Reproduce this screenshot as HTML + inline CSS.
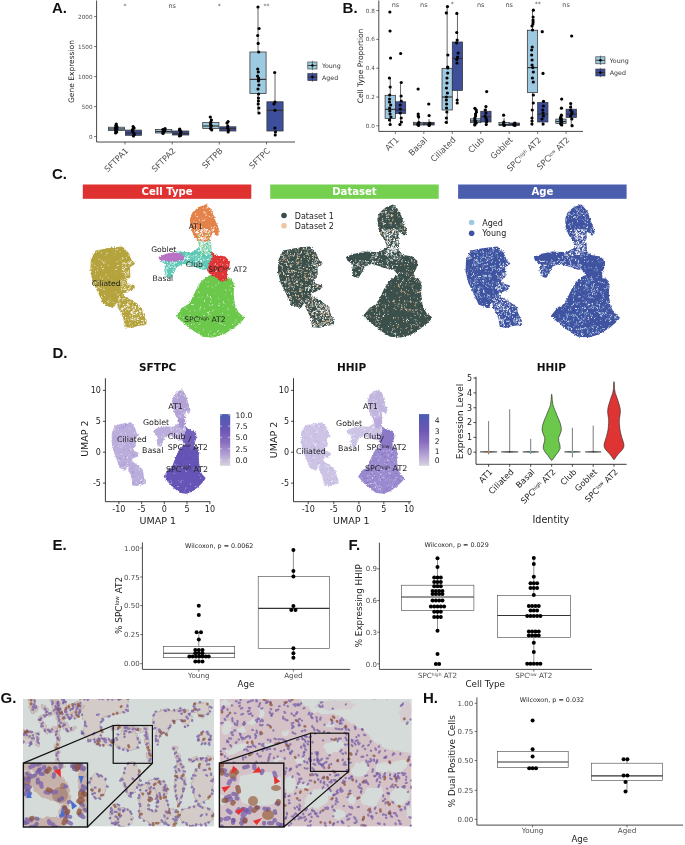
<!DOCTYPE html>
<html><head><meta charset="utf-8"><title>Figure</title>
<style>html,body{margin:0;padding:0;background:#fff;} svg{display:block;}</style></head>
<body><svg width="685" height="845" viewBox="0 0 685 845">
<rect width="685" height="845" fill="#fff"/>
<text x="52" y="13.3" font-size="15" fill="#111" text-anchor="start" font-weight="bold" font-family="'Liberation Sans', Arial, sans-serif">A.</text>
<text x="342.6" y="13" font-size="15" fill="#111" text-anchor="start" font-weight="bold" font-family="'Liberation Sans', Arial, sans-serif">B.</text>
<text x="52" y="179.3" font-size="15" fill="#111" text-anchor="start" font-weight="bold" font-family="'Liberation Sans', Arial, sans-serif">C.</text>
<text x="52.4" y="358.2" font-size="15" fill="#111" text-anchor="start" font-weight="bold" font-family="'Liberation Sans', Arial, sans-serif">D.</text>
<text x="52.5" y="549.8" font-size="15" fill="#111" text-anchor="start" font-weight="bold" font-family="'Liberation Sans', Arial, sans-serif">E.</text>
<text x="348.6" y="549.8" font-size="15" fill="#111" text-anchor="start" font-weight="bold" font-family="'Liberation Sans', Arial, sans-serif">F.</text>
<text x="0.5" y="703" font-size="15" fill="#111" text-anchor="start" font-weight="bold" font-family="'Liberation Sans', Arial, sans-serif">G.</text>
<text x="423" y="703" font-size="15" fill="#111" text-anchor="start" font-weight="bold" font-family="'Liberation Sans', Arial, sans-serif">H.</text>
<line x1="96.6" y1="0.5" x2="96.6" y2="142" stroke="#333333" stroke-width="0.9"/>
<line x1="96.6" y1="142" x2="295" y2="142" stroke="#333333" stroke-width="0.9"/>
<line x1="94.1" y1="136.6" x2="96.6" y2="136.6" stroke="#333333" stroke-width="0.7"/>
<text x="92.6" y="138.6" font-size="5.7" fill="#4d4d4d" text-anchor="end" font-weight="normal" font-family="'DejaVu Sans', 'Liberation Sans', sans-serif">0</text>
<line x1="94.1" y1="106.6" x2="96.6" y2="106.6" stroke="#333333" stroke-width="0.7"/>
<text x="92.6" y="108.6" font-size="5.7" fill="#4d4d4d" text-anchor="end" font-weight="normal" font-family="'DejaVu Sans', 'Liberation Sans', sans-serif">500</text>
<line x1="94.1" y1="76.6" x2="96.6" y2="76.6" stroke="#333333" stroke-width="0.7"/>
<text x="92.6" y="78.6" font-size="5.7" fill="#4d4d4d" text-anchor="end" font-weight="normal" font-family="'DejaVu Sans', 'Liberation Sans', sans-serif">1000</text>
<line x1="94.1" y1="46.6" x2="96.6" y2="46.6" stroke="#333333" stroke-width="0.7"/>
<text x="92.6" y="48.6" font-size="5.7" fill="#4d4d4d" text-anchor="end" font-weight="normal" font-family="'DejaVu Sans', 'Liberation Sans', sans-serif">1500</text>
<line x1="94.1" y1="16.6" x2="96.6" y2="16.6" stroke="#333333" stroke-width="0.7"/>
<text x="92.6" y="18.6" font-size="5.7" fill="#4d4d4d" text-anchor="end" font-weight="normal" font-family="'DejaVu Sans', 'Liberation Sans', sans-serif">2000</text>
<text x="73.5" y="71.5" font-size="7.5" fill="#222" text-anchor="middle" font-weight="normal" font-family="'DejaVu Sans', 'Liberation Sans', sans-serif" transform="rotate(-90 73.5 71.5)">Gene Expression</text>
<line x1="125" y1="142" x2="125" y2="144.5" stroke="#333333" stroke-width="0.7"/>
<text x="129" y="151.2" font-size="8.2" fill="#4d4d4d" text-anchor="end" font-weight="normal" font-family="'DejaVu Sans', 'Liberation Sans', sans-serif" transform="rotate(-45 129 151.2)">SFTPA1</text>
<line x1="172.2" y1="142" x2="172.2" y2="144.5" stroke="#333333" stroke-width="0.7"/>
<text x="176.2" y="151.2" font-size="8.2" fill="#4d4d4d" text-anchor="end" font-weight="normal" font-family="'DejaVu Sans', 'Liberation Sans', sans-serif" transform="rotate(-45 176.2 151.2)">SFTPA2</text>
<line x1="219.3" y1="142" x2="219.3" y2="144.5" stroke="#333333" stroke-width="0.7"/>
<text x="223.3" y="151.2" font-size="8.2" fill="#4d4d4d" text-anchor="end" font-weight="normal" font-family="'DejaVu Sans', 'Liberation Sans', sans-serif" transform="rotate(-45 223.3 151.2)">SFTPB</text>
<line x1="266.5" y1="142" x2="266.5" y2="144.5" stroke="#333333" stroke-width="0.7"/>
<text x="270.5" y="151.2" font-size="8.2" fill="#4d4d4d" text-anchor="end" font-weight="normal" font-family="'DejaVu Sans', 'Liberation Sans', sans-serif" transform="rotate(-45 270.5 151.2)">SFTPC</text>
<line x1="116.5" y1="125" x2="116.5" y2="127.2" stroke="#333" stroke-width="0.75"/>
<line x1="116.5" y1="130.6" x2="116.5" y2="131.5" stroke="#333" stroke-width="0.75"/>
<rect x="108.4" y="127.2" width="16.2" height="3.4" fill="#9ecae1" stroke="#333" stroke-width="0.75"/>
<line x1="108.4" y1="129" x2="124.6" y2="129" stroke="#333" stroke-width="1.2000000000000002"/>
<line x1="133.5" y1="126.5" x2="133.5" y2="130.1" stroke="#333" stroke-width="0.75"/>
<line x1="133.5" y1="135.3" x2="133.5" y2="136" stroke="#333" stroke-width="0.75"/>
<rect x="125.4" y="130.1" width="16.2" height="5.2" fill="#3d4e9b" stroke="#333" stroke-width="0.75"/>
<line x1="125.4" y1="133" x2="141.6" y2="133" stroke="#333" stroke-width="1.2000000000000002"/>
<line x1="163.7" y1="128.5" x2="163.7" y2="129.6" stroke="#333" stroke-width="0.75"/>
<line x1="163.7" y1="133" x2="163.7" y2="133.5" stroke="#333" stroke-width="0.75"/>
<rect x="155.6" y="129.6" width="16.2" height="3.4" fill="#9ecae1" stroke="#333" stroke-width="0.75"/>
<line x1="155.6" y1="131.5" x2="171.8" y2="131.5" stroke="#333" stroke-width="1.2000000000000002"/>
<line x1="180.7" y1="129" x2="180.7" y2="131" stroke="#333" stroke-width="0.75"/>
<line x1="180.7" y1="135" x2="180.7" y2="136" stroke="#333" stroke-width="0.75"/>
<rect x="172.6" y="131" width="16.2" height="4" fill="#3d4e9b" stroke="#333" stroke-width="0.75"/>
<line x1="172.6" y1="133.5" x2="188.8" y2="133.5" stroke="#333" stroke-width="1.2000000000000002"/>
<line x1="210.8" y1="117" x2="210.8" y2="122.5" stroke="#333" stroke-width="0.75"/>
<line x1="210.8" y1="128.5" x2="210.8" y2="130" stroke="#333" stroke-width="0.75"/>
<rect x="202.7" y="122.5" width="16.2" height="6" fill="#9ecae1" stroke="#333" stroke-width="0.75"/>
<line x1="202.7" y1="126" x2="218.9" y2="126" stroke="#333" stroke-width="1.2000000000000002"/>
<line x1="227.8" y1="121.5" x2="227.8" y2="126.8" stroke="#333" stroke-width="0.75"/>
<line x1="227.8" y1="131" x2="227.8" y2="132" stroke="#333" stroke-width="0.75"/>
<rect x="219.7" y="126.8" width="16.2" height="4.2" fill="#3d4e9b" stroke="#333" stroke-width="0.75"/>
<line x1="219.7" y1="128.5" x2="235.9" y2="128.5" stroke="#333" stroke-width="1.2000000000000002"/>
<line x1="258" y1="7" x2="258" y2="52" stroke="#333" stroke-width="0.75"/>
<line x1="258" y1="93.6" x2="258" y2="113" stroke="#333" stroke-width="0.75"/>
<rect x="249.9" y="52" width="16.2" height="41.6" fill="#9ecae1" stroke="#333" stroke-width="0.75"/>
<line x1="249.9" y1="79.4" x2="266.1" y2="79.4" stroke="#333" stroke-width="1.2000000000000002"/>
<line x1="275" y1="72.5" x2="275" y2="101.8" stroke="#333" stroke-width="0.75"/>
<line x1="275" y1="131" x2="275" y2="135" stroke="#333" stroke-width="0.75"/>
<rect x="266.9" y="101.8" width="16.2" height="29.2" fill="#3d4e9b" stroke="#333" stroke-width="0.75"/>
<line x1="266.9" y1="110.3" x2="283.1" y2="110.3" stroke="#333" stroke-width="1.2000000000000002"/>
<circle cx="116.28" cy="124" r="1.6" fill="#000"/>
<circle cx="115.86" cy="125.5" r="1.6" fill="#000"/>
<circle cx="117.06" cy="127" r="1.6" fill="#000"/>
<circle cx="115.67" cy="128" r="1.6" fill="#000"/>
<circle cx="116.79" cy="129" r="1.6" fill="#000"/>
<circle cx="116.38" cy="130" r="1.6" fill="#000"/>
<circle cx="115.64" cy="131" r="1.6" fill="#000"/>
<circle cx="116.72" cy="132" r="1.6" fill="#000"/>
<circle cx="115.59" cy="133" r="1.6" fill="#000"/>
<circle cx="116.54" cy="126" r="1.6" fill="#000"/>
<circle cx="115.67" cy="129.5" r="1.6" fill="#000"/>
<circle cx="115.72" cy="127.5" r="1.6" fill="#000"/>
<circle cx="133.12" cy="126.5" r="1.6" fill="#000"/>
<circle cx="134.08" cy="128" r="1.6" fill="#000"/>
<circle cx="132.4" cy="130" r="1.6" fill="#000"/>
<circle cx="132.64" cy="131.5" r="1.6" fill="#000"/>
<circle cx="133.61" cy="133" r="1.6" fill="#000"/>
<circle cx="134.37" cy="134.5" r="1.6" fill="#000"/>
<circle cx="133.49" cy="136" r="1.6" fill="#000"/>
<circle cx="133.05" cy="129" r="1.6" fill="#000"/>
<circle cx="165.04" cy="128.5" r="1.6" fill="#000"/>
<circle cx="162.81" cy="129.5" r="1.6" fill="#000"/>
<circle cx="164.76" cy="130.5" r="1.6" fill="#000"/>
<circle cx="163.4" cy="131.5" r="1.6" fill="#000"/>
<circle cx="163.05" cy="132.5" r="1.6" fill="#000"/>
<circle cx="162.98" cy="133.5" r="1.6" fill="#000"/>
<circle cx="163.44" cy="130" r="1.6" fill="#000"/>
<circle cx="164.66" cy="131" r="1.6" fill="#000"/>
<circle cx="179.73" cy="129" r="1.6" fill="#000"/>
<circle cx="180.7" cy="131" r="1.6" fill="#000"/>
<circle cx="180.83" cy="132.5" r="1.6" fill="#000"/>
<circle cx="180.19" cy="134" r="1.6" fill="#000"/>
<circle cx="180.61" cy="135.5" r="1.6" fill="#000"/>
<circle cx="179.45" cy="136" r="1.6" fill="#000"/>
<circle cx="179.44" cy="130" r="1.6" fill="#000"/>
<circle cx="210.29" cy="117" r="1.6" fill="#000"/>
<circle cx="211.43" cy="120" r="1.6" fill="#000"/>
<circle cx="210.83" cy="122" r="1.6" fill="#000"/>
<circle cx="210.55" cy="124" r="1.6" fill="#000"/>
<circle cx="211.21" cy="125.5" r="1.6" fill="#000"/>
<circle cx="210.89" cy="127" r="1.6" fill="#000"/>
<circle cx="210.52" cy="128.5" r="1.6" fill="#000"/>
<circle cx="211.71" cy="130" r="1.6" fill="#000"/>
<circle cx="228.08" cy="121.5" r="1.6" fill="#000"/>
<circle cx="226.99" cy="123" r="1.6" fill="#000"/>
<circle cx="227.78" cy="126" r="1.6" fill="#000"/>
<circle cx="227.66" cy="128" r="1.6" fill="#000"/>
<circle cx="228.5" cy="130" r="1.6" fill="#000"/>
<circle cx="228.15" cy="132" r="1.6" fill="#000"/>
<circle cx="257.96" cy="7" r="1.6" fill="#000"/>
<circle cx="259.07" cy="28.5" r="1.6" fill="#000"/>
<circle cx="257.69" cy="35.5" r="1.6" fill="#000"/>
<circle cx="258.17" cy="43.4" r="1.6" fill="#000"/>
<circle cx="258.71" cy="52" r="1.6" fill="#000"/>
<circle cx="257.74" cy="69" r="1.6" fill="#000"/>
<circle cx="258.28" cy="72" r="1.6" fill="#000"/>
<circle cx="257.56" cy="76" r="1.6" fill="#000"/>
<circle cx="258.57" cy="78" r="1.6" fill="#000"/>
<circle cx="258.72" cy="80" r="1.6" fill="#000"/>
<circle cx="258.42" cy="81" r="1.6" fill="#000"/>
<circle cx="258.9" cy="85" r="1.6" fill="#000"/>
<circle cx="258" cy="89" r="1.6" fill="#000"/>
<circle cx="258.61" cy="94" r="1.6" fill="#000"/>
<circle cx="258.45" cy="98" r="1.6" fill="#000"/>
<circle cx="258.43" cy="101" r="1.6" fill="#000"/>
<circle cx="258.23" cy="104" r="1.6" fill="#000"/>
<circle cx="258.84" cy="108" r="1.6" fill="#000"/>
<circle cx="259.01" cy="113" r="1.6" fill="#000"/>
<circle cx="274.66" cy="72.5" r="1.6" fill="#000"/>
<circle cx="274.96" cy="102" r="1.6" fill="#000"/>
<circle cx="274" cy="104" r="1.6" fill="#000"/>
<circle cx="275.02" cy="110.3" r="1.6" fill="#000"/>
<circle cx="274.94" cy="128" r="1.6" fill="#000"/>
<circle cx="275.49" cy="132" r="1.6" fill="#000"/>
<circle cx="275.22" cy="135" r="1.6" fill="#000"/>
<text x="125" y="7.5" font-size="6" fill="#4d4d4d" text-anchor="middle" font-weight="normal" font-family="'DejaVu Sans', 'Liberation Sans', sans-serif">*</text>
<text x="172.2" y="8" font-size="6.5" fill="#4d4d4d" text-anchor="middle" font-weight="normal" font-family="'DejaVu Sans', 'Liberation Sans', sans-serif">ns</text>
<text x="219.3" y="7.5" font-size="6" fill="#4d4d4d" text-anchor="middle" font-weight="normal" font-family="'DejaVu Sans', 'Liberation Sans', sans-serif">*</text>
<text x="266.5" y="7.5" font-size="6" fill="#4d4d4d" text-anchor="middle" font-weight="normal" font-family="'DejaVu Sans', 'Liberation Sans', sans-serif">**</text>
<rect x="307.8" y="62" width="9.2" height="7" fill="#9ecae1" stroke="#333" stroke-width="0.6"/>
<line x1="312.4" y1="60.8" x2="312.4" y2="70.2" stroke="#333" stroke-width="0.6"/>
<line x1="307.8" y1="65.5" x2="317" y2="65.5" stroke="#333" stroke-width="0.9"/>
<circle cx="312.4" cy="65.5" r="1.3" fill="#000"/>
<text x="322" y="68.2" font-size="6.3" fill="#333" text-anchor="start" font-weight="normal" font-family="'DejaVu Sans', 'Liberation Sans', sans-serif">Young</text>
<rect x="307.8" y="73.6" width="9.2" height="7" fill="#3d4e9b" stroke="#333" stroke-width="0.6"/>
<line x1="312.4" y1="72.4" x2="312.4" y2="81.8" stroke="#333" stroke-width="0.6"/>
<line x1="307.8" y1="77.1" x2="317" y2="77.1" stroke="#333" stroke-width="0.9"/>
<circle cx="312.4" cy="77.1" r="1.3" fill="#000"/>
<text x="322" y="79.8" font-size="6.3" fill="#333" text-anchor="start" font-weight="normal" font-family="'DejaVu Sans', 'Liberation Sans', sans-serif">Aged</text>
<line x1="378.8" y1="0.5" x2="378.8" y2="131.4" stroke="#333333" stroke-width="0.9"/>
<line x1="378.8" y1="131.4" x2="583" y2="131.4" stroke="#333333" stroke-width="0.9"/>
<line x1="376.3" y1="125.8" x2="378.8" y2="125.8" stroke="#333333" stroke-width="0.7"/>
<text x="374.8" y="127.8" font-size="5.7" fill="#4d4d4d" text-anchor="end" font-weight="normal" font-family="'DejaVu Sans', 'Liberation Sans', sans-serif">0.0</text>
<line x1="376.3" y1="97" x2="378.8" y2="97" stroke="#333333" stroke-width="0.7"/>
<text x="374.8" y="99" font-size="5.7" fill="#4d4d4d" text-anchor="end" font-weight="normal" font-family="'DejaVu Sans', 'Liberation Sans', sans-serif">0.2</text>
<line x1="376.3" y1="68.2" x2="378.8" y2="68.2" stroke="#333333" stroke-width="0.7"/>
<text x="374.8" y="70.2" font-size="5.7" fill="#4d4d4d" text-anchor="end" font-weight="normal" font-family="'DejaVu Sans', 'Liberation Sans', sans-serif">0.4</text>
<line x1="376.3" y1="39.4" x2="378.8" y2="39.4" stroke="#333333" stroke-width="0.7"/>
<text x="374.8" y="41.4" font-size="5.7" fill="#4d4d4d" text-anchor="end" font-weight="normal" font-family="'DejaVu Sans', 'Liberation Sans', sans-serif">0.6</text>
<line x1="376.3" y1="10.6" x2="378.8" y2="10.6" stroke="#333333" stroke-width="0.7"/>
<text x="374.8" y="12.6" font-size="5.7" fill="#4d4d4d" text-anchor="end" font-weight="normal" font-family="'DejaVu Sans', 'Liberation Sans', sans-serif">0.8</text>
<text x="362.5" y="66" font-size="7.5" fill="#222" text-anchor="middle" font-weight="normal" font-family="'DejaVu Sans', 'Liberation Sans', sans-serif" transform="rotate(-90 362.5 66)">Cell Type Proportion</text>
<line x1="395.4" y1="131.4" x2="395.4" y2="133.9" stroke="#333333" stroke-width="0.7"/>
<text x="399.4" y="140.4" font-size="8.3" fill="#4d4d4d" text-anchor="end" font-weight="normal" font-family="'DejaVu Sans', 'Liberation Sans', sans-serif" transform="rotate(-45 399.4 140.4)">AT1</text>
<line x1="423.85" y1="131.4" x2="423.85" y2="133.9" stroke="#333333" stroke-width="0.7"/>
<text x="427.85" y="140.4" font-size="8.3" fill="#4d4d4d" text-anchor="end" font-weight="normal" font-family="'DejaVu Sans', 'Liberation Sans', sans-serif" transform="rotate(-45 427.85 140.4)">Basal</text>
<line x1="452.3" y1="131.4" x2="452.3" y2="133.9" stroke="#333333" stroke-width="0.7"/>
<text x="456.3" y="140.4" font-size="8.3" fill="#4d4d4d" text-anchor="end" font-weight="normal" font-family="'DejaVu Sans', 'Liberation Sans', sans-serif" transform="rotate(-45 456.3 140.4)">Ciliated</text>
<line x1="480.75" y1="131.4" x2="480.75" y2="133.9" stroke="#333333" stroke-width="0.7"/>
<text x="484.75" y="140.4" font-size="8.3" fill="#4d4d4d" text-anchor="end" font-weight="normal" font-family="'DejaVu Sans', 'Liberation Sans', sans-serif" transform="rotate(-45 484.75 140.4)">Club</text>
<line x1="509.2" y1="131.4" x2="509.2" y2="133.9" stroke="#333333" stroke-width="0.7"/>
<text x="513.2" y="140.4" font-size="8.3" fill="#4d4d4d" text-anchor="end" font-weight="normal" font-family="'DejaVu Sans', 'Liberation Sans', sans-serif" transform="rotate(-45 513.2 140.4)">Goblet</text>
<line x1="537.65" y1="131.4" x2="537.65" y2="133.9" stroke="#333333" stroke-width="0.7"/>
<text x="541.65" y="140.4" font-size="8.3" fill="#4d4d4d" text-anchor="end" font-weight="normal" font-family="'DejaVu Sans', 'Liberation Sans', sans-serif" transform="rotate(-45 541.65 140.4)">SPC<tspan font-size="4.8" dy="-2.2">high</tspan><tspan dy="2.2"> AT2</tspan></text>
<line x1="566.1" y1="131.4" x2="566.1" y2="133.9" stroke="#333333" stroke-width="0.7"/>
<text x="570.1" y="140.4" font-size="8.3" fill="#4d4d4d" text-anchor="end" font-weight="normal" font-family="'DejaVu Sans', 'Liberation Sans', sans-serif" transform="rotate(-45 570.1 140.4)">SPC<tspan font-size="4.8" dy="-2.2">low</tspan><tspan dy="2.2"> AT2</tspan></text>
<line x1="390.25" y1="78" x2="390.25" y2="95.3" stroke="#333" stroke-width="0.75"/>
<line x1="390.25" y1="118.5" x2="390.25" y2="124.5" stroke="#333" stroke-width="0.75"/>
<rect x="385.1" y="95.3" width="10.3" height="23.2" fill="#9ecae1" stroke="#333" stroke-width="0.75"/>
<line x1="385.1" y1="109.4" x2="395.4" y2="109.4" stroke="#333" stroke-width="1.2000000000000002"/>
<line x1="400.55" y1="84" x2="400.55" y2="101.8" stroke="#333" stroke-width="0.75"/>
<line x1="400.55" y1="113.5" x2="400.55" y2="124" stroke="#333" stroke-width="0.75"/>
<rect x="395.4" y="101.8" width="10.3" height="11.7" fill="#3d4e9b" stroke="#333" stroke-width="0.75"/>
<line x1="395.4" y1="110" x2="405.7" y2="110" stroke="#333" stroke-width="1.2000000000000002"/>
<line x1="418.7" y1="118" x2="418.7" y2="122.3" stroke="#333" stroke-width="0.75"/>
<line x1="418.7" y1="125" x2="418.7" y2="125.8" stroke="#333" stroke-width="0.75"/>
<rect x="413.55" y="122.3" width="10.3" height="2.7" fill="#9ecae1" stroke="#333" stroke-width="0.75"/>
<line x1="413.55" y1="124" x2="423.85" y2="124" stroke="#333" stroke-width="1.2000000000000002"/>
<line x1="429" y1="119" x2="429" y2="122.5" stroke="#333" stroke-width="0.75"/>
<line x1="429" y1="125" x2="429" y2="125.8" stroke="#333" stroke-width="0.75"/>
<rect x="423.85" y="122.5" width="10.3" height="2.5" fill="#3d4e9b" stroke="#333" stroke-width="0.75"/>
<line x1="423.85" y1="124" x2="434.15" y2="124" stroke="#333" stroke-width="1.2000000000000002"/>
<line x1="447.15" y1="6.6" x2="447.15" y2="68.3" stroke="#333" stroke-width="0.75"/>
<line x1="447.15" y1="110" x2="447.15" y2="124" stroke="#333" stroke-width="0.75"/>
<rect x="442" y="68.3" width="10.3" height="41.7" fill="#9ecae1" stroke="#333" stroke-width="0.75"/>
<line x1="442" y1="97" x2="452.3" y2="97" stroke="#333" stroke-width="1.2000000000000002"/>
<line x1="457.45" y1="13.4" x2="457.45" y2="42" stroke="#333" stroke-width="0.75"/>
<line x1="457.45" y1="90.4" x2="457.45" y2="103" stroke="#333" stroke-width="0.75"/>
<rect x="452.3" y="42" width="10.3" height="48.4" fill="#3d4e9b" stroke="#333" stroke-width="0.75"/>
<line x1="452.3" y1="58.4" x2="462.6" y2="58.4" stroke="#333" stroke-width="1.2000000000000002"/>
<line x1="475.6" y1="110" x2="475.6" y2="118.8" stroke="#333" stroke-width="0.75"/>
<line x1="475.6" y1="122.7" x2="475.6" y2="125.8" stroke="#333" stroke-width="0.75"/>
<rect x="470.45" y="118.8" width="10.3" height="3.9" fill="#9ecae1" stroke="#333" stroke-width="0.75"/>
<line x1="470.45" y1="121" x2="480.75" y2="121" stroke="#333" stroke-width="1.2000000000000002"/>
<line x1="485.9" y1="106.5" x2="485.9" y2="111.3" stroke="#333" stroke-width="0.75"/>
<line x1="485.9" y1="122" x2="485.9" y2="125.8" stroke="#333" stroke-width="0.75"/>
<rect x="480.75" y="111.3" width="10.3" height="10.7" fill="#3d4e9b" stroke="#333" stroke-width="0.75"/>
<line x1="480.75" y1="116.7" x2="491.05" y2="116.7" stroke="#333" stroke-width="1.2000000000000002"/>
<line x1="504.05" y1="118" x2="504.05" y2="122.6" stroke="#333" stroke-width="0.75"/>
<line x1="504.05" y1="125.4" x2="504.05" y2="125.8" stroke="#333" stroke-width="0.75"/>
<rect x="498.9" y="122.6" width="10.3" height="2.8" fill="#9ecae1" stroke="#333" stroke-width="0.75"/>
<line x1="498.9" y1="124.5" x2="509.2" y2="124.5" stroke="#333" stroke-width="1.2000000000000002"/>
<line x1="514.35" y1="123" x2="514.35" y2="123" stroke="#333" stroke-width="0.75"/>
<line x1="514.35" y1="125.4" x2="514.35" y2="125.8" stroke="#333" stroke-width="0.75"/>
<rect x="509.2" y="123" width="10.3" height="2.4" fill="#3d4e9b" stroke="#333" stroke-width="0.75"/>
<line x1="509.2" y1="124.6" x2="519.5" y2="124.6" stroke="#333" stroke-width="1.2000000000000002"/>
<line x1="532.5" y1="10.9" x2="532.5" y2="30.2" stroke="#333" stroke-width="0.75"/>
<line x1="532.5" y1="92.4" x2="532.5" y2="125.7" stroke="#333" stroke-width="0.75"/>
<rect x="527.35" y="30.2" width="10.3" height="62.2" fill="#9ecae1" stroke="#333" stroke-width="0.75"/>
<line x1="527.35" y1="67.6" x2="537.65" y2="67.6" stroke="#333" stroke-width="1.2000000000000002"/>
<line x1="542.8" y1="101.3" x2="542.8" y2="102.6" stroke="#333" stroke-width="0.75"/>
<line x1="542.8" y1="122" x2="542.8" y2="125.7" stroke="#333" stroke-width="0.75"/>
<rect x="537.65" y="102.6" width="10.3" height="19.4" fill="#3d4e9b" stroke="#333" stroke-width="0.75"/>
<line x1="537.65" y1="114.3" x2="547.95" y2="114.3" stroke="#333" stroke-width="1.2000000000000002"/>
<line x1="560.95" y1="117" x2="560.95" y2="119.1" stroke="#333" stroke-width="0.75"/>
<line x1="560.95" y1="123.5" x2="560.95" y2="125.7" stroke="#333" stroke-width="0.75"/>
<rect x="555.8" y="119.1" width="10.3" height="4.4" fill="#9ecae1" stroke="#333" stroke-width="0.75"/>
<line x1="555.8" y1="121.5" x2="566.1" y2="121.5" stroke="#333" stroke-width="1.2000000000000002"/>
<line x1="571.25" y1="103.5" x2="571.25" y2="109.2" stroke="#333" stroke-width="0.75"/>
<line x1="571.25" y1="117.4" x2="571.25" y2="125.7" stroke="#333" stroke-width="0.75"/>
<rect x="566.1" y="109.2" width="10.3" height="8.2" fill="#3d4e9b" stroke="#333" stroke-width="0.75"/>
<line x1="566.1" y1="114" x2="576.4" y2="114" stroke="#333" stroke-width="1.2000000000000002"/>
<circle cx="389.86" cy="12" r="1.6" fill="#000"/>
<circle cx="390.04" cy="31" r="1.6" fill="#000"/>
<circle cx="390.55" cy="58" r="1.6" fill="#000"/>
<circle cx="389.39" cy="78" r="1.6" fill="#000"/>
<circle cx="390.18" cy="87" r="1.6" fill="#000"/>
<circle cx="389.65" cy="95" r="1.6" fill="#000"/>
<circle cx="389.56" cy="99" r="1.6" fill="#000"/>
<circle cx="389.46" cy="102" r="1.6" fill="#000"/>
<circle cx="390.73" cy="105" r="1.6" fill="#000"/>
<circle cx="389.58" cy="108" r="1.6" fill="#000"/>
<circle cx="389.8" cy="111" r="1.6" fill="#000"/>
<circle cx="390.05" cy="114" r="1.6" fill="#000"/>
<circle cx="390.92" cy="117" r="1.6" fill="#000"/>
<circle cx="389.5" cy="120" r="1.6" fill="#000"/>
<circle cx="390.16" cy="124.5" r="1.6" fill="#000"/>
<circle cx="400.64" cy="53.5" r="1.6" fill="#000"/>
<circle cx="401.24" cy="82.5" r="1.6" fill="#000"/>
<circle cx="401.12" cy="96" r="1.6" fill="#000"/>
<circle cx="401.21" cy="101" r="1.6" fill="#000"/>
<circle cx="400.15" cy="105" r="1.6" fill="#000"/>
<circle cx="400.4" cy="109" r="1.6" fill="#000"/>
<circle cx="400.3" cy="113" r="1.6" fill="#000"/>
<circle cx="401.24" cy="118" r="1.6" fill="#000"/>
<circle cx="401.37" cy="122" r="1.6" fill="#000"/>
<circle cx="399.92" cy="124.5" r="1.6" fill="#000"/>
<circle cx="418.12" cy="89" r="1.6" fill="#000"/>
<circle cx="418.22" cy="114" r="1.6" fill="#000"/>
<circle cx="418.22" cy="116" r="1.6" fill="#000"/>
<circle cx="418.67" cy="117" r="1.6" fill="#000"/>
<circle cx="418.86" cy="122.5" r="1.6" fill="#000"/>
<circle cx="418.27" cy="123.5" r="1.6" fill="#000"/>
<circle cx="417.81" cy="124.5" r="1.6" fill="#000"/>
<circle cx="418.55" cy="125.5" r="1.6" fill="#000"/>
<circle cx="428.76" cy="104" r="1.6" fill="#000"/>
<circle cx="429.12" cy="115.6" r="1.6" fill="#000"/>
<circle cx="429.82" cy="123" r="1.6" fill="#000"/>
<circle cx="429.34" cy="124" r="1.6" fill="#000"/>
<circle cx="429.03" cy="125" r="1.6" fill="#000"/>
<circle cx="429.21" cy="125.5" r="1.6" fill="#000"/>
<circle cx="447.47" cy="6.6" r="1.6" fill="#000"/>
<circle cx="446.35" cy="12.9" r="1.6" fill="#000"/>
<circle cx="447.87" cy="55" r="1.6" fill="#000"/>
<circle cx="447.65" cy="67" r="1.6" fill="#000"/>
<circle cx="447.82" cy="68" r="1.6" fill="#000"/>
<circle cx="447.69" cy="73" r="1.6" fill="#000"/>
<circle cx="446.96" cy="78" r="1.6" fill="#000"/>
<circle cx="446.97" cy="83" r="1.6" fill="#000"/>
<circle cx="446.44" cy="88" r="1.6" fill="#000"/>
<circle cx="447.39" cy="93" r="1.6" fill="#000"/>
<circle cx="446.36" cy="97" r="1.6" fill="#000"/>
<circle cx="446.37" cy="100" r="1.6" fill="#000"/>
<circle cx="446.63" cy="104" r="1.6" fill="#000"/>
<circle cx="446.54" cy="108" r="1.6" fill="#000"/>
<circle cx="446.86" cy="112" r="1.6" fill="#000"/>
<circle cx="446.34" cy="118" r="1.6" fill="#000"/>
<circle cx="446.25" cy="122.3" r="1.6" fill="#000"/>
<circle cx="456.82" cy="13.4" r="1.6" fill="#000"/>
<circle cx="456.73" cy="32.5" r="1.6" fill="#000"/>
<circle cx="457.2" cy="40" r="1.6" fill="#000"/>
<circle cx="456.6" cy="42.8" r="1.6" fill="#000"/>
<circle cx="458.12" cy="53" r="1.6" fill="#000"/>
<circle cx="457.66" cy="57" r="1.6" fill="#000"/>
<circle cx="456.82" cy="59.5" r="1.6" fill="#000"/>
<circle cx="457" cy="63" r="1.6" fill="#000"/>
<circle cx="457.18" cy="100" r="1.6" fill="#000"/>
<circle cx="457.21" cy="103" r="1.6" fill="#000"/>
<circle cx="474.92" cy="108.3" r="1.6" fill="#000"/>
<circle cx="476.23" cy="110" r="1.6" fill="#000"/>
<circle cx="476.49" cy="112" r="1.6" fill="#000"/>
<circle cx="475.54" cy="114" r="1.6" fill="#000"/>
<circle cx="475.57" cy="116" r="1.6" fill="#000"/>
<circle cx="474.85" cy="118" r="1.6" fill="#000"/>
<circle cx="474.88" cy="120" r="1.6" fill="#000"/>
<circle cx="475.32" cy="121" r="1.6" fill="#000"/>
<circle cx="475.18" cy="122" r="1.6" fill="#000"/>
<circle cx="476.19" cy="123" r="1.6" fill="#000"/>
<circle cx="474.99" cy="124" r="1.6" fill="#000"/>
<circle cx="474.74" cy="125" r="1.6" fill="#000"/>
<circle cx="486.71" cy="91.6" r="1.6" fill="#000"/>
<circle cx="485.95" cy="106.5" r="1.6" fill="#000"/>
<circle cx="485.26" cy="110" r="1.6" fill="#000"/>
<circle cx="485.98" cy="113" r="1.6" fill="#000"/>
<circle cx="485.05" cy="116" r="1.6" fill="#000"/>
<circle cx="485.95" cy="118" r="1.6" fill="#000"/>
<circle cx="486.76" cy="120" r="1.6" fill="#000"/>
<circle cx="486.55" cy="122" r="1.6" fill="#000"/>
<circle cx="486.25" cy="124.5" r="1.6" fill="#000"/>
<circle cx="503.62" cy="115.2" r="1.6" fill="#000"/>
<circle cx="503.81" cy="122" r="1.6" fill="#000"/>
<circle cx="503.45" cy="124" r="1.6" fill="#000"/>
<circle cx="504.54" cy="125" r="1.6" fill="#000"/>
<circle cx="504.11" cy="125.5" r="1.6" fill="#000"/>
<circle cx="514.85" cy="123" r="1.6" fill="#000"/>
<circle cx="514.04" cy="124" r="1.6" fill="#000"/>
<circle cx="513.85" cy="125" r="1.6" fill="#000"/>
<circle cx="514.91" cy="125.5" r="1.6" fill="#000"/>
<circle cx="533.37" cy="10.2" r="1.6" fill="#000"/>
<circle cx="533.13" cy="17" r="1.6" fill="#000"/>
<circle cx="533.05" cy="20" r="1.6" fill="#000"/>
<circle cx="533.07" cy="22" r="1.6" fill="#000"/>
<circle cx="532.93" cy="24" r="1.6" fill="#000"/>
<circle cx="532.01" cy="26" r="1.6" fill="#000"/>
<circle cx="532.53" cy="30" r="1.6" fill="#000"/>
<circle cx="532.24" cy="47" r="1.6" fill="#000"/>
<circle cx="531.65" cy="50" r="1.6" fill="#000"/>
<circle cx="531.65" cy="55" r="1.6" fill="#000"/>
<circle cx="532.1" cy="60" r="1.6" fill="#000"/>
<circle cx="532.07" cy="65" r="1.6" fill="#000"/>
<circle cx="532.85" cy="67.6" r="1.6" fill="#000"/>
<circle cx="533.32" cy="72" r="1.6" fill="#000"/>
<circle cx="532.41" cy="78" r="1.6" fill="#000"/>
<circle cx="533.29" cy="82" r="1.6" fill="#000"/>
<circle cx="533.38" cy="95" r="1.6" fill="#000"/>
<circle cx="533.32" cy="103" r="1.6" fill="#000"/>
<circle cx="532.26" cy="110" r="1.6" fill="#000"/>
<circle cx="532" cy="118" r="1.6" fill="#000"/>
<circle cx="532.01" cy="121" r="1.6" fill="#000"/>
<circle cx="531.95" cy="124" r="1.6" fill="#000"/>
<circle cx="542.27" cy="31.7" r="1.6" fill="#000"/>
<circle cx="543.02" cy="73.4" r="1.6" fill="#000"/>
<circle cx="543.52" cy="101.3" r="1.6" fill="#000"/>
<circle cx="543.41" cy="106" r="1.6" fill="#000"/>
<circle cx="542.76" cy="110" r="1.6" fill="#000"/>
<circle cx="543.08" cy="113" r="1.6" fill="#000"/>
<circle cx="543.34" cy="116" r="1.6" fill="#000"/>
<circle cx="542.05" cy="119" r="1.6" fill="#000"/>
<circle cx="543.09" cy="124" r="1.6" fill="#000"/>
<circle cx="561.69" cy="99.1" r="1.6" fill="#000"/>
<circle cx="561.46" cy="108.2" r="1.6" fill="#000"/>
<circle cx="561.4" cy="115.2" r="1.6" fill="#000"/>
<circle cx="560.91" cy="117" r="1.6" fill="#000"/>
<circle cx="560.37" cy="118" r="1.6" fill="#000"/>
<circle cx="561.47" cy="119" r="1.6" fill="#000"/>
<circle cx="560.65" cy="120" r="1.6" fill="#000"/>
<circle cx="561.49" cy="121" r="1.6" fill="#000"/>
<circle cx="561.8" cy="122" r="1.6" fill="#000"/>
<circle cx="560.76" cy="123" r="1.6" fill="#000"/>
<circle cx="560.77" cy="124" r="1.6" fill="#000"/>
<circle cx="561.75" cy="125" r="1.6" fill="#000"/>
<circle cx="571.65" cy="36" r="1.6" fill="#000"/>
<circle cx="570.66" cy="103.5" r="1.6" fill="#000"/>
<circle cx="570.58" cy="107" r="1.6" fill="#000"/>
<circle cx="570.62" cy="110" r="1.6" fill="#000"/>
<circle cx="571.98" cy="112" r="1.6" fill="#000"/>
<circle cx="571.8" cy="114" r="1.6" fill="#000"/>
<circle cx="570.61" cy="116" r="1.6" fill="#000"/>
<circle cx="571.84" cy="119" r="1.6" fill="#000"/>
<circle cx="572.11" cy="125.7" r="1.6" fill="#000"/>
<text x="395.4" y="6.5" font-size="6.5" fill="#4d4d4d" text-anchor="middle" font-weight="normal" font-family="'DejaVu Sans', 'Liberation Sans', sans-serif">ns</text>
<text x="423.85" y="6.5" font-size="6.5" fill="#4d4d4d" text-anchor="middle" font-weight="normal" font-family="'DejaVu Sans', 'Liberation Sans', sans-serif">ns</text>
<text x="452.3" y="6" font-size="6" fill="#4d4d4d" text-anchor="middle" font-weight="normal" font-family="'DejaVu Sans', 'Liberation Sans', sans-serif">*</text>
<text x="480.75" y="6.5" font-size="6.5" fill="#4d4d4d" text-anchor="middle" font-weight="normal" font-family="'DejaVu Sans', 'Liberation Sans', sans-serif">ns</text>
<text x="509.2" y="6.5" font-size="6.5" fill="#4d4d4d" text-anchor="middle" font-weight="normal" font-family="'DejaVu Sans', 'Liberation Sans', sans-serif">ns</text>
<text x="537.65" y="6" font-size="6" fill="#4d4d4d" text-anchor="middle" font-weight="normal" font-family="'DejaVu Sans', 'Liberation Sans', sans-serif">**</text>
<text x="566.1" y="6.5" font-size="6.5" fill="#4d4d4d" text-anchor="middle" font-weight="normal" font-family="'DejaVu Sans', 'Liberation Sans', sans-serif">ns</text>
<rect x="595.8" y="56.8" width="9.2" height="7" fill="#9ecae1" stroke="#333" stroke-width="0.6"/>
<line x1="600.4" y1="55.6" x2="600.4" y2="65" stroke="#333" stroke-width="0.6"/>
<line x1="595.8" y1="60.3" x2="605" y2="60.3" stroke="#333" stroke-width="0.9"/>
<circle cx="600.4" cy="60.3" r="1.3" fill="#000"/>
<text x="609.8" y="63" font-size="6.3" fill="#333" text-anchor="start" font-weight="normal" font-family="'DejaVu Sans', 'Liberation Sans', sans-serif">Young</text>
<rect x="595.8" y="69" width="9.2" height="7" fill="#3d4e9b" stroke="#333" stroke-width="0.6"/>
<line x1="600.4" y1="67.8" x2="600.4" y2="77.2" stroke="#333" stroke-width="0.6"/>
<line x1="595.8" y1="72.5" x2="605" y2="72.5" stroke="#333" stroke-width="0.9"/>
<circle cx="600.4" cy="72.5" r="1.3" fill="#000"/>
<text x="609.8" y="75.2" font-size="6.3" fill="#333" text-anchor="start" font-weight="normal" font-family="'DejaVu Sans', 'Liberation Sans', sans-serif">Aged</text>
<defs><filter id="rag" x="-3%" y="-3%" width="106%" height="106%"><feTurbulence type="fractalNoise" baseFrequency="0.7" numOctaves="2" seed="4" result="t"/><feDisplacementMap in="SourceGraphic" in2="t" scale="3" xChannelSelector="R" yChannelSelector="G"/></filter></defs>
<g filter="url(#rag)">
<g transform="translate(0 0) scale(1 1)">
<polygon points="96,251.2 107.3,249 121.9,247.3 127.5,252.4 130.9,260.2 134.2,263.6 129.2,267 129.7,276 125.2,280.4 127.5,283.8 134.2,286.1 132,289.4 126.4,291.7 121.9,292.8 125.2,297.3 133.1,301.8 141,307.4 142.1,313 146,320.9 145.5,324.3 137.6,325.4 132,327.1 125.2,326.5 124.1,318.7 121.9,313 118.5,307.4 117.5,300.5 112.9,307.4 103.9,304 99.4,293.9 93.8,282.7 91,271.5 91.5,260.2" fill="#b5a33c" stroke="#b5a33c" stroke-width="1.4" stroke-linejoin="round"/>
<polygon points="212,275.4 217.2,277 221.5,281.3 226.5,279 230.7,279.2 233.6,285 232.9,293.8 234.4,305.5 238,312.8 243.9,317.9 240.9,321.5 233.6,327.4 223.4,333.9 213.2,336.9 203,336.1 192.8,329.6 182.5,321.5 176.7,315.7 182.5,308.4 189.8,304 192.8,298.2 197.1,289.4 201.5,282.1 208.8,276.3" fill="#6cc84b" stroke="#6cc84b" stroke-width="1.4" stroke-linejoin="round"/>
<polygon points="210.3,251.5 216.1,255.8 224.9,257.3 229.3,261.7 228.5,267.5 226.3,271.9 226.5,279 221.5,281.3 217.2,277 212,275.4 208.5,271.5 207,268.5 209,262 212,256" fill="#df3434" stroke="#df3434" stroke-width="1.4" stroke-linejoin="round"/>
<polygon points="205.9,205.1 211.7,211.7 214.7,220.4 217.6,227.7 219,231.4 216.8,235 213.9,231.4 211,233.6 210.3,240.9 205,242.5 198.6,240.9 194.2,235 191.3,227.7 190.6,219 192.8,213.1 198.6,208" fill="#e4834a" stroke="#e4834a" stroke-width="1.4" stroke-linejoin="round"/>
<polygon points="198.6,240.9 205,242.5 210.3,240.9 211,248.2 210.3,251.5 206,255 201,254.5 200.1,248.2" fill="#9ad9cb" stroke="#9ad9cb" stroke-width="1.4" stroke-linejoin="round"/>
<polygon points="164,260 170,260.8 177,260.5 183,259.5 183.4,256.5 180,254 176.7,252.2 191.3,252.9 200.1,248.2 201,254.5 206,255 210.3,251.5 212,256 209,262 207,268.5 203,269 194.2,266.1 184,263.1 176.7,266.1 173.8,271.9 170.9,277 166.5,276.3 165,270.4 166.5,264.6 160.6,260.2" fill="#5ec9b6" stroke="#5ec9b6" stroke-width="1.4" stroke-linejoin="round"/>
<polygon points="159.2,257.3 166.5,254.4 173,253.2 180,254 183.4,256.5 183,259.5 177,260.5 170,260.8 164,260 160.6,260.2" fill="#b873c4" stroke="#b873c4" stroke-width="1.4" stroke-linejoin="round"/>
<path d="M115.9 292.0h0M118.9 294.2h0M101.2 288.2h0M125.6 310.6h0M96.2 271.5h0M145.0 324.3h0M120.1 252.1h0M101.5 266.6h0M119.6 298.4h0M118.5 300.2h0M116.2 269.5h0M108.3 265.6h0M106.9 252.9h0M95.8 273.8h0M97.5 267.0h0M96.6 252.1h0M121.8 283.0h0M97.4 280.9h0M102.7 268.8h0M102.6 278.8h0M102.7 267.9h0M107.3 253.2h0M104.4 295.3h0M111.4 283.5h0M101.1 259.6h0M141.0 312.6h0M104.7 262.4h0M131.7 322.3h0M114.2 255.6h0M104.1 303.5h0M123.8 270.7h0M94.8 265.5h0M124.8 269.7h0M91.9 268.8h0M115.5 252.1h0M100.7 276.7h0M122.5 257.8h0M129.6 324.1h0M131.5 319.1h0M131.5 303.5h0M134.6 320.3h0M110.4 302.0h0M140.5 316.8h0M125.4 277.8h0M123.0 295.9h0M117.5 265.7h0M129.4 287.0h0M124.8 320.8h0M107.6 301.4h0M102.1 260.8h0M109.0 300.4h0M101.9 281.7h0M135.3 320.3h0M123.1 272.6h0M98.5 286.9h0M137.0 315.0h0M130.1 323.1h0M106.2 260.8h0M115.8 269.3h0M102.8 280.3h0M125.4 286.7h0M116.0 249.3h0M98.7 251.0h0M125.6 282.9h0M125.6 299.6h0M135.4 323.8h0M128.6 263.2h0M117.1 261.6h0M130.3 261.6h0M106.0 274.9h0M129.4 288.8h0M124.8 307.6h0M98.1 283.5h0M125.4 319.9h0M111.7 292.7h0M139.4 310.9h0M126.8 263.7h0M130.7 312.6h0M126.3 304.6h0M120.5 310.4h0M95.6 282.5h0M121.3 308.6h0M117.8 249.6h0M98.7 259.2h0M119.4 305.0h0M103.2 289.3h0M126.1 289.0h0M108.1 277.7h0M137.5 319.2h0M122.5 263.3h0M120.5 287.5h0M124.3 249.5h0M122.0 286.5h0M120.6 280.3h0M143.6 321.0h0M105.8 285.1h0M98.0 281.9h0M135.9 319.2h0M117.2 272.6h0M101.5 296.6h0M101.7 265.4h0M128.8 273.0h0M110.5 296.8h0M97.8 288.0h0M104.8 263.1h0M120.2 282.2h0M111.7 280.3h0M120.1 260.0h0M102.2 297.7h0M126.1 289.6h0M131.7 312.0h0M105.3 255.0h0M113.2 302.0h0M92.0 263.3h0M128.5 320.0h0M118.8 307.8h0M118.7 302.0h0M101.4 252.9h0M121.3 288.4h0M122.3 259.0h0" stroke="#fff" stroke-width="0.90" stroke-linecap="round" fill="none"/>
<path d="M122.8 299.8h0M130.7 319.0h0M126.8 308.8h0M132.2 307.6h0M137.5 321.8h0M122.7 308.4h0M138.6 306.7h0M123.1 298.5h0M143.0 320.3h0M137.6 322.3h0M135.4 306.7h0M134.6 310.1h0M145.5 320.4h0M124.9 324.1h0M138.7 319.5h0M143.1 323.0h0M137.3 319.1h0M139.3 306.7h0M127.2 308.9h0M135.7 314.2h0M136.5 304.4h0M136.3 312.3h0M132.7 306.2h0M137.5 318.9h0M135.0 318.1h0M124.8 306.6h0M118.9 299.5h0M133.2 310.2h0M134.5 318.8h0M122.1 309.0h0M122.3 309.8h0M132.5 313.3h0M127.9 302.6h0M136.2 312.0h0M125.6 317.4h0M128.6 323.6h0M129.7 309.2h0M132.4 324.9h0M138.1 308.9h0M145.4 320.8h0M135.3 308.4h0M130.1 315.7h0M130.5 301.8h0M134.1 307.2h0M139.7 311.0h0M139.9 314.2h0M127.7 302.1h0M137.0 312.2h0M134.4 314.5h0M143.6 322.9h0M125.2 307.4h0M133.2 314.4h0M128.1 309.2h0M123.5 304.6h0M138.7 321.6h0M119.6 296.9h0M140.6 314.2h0M129.6 301.7h0M126.8 311.6h0M138.8 324.4h0M129.7 305.5h0M133.6 309.4h0M123.6 315.5h0M119.8 303.2h0M138.2 316.6h0M125.6 297.7h0M127.7 317.7h0M137.7 312.3h0M126.6 306.5h0M144.1 323.5h0M124.6 305.2h0M127.9 305.3h0M128.8 306.1h0M123.1 312.1h0M140.2 311.3h0M141.3 312.1h0M133.0 312.3h0M133.1 319.8h0M138.5 323.6h0M132.4 319.0h0M128.7 304.4h0M131.6 311.2h0M138.0 317.1h0M141.0 315.7h0M141.8 320.4h0M141.3 323.3h0M132.4 317.2h0M140.4 307.3h0M123.3 307.4h0M125.8 326.1h0" stroke="#fff" stroke-width="1.20" stroke-linecap="round" fill="none"/>
<path d="M122.5 278.8h0M131.2 261.6h0M128.7 288.4h0M123.4 263.0h0M124.1 281.3h0M128.9 263.2h0M123.4 265.3h0M123.3 282.8h0M125.1 275.1h0M124.4 287.6h0M128.2 290.1h0M127.4 263.1h0M121.7 289.8h0M128.0 273.9h0M129.7 263.7h0M125.9 284.2h0M125.2 264.5h0M124.5 274.6h0M123.0 283.3h0M127.3 272.2h0M131.9 262.6h0M128.2 274.3h0M123.1 285.5h0M125.1 266.4h0M122.4 269.5h0M127.1 290.5h0M130.4 263.7h0M128.4 271.8h0M131.6 262.6h0M129.1 265.7h0M126.0 274.8h0M124.9 267.4h0M124.4 262.3h0M123.4 269.8h0M126.4 257.7h0M131.1 285.1h0M126.1 267.2h0M125.5 278.9h0M122.4 268.9h0M127.7 283.9h0M123.1 283.1h0M125.7 273.4h0M122.9 281.2h0M130.4 285.7h0M123.6 289.7h0M129.3 262.3h0M125.3 289.1h0M125.8 272.0h0M122.8 288.2h0M128.2 275.6h0" stroke="#fff" stroke-width="1.10" stroke-linecap="round" fill="none"/>
<path d="M206.5 215.0h0M213.8 227.6h0M198.8 238.6h0M197.4 226.6h0M206.2 208.0h0M209.3 216.6h0M209.7 232.7h0M201.4 227.2h0M196.3 222.6h0M194.7 219.6h0M206.8 211.6h0M205.4 215.0h0M206.7 217.5h0M209.7 210.5h0M203.9 220.5h0M208.3 230.9h0M204.4 242.3h0M202.2 221.3h0M206.7 239.0h0M205.5 224.7h0M202.9 238.9h0M211.4 227.4h0M212.0 216.5h0M207.5 207.7h0M194.1 221.8h0M204.9 219.9h0M205.5 214.0h0M199.3 219.9h0M209.5 237.5h0M202.6 235.2h0M196.9 233.0h0M206.7 238.9h0M194.1 225.2h0M197.5 216.3h0M201.9 218.4h0M207.2 206.8h0M199.3 223.7h0M204.0 212.8h0M199.0 239.6h0M204.0 211.5h0M196.3 228.8h0M211.2 216.8h0M210.4 240.2h0M203.2 208.1h0M196.9 216.6h0M210.8 212.4h0M195.7 213.9h0M209.5 234.7h0M201.2 229.9h0M215.7 227.2h0" stroke="#fff" stroke-width="1.00" stroke-linecap="round" fill="none"/>
<path d="M198.6 232.6h0M199.5 236.7h0M202.8 235.3h0M204.6 229.5h0M206.0 232.4h0M199.0 238.6h0M195.7 232.4h0M209.1 232.0h0M199.6 235.6h0M213.8 229.4h0M203.2 238.0h0M201.7 240.2h0M204.0 231.2h0M205.1 236.7h0M201.2 236.9h0M209.7 235.2h0M204.1 239.1h0M207.7 235.2h0M213.0 231.1h0M209.6 231.0h0M206.2 231.8h0M202.8 238.3h0M209.7 238.5h0M198.7 234.9h0M198.4 236.0h0M204.0 229.4h0M205.9 237.6h0M205.5 239.5h0M197.6 230.8h0M202.7 234.3h0M199.3 238.6h0M205.4 235.5h0M209.8 231.9h0M196.9 232.7h0M206.4 235.3h0M199.3 236.1h0M197.4 232.1h0M210.6 238.4h0M201.3 231.6h0M213.4 229.5h0M203.8 238.1h0M203.1 237.9h0M211.8 230.7h0M201.9 232.6h0M202.5 229.9h0M209.3 237.8h0M198.6 232.0h0M205.0 231.9h0M203.2 240.2h0M201.3 233.0h0M207.0 229.7h0M200.9 237.3h0M211.3 236.1h0M211.7 234.6h0M201.9 239.1h0M201.6 238.4h0M198.3 233.2h0M197.7 235.6h0M197.3 231.4h0M198.3 234.6h0M200.2 234.4h0M211.3 231.5h0M201.7 229.9h0M207.8 233.4h0M199.5 229.2h0M197.6 232.1h0M201.9 240.1h0M208.3 232.2h0M201.2 230.8h0M212.7 233.3h0M209.3 237.7h0M212.1 229.2h0M200.4 233.6h0M200.5 238.2h0M204.4 229.7h0M201.9 231.9h0M194.8 230.8h0M205.9 229.4h0M200.2 234.1h0M204.9 230.6h0" stroke="#fff" stroke-width="1.20" stroke-linecap="round" fill="none"/>
<path d="M207.4 244.6h0M207.6 250.3h0M200.4 243.8h0M202.1 251.0h0M203.6 246.3h0M209.3 244.1h0M202.2 245.8h0M205.6 252.3h0M210.7 245.1h0M206.9 253.9h0M201.3 250.6h0M209.4 244.2h0M206.4 242.2h0M203.9 246.4h0M202.7 247.9h0M202.1 243.1h0M203.6 247.6h0M200.7 250.3h0M201.6 242.2h0M202.8 246.9h0M200.5 249.1h0M207.3 248.7h0M203.5 246.0h0M205.9 247.5h0M202.6 244.5h0M209.7 248.9h0M201.8 250.3h0M200.9 247.5h0M206.2 254.4h0M203.1 249.0h0M206.4 249.7h0M203.7 246.8h0M202.0 252.6h0M209.5 246.3h0M209.9 241.4h0M200.3 248.0h0M202.4 246.0h0M201.0 244.1h0M207.0 244.2h0M203.5 244.3h0M204.7 250.1h0M205.4 249.7h0M205.6 252.6h0M210.6 245.6h0M202.9 253.4h0M202.5 251.0h0M207.2 250.6h0M200.6 249.7h0M204.7 248.8h0M203.2 244.9h0M207.9 248.4h0M201.5 244.4h0M202.6 243.4h0M205.0 242.7h0M199.4 241.9h0M200.0 247.3h0M208.2 247.7h0M209.4 241.7h0M201.7 248.1h0M208.5 246.4h0M207.5 244.5h0M207.5 245.5h0M202.7 251.6h0M205.6 246.8h0M207.4 249.7h0M208.9 252.2h0M200.2 246.2h0M206.9 244.2h0M205.9 254.2h0M207.1 246.8h0M206.4 246.5h0M200.1 241.5h0M202.1 251.2h0M205.3 247.7h0M203.2 245.3h0M208.5 252.7h0M202.1 246.4h0M206.3 251.7h0M210.8 246.4h0M207.2 248.6h0M208.5 243.0h0M200.8 242.4h0M210.2 244.4h0M204.7 242.6h0M205.6 242.9h0M206.4 244.8h0M201.4 247.7h0M203.1 244.6h0M199.2 241.8h0M209.7 245.3h0" stroke="#fff" stroke-width="1.20" stroke-linecap="round" fill="none"/>
<path d="M199.6 243.5h0M201.1 253.1h0M204.6 246.7h0M208.6 246.5h0M206.7 249.7h0M202.0 254.1h0M204.1 252.7h0M207.6 243.4h0M200.1 242.0h0M203.1 251.5h0M202.4 248.2h0M205.1 252.3h0M208.4 251.3h0M203.6 252.2h0M208.9 251.7h0M210.4 246.6h0M207.3 244.4h0M209.9 241.2h0M205.8 244.1h0M203.4 246.1h0M206.7 252.3h0M203.1 249.9h0M203.0 244.8h0M209.8 245.4h0M199.8 245.6h0M207.8 243.9h0M207.8 248.6h0M207.0 243.4h0M199.9 242.9h0M202.9 247.0h0M203.6 245.4h0M205.3 254.3h0M201.1 253.3h0M202.6 251.5h0M203.9 254.5h0" stroke="#6cc84b" stroke-width="1.10" stroke-linecap="round" fill="none"/>
<path d="M201.3 246.7h0M207.4 243.4h0M202.0 250.4h0M210.4 245.4h0M200.9 245.9h0M206.5 246.2h0M206.6 243.9h0M206.2 253.4h0M209.2 249.8h0M204.9 248.9h0M207.2 247.3h0M206.9 246.8h0M203.4 244.1h0M206.0 249.0h0M206.4 247.2h0M206.0 249.3h0M210.2 243.0h0M207.8 245.3h0M203.6 253.1h0M204.7 244.2h0M209.0 250.1h0M208.5 248.1h0M209.4 250.9h0M201.7 252.3h0M204.2 248.5h0" stroke="#5ec9b6" stroke-width="1.10" stroke-linecap="round" fill="none"/>
<path d="M175.0 266.7h0M201.1 262.3h0M173.0 271.2h0M171.2 266.3h0M170.7 267.4h0M193.0 256.2h0M196.3 261.6h0M198.4 258.6h0M168.1 266.4h0M181.6 261.4h0M172.7 264.9h0M195.4 261.3h0M208.6 259.4h0M198.8 265.5h0M195.1 255.2h0M206.6 255.4h0M191.0 263.9h0M195.0 258.1h0M184.7 258.6h0M184.5 257.3h0M195.1 265.6h0M203.2 266.9h0M164.0 261.5h0M198.7 250.6h0M169.2 266.9h0M173.6 271.6h0M166.8 261.7h0M188.1 263.6h0M166.3 270.9h0M176.1 262.8h0M167.0 264.6h0M186.9 256.7h0M200.6 255.3h0M171.8 261.2h0M189.3 261.4h0M168.5 271.8h0M168.6 263.5h0M163.0 260.2h0M166.3 274.7h0M177.5 262.3h0M198.6 255.6h0M179.5 260.6h0M185.1 258.5h0M182.7 261.2h0M188.7 259.7h0M185.5 254.8h0M199.1 262.2h0M191.9 265.2h0M176.8 262.5h0M201.5 260.5h0M204.8 259.8h0M175.3 267.8h0M203.3 257.7h0M201.1 266.7h0M198.5 260.2h0M200.8 260.9h0M199.2 259.1h0M183.6 260.8h0M198.4 250.3h0M166.6 272.2h0M194.8 264.0h0M166.9 273.4h0M166.0 269.6h0M169.2 265.1h0M191.0 263.2h0M203.9 258.5h0M190.6 262.0h0M211.0 257.6h0M196.4 254.9h0M174.0 269.2h0M190.2 255.6h0M207.4 261.3h0M185.6 254.9h0M199.3 251.1h0M189.8 264.1h0M177.7 252.6h0M200.9 254.5h0M170.8 263.6h0M199.9 265.0h0M196.0 258.7h0M198.0 255.8h0M188.2 255.5h0M167.4 262.2h0M174.9 262.9h0M191.9 263.9h0M198.3 263.6h0M200.4 255.7h0M172.6 261.2h0M189.7 258.2h0M166.3 275.3h0M211.4 257.1h0M187.7 253.5h0M187.7 258.4h0M186.2 253.9h0M196.8 260.2h0M203.2 268.0h0M203.4 259.9h0M174.1 265.1h0M187.6 257.9h0M195.3 261.3h0M172.6 273.6h0M173.6 262.0h0M200.9 257.8h0M172.8 267.0h0M174.0 263.3h0M201.2 263.8h0M171.2 273.5h0M167.9 268.8h0M209.2 253.7h0M167.6 267.7h0" stroke="#fff" stroke-width="1.10" stroke-linecap="round" fill="none"/>
<path d="M236.0 320.1h0M201.7 282.8h0M185.0 307.8h0M213.0 310.3h0M227.9 307.8h0M197.5 322.2h0M214.9 293.5h0M207.6 312.5h0M233.6 304.0h0M228.0 300.0h0M188.3 320.7h0M191.5 324.5h0M210.2 315.5h0M208.0 286.6h0M218.3 298.1h0M208.5 313.8h0M198.0 297.3h0M236.1 311.1h0M204.7 308.6h0M207.6 295.8h0M210.9 335.9h0M225.3 289.9h0M215.9 285.1h0M183.2 317.7h0M200.0 309.8h0M210.1 332.1h0M211.3 298.7h0M194.8 310.7h0M219.2 303.8h0M209.1 314.8h0M206.5 280.6h0M230.5 289.8h0M232.4 324.5h0M210.6 301.6h0M214.0 333.6h0M209.6 305.1h0M196.2 327.1h0M210.5 296.5h0M232.8 324.8h0M222.7 324.4h0M224.5 325.2h0M230.5 286.2h0M231.4 294.1h0M199.8 324.1h0M217.7 331.4h0M239.4 315.0h0M181.0 316.4h0M189.2 318.1h0M218.6 283.1h0M235.0 322.7h0M229.5 329.1h0M214.9 333.4h0M219.6 305.7h0M202.5 297.1h0M230.2 289.5h0M220.6 323.1h0M223.4 307.1h0M197.9 292.2h0M189.3 315.2h0M222.8 333.3h0M198.9 332.4h0M199.1 292.6h0M211.8 305.4h0M212.7 304.5h0M226.7 290.8h0M190.1 311.1h0M200.6 307.8h0M204.5 300.4h0M192.5 304.5h0M205.8 317.6h0M227.9 309.5h0M219.8 333.1h0M213.1 336.7h0M212.2 287.0h0M186.8 309.3h0M195.0 319.7h0M225.5 295.0h0M228.2 315.2h0M224.1 303.5h0M205.8 282.0h0M208.6 334.1h0M223.4 302.3h0M215.2 321.2h0M203.8 315.4h0M222.5 313.3h0M208.2 281.9h0M209.4 311.5h0M210.9 300.6h0M203.5 330.0h0M194.0 324.1h0" stroke="#fff" stroke-width="0.80" stroke-linecap="round" fill="none"/>
<path d="M222.8 264.9h0M215.2 264.5h0M217.1 260.9h0M220.9 263.8h0M213.8 274.5h0M217.1 265.6h0M226.6 265.0h0M216.0 271.5h0M223.5 260.3h0M223.1 279.8h0M221.6 271.4h0M216.7 271.0h0M212.0 274.5h0M214.6 272.7h0M224.1 259.2h0M220.7 258.1h0M208.3 268.9h0M225.3 276.5h0M215.7 269.1h0M222.9 274.2h0" stroke="#fff" stroke-width="0.90" stroke-linecap="round" fill="none"/>
<path d="M208.9 235.9h0M199.0 237.5h0M205.2 235.5h0M209.6 232.9h0M208.5 240.4h0M199.5 235.8h0M204.6 234.9h0M197.3 236.5h0" stroke="#6cc84b" stroke-width="1.00" stroke-linecap="round" fill="none"/>
</g></g>
<g filter="url(#rag)">
<g transform="translate(187.5 0) scale(1 1)">
<polygon points="96,251.2 107.3,249 121.9,247.3 127.5,252.4 130.9,260.2 134.2,263.6 129.2,267 129.7,276 125.2,280.4 127.5,283.8 134.2,286.1 132,289.4 126.4,291.7 121.9,292.8 125.2,297.3 133.1,301.8 141,307.4 142.1,313 146,320.9 145.5,324.3 137.6,325.4 132,327.1 125.2,326.5 124.1,318.7 121.9,313 118.5,307.4 117.5,300.5 112.9,307.4 103.9,304 99.4,293.9 93.8,282.7 91,271.5 91.5,260.2" fill="#3a4f4c" stroke="#3a4f4c" stroke-width="1.4" stroke-linejoin="round"/>
<polygon points="212,275.4 217.2,277 221.5,281.3 226.5,279 230.7,279.2 233.6,285 232.9,293.8 234.4,305.5 238,312.8 243.9,317.9 240.9,321.5 233.6,327.4 223.4,333.9 213.2,336.9 203,336.1 192.8,329.6 182.5,321.5 176.7,315.7 182.5,308.4 189.8,304 192.8,298.2 197.1,289.4 201.5,282.1 208.8,276.3" fill="#3a4f4c" stroke="#3a4f4c" stroke-width="1.4" stroke-linejoin="round"/>
<polygon points="210.3,251.5 216.1,255.8 224.9,257.3 229.3,261.7 228.5,267.5 226.3,271.9 226.5,279 221.5,281.3 217.2,277 212,275.4 208.5,271.5 207,268.5 209,262 212,256" fill="#3a4f4c" stroke="#3a4f4c" stroke-width="1.4" stroke-linejoin="round"/>
<polygon points="205.9,205.1 211.7,211.7 214.7,220.4 217.6,227.7 219,231.4 216.8,235 213.9,231.4 211,233.6 210.3,240.9 205,242.5 198.6,240.9 194.2,235 191.3,227.7 190.6,219 192.8,213.1 198.6,208" fill="#3a4f4c" stroke="#3a4f4c" stroke-width="1.4" stroke-linejoin="round"/>
<polygon points="198.6,240.9 205,242.5 210.3,240.9 211,248.2 210.3,251.5 206,255 201,254.5 200.1,248.2" fill="#3a4f4c" stroke="#3a4f4c" stroke-width="1.4" stroke-linejoin="round"/>
<polygon points="164,260 170,260.8 177,260.5 183,259.5 183.4,256.5 180,254 176.7,252.2 191.3,252.9 200.1,248.2 201,254.5 206,255 210.3,251.5 212,256 209,262 207,268.5 203,269 194.2,266.1 184,263.1 176.7,266.1 173.8,271.9 170.9,277 166.5,276.3 165,270.4 166.5,264.6 160.6,260.2" fill="#3a4f4c" stroke="#3a4f4c" stroke-width="1.4" stroke-linejoin="round"/>
<polygon points="159.2,257.3 166.5,254.4 173,253.2 180,254 183.4,256.5 183,259.5 177,260.5 170,260.8 164,260 160.6,260.2" fill="#3a4f4c" stroke="#3a4f4c" stroke-width="1.4" stroke-linejoin="round"/>
<path d="M114.1 258.9h0M124.3 284.0h0M95.1 271.3h0M129.1 302.4h0M106.0 275.9h0M120.6 249.2h0M111.6 299.7h0M99.2 272.1h0M139.0 321.8h0M104.7 261.5h0M97.5 254.1h0M134.7 306.3h0M105.5 286.3h0M136.0 315.9h0M129.5 274.2h0M117.1 272.3h0M122.3 295.9h0M103.3 296.8h0M109.8 282.4h0M100.4 275.6h0M129.9 264.5h0M139.5 316.9h0M103.5 276.4h0M120.9 293.8h0M124.0 316.1h0M94.4 255.4h0M100.7 269.1h0M127.7 302.8h0M108.7 284.6h0M106.9 292.1h0M110.6 276.0h0M104.7 270.6h0M108.1 294.5h0M105.8 256.3h0M119.1 272.2h0M139.8 307.5h0M125.2 299.9h0M129.1 287.2h0M113.7 278.4h0M118.7 284.7h0M120.1 289.8h0M134.4 318.5h0M107.6 249.8h0M106.7 262.6h0M138.8 314.0h0M128.6 302.5h0M112.9 291.4h0M141.4 314.0h0M95.1 267.0h0M119.3 272.0h0M99.2 278.4h0M126.2 256.1h0M100.5 284.3h0M102.9 283.0h0M120.9 274.2h0M122.8 297.7h0M92.0 264.9h0M127.1 264.4h0M121.7 255.4h0M126.0 268.2h0M135.8 305.1h0M98.7 263.4h0M92.6 260.3h0M108.7 268.0h0M122.0 277.9h0M130.3 262.1h0M104.2 269.6h0M94.6 262.2h0M104.0 270.4h0M125.5 277.9h0M130.5 286.7h0M112.1 289.7h0M109.2 259.1h0M100.9 287.2h0M122.1 266.4h0M92.8 262.4h0M125.1 306.8h0M132.9 304.9h0M99.1 260.3h0M97.2 270.2h0M101.5 256.2h0M102.0 298.4h0M100.2 260.8h0M120.5 277.3h0M99.2 292.6h0M118.9 278.3h0M117.1 250.5h0M124.8 262.7h0M112.6 290.5h0M112.1 303.8h0M111.5 303.7h0M106.6 270.7h0M132.3 309.9h0M129.5 321.1h0M101.2 278.7h0M137.9 308.4h0M131.7 316.4h0M110.9 295.6h0M143.7 319.0h0M127.1 323.9h0M98.9 279.5h0M122.0 257.8h0M125.6 269.6h0M108.8 295.7h0M101.5 283.0h0M105.4 276.5h0M129.2 262.4h0M121.6 274.4h0M126.1 252.5h0M130.4 265.9h0M138.1 321.9h0M114.2 272.7h0M112.9 272.3h0M128.7 259.4h0M134.1 324.4h0M102.2 296.5h0M113.8 261.9h0M128.1 324.5h0M94.2 255.1h0M111.5 256.3h0M99.9 252.4h0M120.2 257.5h0M124.2 313.1h0M109.9 256.9h0M127.9 305.4h0M128.2 325.1h0M125.8 284.7h0M105.5 295.3h0M119.0 288.0h0M94.2 257.8h0M124.4 301.7h0M107.0 283.7h0M117.6 279.1h0M117.4 275.8h0M113.0 253.6h0M128.3 259.3h0M99.2 281.1h0M124.1 308.2h0M115.4 270.8h0M98.3 258.2h0M140.0 307.1h0M102.8 282.9h0M124.3 251.4h0M126.9 284.8h0M140.5 310.4h0M102.4 250.9h0M124.2 284.8h0M102.5 298.6h0M108.6 305.1h0M140.7 310.7h0M98.7 290.9h0M143.3 316.3h0M104.7 291.3h0M108.5 260.7h0M131.9 307.9h0M109.5 280.8h0M129.3 305.4h0M116.5 256.7h0M96.3 260.8h0M126.4 276.4h0M111.3 261.3h0M123.9 296.2h0M139.2 324.7h0M113.4 299.0h0M111.6 280.1h0M111.1 299.0h0M110.4 275.4h0M137.6 311.1h0M128.2 314.6h0M112.2 298.6h0M104.8 272.5h0M111.8 256.6h0M110.4 285.1h0M102.1 270.5h0M114.3 269.5h0M126.1 311.3h0M108.9 262.6h0M97.6 253.5h0M123.9 272.8h0M96.3 254.7h0M113.6 259.8h0M140.3 323.6h0M127.8 259.9h0M120.2 280.3h0M119.4 304.2h0M134.4 313.2h0M96.1 258.9h0M93.6 260.1h0M115.1 284.4h0M122.0 269.6h0M137.5 311.4h0M94.8 268.6h0M119.6 263.5h0M116.4 267.8h0M128.2 255.8h0M98.6 263.1h0M120.3 293.7h0M132.6 312.6h0M97.6 260.4h0M98.0 275.4h0M104.3 299.0h0M130.6 309.2h0M115.0 283.8h0M116.7 276.8h0M116.0 302.0h0M122.2 258.9h0M93.5 278.2h0M110.8 249.9h0M95.4 281.3h0M92.7 272.6h0M111.3 272.1h0M100.7 255.7h0M101.4 272.5h0M133.3 306.1h0M107.7 283.4h0M110.5 284.9h0M135.6 320.7h0M107.6 282.6h0M93.8 270.1h0M107.1 280.7h0M109.7 265.5h0M113.7 290.9h0M113.0 292.4h0M128.1 274.1h0M118.0 277.4h0M105.8 251.4h0M107.3 271.1h0M117.4 248.9h0M115.4 289.2h0M118.1 274.7h0M132.3 287.5h0M134.6 314.0h0M128.1 284.1h0M120.3 293.5h0M100.1 292.2h0M91.4 265.2h0M131.3 317.4h0M109.6 255.6h0M139.7 321.9h0M97.8 282.9h0M106.0 300.9h0M97.0 273.9h0M113.6 285.0h0M114.9 294.9h0M142.7 321.6h0M140.9 313.4h0M103.6 266.8h0M116.3 298.6h0M124.3 275.2h0M104.0 266.6h0M134.3 318.9h0M105.5 255.5h0M130.4 285.0h0M132.1 308.5h0M119.0 268.9h0M119.9 300.1h0M108.8 298.3h0M102.6 265.4h0M143.8 323.1h0M141.9 314.4h0M137.7 312.8h0M122.2 253.2h0M131.2 314.0h0M128.2 300.4h0M126.2 252.7h0M102.3 283.3h0M112.9 266.8h0M103.5 265.0h0M113.9 302.8h0M124.5 305.7h0M124.8 275.6h0M109.7 253.0h0M128.5 320.0h0M135.4 323.9h0M116.3 248.5h0M124.8 298.2h0M137.9 308.9h0M91.6 273.3h0M112.7 269.2h0M107.8 278.8h0M101.8 289.7h0M107.0 286.3h0M119.8 268.5h0M120.4 252.5h0M110.2 270.0h0M135.8 308.7h0M138.7 306.4h0M94.0 257.7h0M132.1 314.3h0M99.7 292.6h0M119.1 268.7h0M105.3 264.7h0M107.6 295.7h0M108.6 300.3h0M139.9 320.8h0M95.2 255.2h0M130.4 289.4h0M115.5 249.5h0M128.3 256.6h0M130.7 303.3h0M122.8 280.3h0M119.9 269.3h0M111.2 262.5h0M132.3 325.7h0M123.4 252.3h0M100.0 251.2h0M124.7 296.9h0M103.8 265.0h0M118.2 280.8h0M120.3 255.5h0M129.6 265.9h0M128.8 313.8h0M141.4 321.0h0M120.8 251.4h0M94.7 270.9h0M110.5 253.9h0M110.6 263.6h0M114.8 296.5h0M127.2 255.0h0M120.4 251.8h0M104.4 278.7h0M121.5 290.1h0M130.3 322.9h0M129.2 265.1h0M101.9 285.7h0M106.5 291.5h0M113.9 251.3h0M137.7 317.6h0M124.3 285.3h0M98.5 258.0h0" stroke="#eec5a0" stroke-width="1.10" stroke-linecap="round" fill="none"/>
<path d="M134.4 314.9h0M140.3 321.2h0M121.4 303.2h0M121.6 309.6h0M136.9 320.5h0M131.4 324.1h0M141.3 321.2h0M139.3 309.0h0M129.8 322.5h0M142.7 324.5h0M125.2 314.0h0M121.7 312.3h0M119.4 308.6h0M119.8 307.1h0M140.8 318.2h0M140.0 312.3h0M120.9 295.5h0M141.1 313.7h0M122.1 302.3h0M141.4 312.9h0M135.9 314.5h0M118.9 299.7h0M129.8 321.8h0M133.4 306.8h0M124.5 313.9h0M143.5 318.4h0M125.5 313.6h0M125.8 318.9h0M124.9 322.6h0M136.8 323.4h0M127.4 325.5h0M125.3 305.3h0M144.1 321.2h0M134.7 324.9h0M135.2 312.8h0M126.7 305.8h0M135.8 322.4h0M118.3 305.4h0M129.9 321.8h0M133.1 310.6h0" stroke="#eec5a0" stroke-width="1.10" stroke-linecap="round" fill="none"/>
<path d="M217.4 309.4h0M222.3 309.7h0M213.8 289.9h0M196.4 310.7h0M211.5 303.3h0M188.7 323.9h0M211.9 286.0h0M219.9 312.3h0M218.7 304.9h0M217.9 293.6h0M207.9 317.7h0M191.2 320.5h0M216.0 335.3h0M218.1 309.2h0M228.3 293.1h0M201.7 302.0h0M226.1 319.6h0M225.0 313.3h0M229.3 302.2h0M226.6 312.5h0M219.3 309.1h0M221.5 309.8h0M182.8 316.9h0M224.0 301.7h0M187.9 306.8h0M200.8 285.6h0M224.6 285.9h0M211.4 336.7h0M219.6 303.7h0M206.3 328.9h0M184.4 308.6h0M208.4 309.4h0M229.9 312.3h0M216.9 292.1h0M213.5 328.7h0M179.8 315.2h0M209.5 293.1h0M206.1 301.3h0M217.1 292.0h0M218.4 304.5h0M230.2 324.9h0M213.4 296.0h0M193.8 319.2h0M206.1 317.5h0M193.9 328.3h0M194.5 328.9h0M206.2 300.1h0M215.5 307.6h0M213.5 309.9h0M240.5 321.1h0M231.7 292.3h0M210.0 327.3h0M197.9 305.6h0M234.1 311.7h0M237.9 316.8h0M192.8 298.3h0M208.9 282.2h0M190.2 305.6h0M230.8 292.2h0M216.2 281.0h0M210.7 317.7h0M192.0 317.8h0M216.1 321.6h0M210.9 286.3h0M182.4 315.1h0M182.4 308.8h0M228.2 302.9h0M186.6 317.2h0M206.6 308.5h0M223.9 326.9h0M229.5 290.7h0M229.1 281.8h0M189.1 309.9h0M205.8 325.6h0M228.3 305.7h0M203.5 283.0h0M221.0 332.1h0M222.9 294.9h0M212.0 297.3h0M203.0 322.9h0M211.1 284.4h0M225.9 291.0h0M203.8 290.6h0M216.8 301.9h0M222.7 301.5h0M229.4 309.3h0M226.4 285.0h0M219.0 282.7h0M228.2 279.6h0M192.4 323.3h0M228.3 289.8h0M210.9 324.6h0M217.3 307.7h0M189.3 307.7h0M216.8 303.7h0M219.4 310.1h0M220.1 300.7h0M233.3 308.1h0M232.3 322.9h0M223.1 309.4h0M221.1 290.7h0M217.9 309.2h0M217.5 301.8h0M223.5 329.9h0M198.1 294.7h0M206.8 301.8h0M219.2 321.9h0M228.3 325.2h0M206.8 302.9h0M220.5 294.7h0M232.4 301.1h0M214.1 307.4h0M195.4 304.7h0M229.9 292.6h0M239.8 316.8h0M232.1 326.7h0M188.7 306.4h0M210.0 325.7h0M196.1 316.4h0M180.6 311.1h0M216.1 319.2h0M204.9 333.0h0M225.3 310.4h0M196.3 309.3h0M217.0 334.2h0M190.5 322.3h0M218.9 328.0h0M213.7 291.1h0M208.3 304.1h0M200.4 311.1h0" stroke="#eec5a0" stroke-width="1.10" stroke-linecap="round" fill="none"/>
<path d="M194.8 214.6h0M205.5 232.7h0M202.0 238.8h0M207.9 229.7h0M198.7 238.7h0M200.5 236.7h0M210.0 211.8h0M201.5 219.3h0M200.1 218.6h0M195.2 220.1h0M200.6 231.7h0M202.8 241.5h0M215.6 231.5h0M207.4 207.7h0M200.9 217.4h0M202.6 223.2h0M214.5 228.7h0M194.8 230.0h0M197.3 228.2h0M202.3 240.8h0M203.4 215.3h0M199.4 240.9h0M200.5 214.2h0M205.8 230.2h0M200.0 232.1h0M204.7 230.9h0M199.2 211.9h0M198.7 209.4h0M191.3 224.7h0M193.3 232.3h0M204.5 216.2h0M212.9 224.0h0M205.5 219.1h0M201.7 236.0h0M193.6 221.3h0M205.9 210.9h0M206.1 232.5h0M207.7 223.0h0M195.5 229.1h0M203.2 230.5h0M191.8 216.1h0M193.8 233.6h0M204.2 215.8h0M212.8 224.6h0M198.8 219.8h0M215.5 225.5h0M203.0 228.0h0M202.2 229.5h0M200.4 229.6h0M196.5 223.4h0M202.8 224.8h0M210.9 211.3h0M207.9 232.6h0M201.6 219.9h0M203.9 215.3h0M206.4 232.5h0M215.1 224.1h0M209.3 239.9h0M208.1 223.4h0M205.1 220.5h0M195.7 212.5h0M213.2 224.4h0M191.7 228.1h0M214.2 229.5h0M195.8 224.1h0M203.7 211.3h0M198.2 212.1h0M208.9 230.0h0M202.6 222.2h0M216.9 229.4h0M203.8 233.0h0M211.6 216.6h0M211.8 227.6h0M193.9 232.9h0M195.6 234.9h0" stroke="#eec5a0" stroke-width="1.10" stroke-linecap="round" fill="none"/>
<path d="M220.9 270.5h0M226.0 270.3h0M212.1 253.9h0M225.7 276.6h0M222.6 257.7h0M210.8 261.0h0M210.6 273.4h0M224.0 259.5h0M223.5 270.9h0M225.5 274.1h0M217.3 264.8h0M221.2 275.0h0M220.1 279.5h0M226.6 261.8h0M207.6 269.4h0M220.8 280.1h0M219.4 273.1h0M221.9 264.6h0M211.8 259.7h0M215.1 273.4h0M219.3 261.1h0M223.8 276.4h0M213.3 265.3h0M207.6 269.6h0M220.5 267.7h0" stroke="#eec5a0" stroke-width="1.10" stroke-linecap="round" fill="none"/>
<path d="M187.5 257.0h0M185.4 258.8h0M174.8 265.7h0M173.9 269.7h0M171.1 265.3h0M194.1 259.4h0M187.9 258.0h0M166.3 273.3h0M200.4 261.2h0M200.5 262.8h0M200.8 266.5h0M189.7 253.1h0M199.6 251.7h0M171.9 265.3h0M190.7 259.7h0" stroke="#eec5a0" stroke-width="1.10" stroke-linecap="round" fill="none"/>
<path d="M110.2 258.5h0M124.0 312.6h0M95.2 281.1h0M125.2 263.0h0M116.2 248.5h0M119.3 252.9h0M98.6 287.9h0M120.6 264.3h0M123.1 272.2h0M100.5 270.5h0M125.5 254.9h0M113.6 253.1h0M101.3 261.5h0M121.1 298.4h0M98.9 264.8h0M124.2 266.4h0M138.8 311.6h0M108.0 295.2h0M124.9 297.3h0M121.4 266.0h0M104.1 254.1h0M110.9 272.0h0M94.7 266.7h0M117.5 265.8h0M141.8 318.0h0M100.5 280.7h0M104.8 287.0h0M129.1 306.4h0M129.0 320.6h0M123.7 300.0h0M121.2 289.9h0M101.5 287.3h0M108.1 304.3h0M102.5 296.7h0M112.8 301.6h0M116.8 256.2h0M128.9 325.0h0M118.8 287.7h0M127.7 311.6h0M102.7 265.8h0M136.0 321.0h0M103.4 286.0h0M124.8 307.4h0M107.2 271.7h0M140.8 310.4h0M125.5 306.3h0M106.4 255.3h0M100.5 268.0h0M122.4 273.1h0M99.2 254.2h0M128.7 312.3h0M97.8 288.3h0M133.6 306.1h0M109.9 286.5h0M101.4 284.0h0M102.0 294.0h0M96.0 272.4h0M113.8 273.9h0M100.4 253.2h0M126.5 323.4h0M125.9 320.6h0M123.9 296.3h0M141.3 323.6h0M98.5 282.2h0M105.8 288.8h0M125.1 257.6h0M120.2 254.8h0M106.5 283.2h0M120.9 299.5h0M110.3 264.0h0M102.7 262.6h0M116.9 293.7h0M105.1 280.0h0M116.0 267.5h0M107.0 274.3h0M101.9 293.3h0M93.2 266.3h0M105.5 261.7h0M101.3 272.3h0M136.9 315.9h0M109.5 281.5h0M102.6 272.7h0M97.2 282.4h0M103.1 266.9h0M144.8 324.3h0M126.0 265.4h0M124.7 250.3h0M134.8 306.4h0M117.9 289.3h0M141.5 313.9h0M100.6 275.2h0M108.6 251.1h0M117.4 252.2h0M107.1 254.8h0M114.5 293.4h0M98.0 277.4h0M121.6 306.7h0M121.0 261.1h0M135.8 317.8h0M134.5 304.8h0M122.2 278.2h0M134.0 322.7h0M129.8 264.7h0M133.9 304.2h0M109.3 282.3h0M130.8 303.7h0M125.7 317.8h0M101.7 279.9h0M107.1 287.1h0M132.5 326.4h0M141.1 315.4h0M113.4 286.3h0M111.5 266.7h0M125.9 281.6h0M99.7 251.2h0M118.2 287.7h0M94.1 265.8h0M109.2 281.8h0M125.2 255.5h0M108.5 292.0h0M124.6 284.3h0M102.5 296.9h0M103.8 255.4h0M139.5 308.9h0M125.6 274.6h0M96.0 273.6h0M103.7 297.7h0M102.3 255.3h0M101.1 275.6h0M111.6 269.5h0M129.3 285.9h0M125.3 278.4h0M106.1 270.5h0M103.5 302.7h0M95.8 256.6h0M131.8 263.8h0M119.1 248.7h0M119.6 249.9h0M97.4 256.9h0M110.0 285.2h0M103.0 253.5h0M145.2 320.2h0M98.5 263.4h0M144.0 321.2h0M131.3 322.0h0M140.5 324.8h0M132.9 310.1h0M122.4 249.3h0M130.0 285.8h0M108.6 271.5h0M103.0 299.8h0M106.8 279.3h0M134.6 306.2h0M120.2 306.3h0M128.4 315.4h0M137.8 307.7h0M100.0 259.7h0M113.7 265.9h0M130.8 323.1h0M108.7 294.5h0M113.8 252.5h0M100.0 265.7h0M94.9 284.8h0M114.3 284.0h0M121.5 302.4h0M113.1 288.8h0M101.6 258.3h0M111.3 306.8h0M118.6 298.1h0M100.8 292.7h0M114.6 301.6h0M133.6 263.8h0M111.3 267.7h0M134.0 315.8h0M118.7 257.4h0M111.5 254.0h0M113.0 283.3h0M120.3 260.5h0M119.4 280.0h0M118.1 280.0h0" stroke="#fff" stroke-width="1.00" stroke-linecap="round" fill="none"/>
<path d="M136.8 313.1h0M124.6 312.8h0M130.7 318.9h0M135.1 310.2h0M123.1 305.8h0M130.7 303.9h0M133.9 315.0h0M134.3 325.0h0M130.1 305.5h0M138.9 311.8h0M125.2 324.4h0M132.8 324.0h0M141.9 320.8h0M134.9 310.3h0M125.8 298.5h0M130.1 321.4h0M133.3 326.5h0M140.3 311.4h0M134.3 307.1h0M143.3 321.4h0M136.8 305.2h0M138.7 307.3h0M137.3 310.1h0M135.5 324.4h0M128.5 317.3h0M132.0 302.4h0M126.0 301.4h0M125.5 312.2h0M142.1 314.8h0M135.9 318.9h0M128.6 307.5h0M139.0 324.4h0M127.4 299.0h0M134.8 311.2h0M132.8 310.3h0M135.1 319.5h0M138.0 317.0h0M141.1 308.9h0M119.8 308.3h0M131.5 308.9h0M124.7 314.6h0M127.8 304.6h0M130.1 312.6h0M126.8 325.4h0M130.0 321.6h0M118.3 300.9h0M118.6 301.7h0M127.8 310.9h0M128.4 303.3h0M131.0 308.9h0M122.7 310.6h0M133.9 312.5h0M138.6 308.3h0M120.9 303.2h0M129.4 307.0h0M126.1 311.6h0M133.0 317.8h0M120.7 308.5h0M136.5 305.6h0M128.6 316.7h0M141.4 309.8h0M142.0 318.9h0M129.3 317.1h0M143.1 321.8h0M131.7 303.2h0M131.9 305.9h0M133.2 307.7h0M139.1 315.4h0M125.4 299.6h0M124.3 304.0h0M129.6 310.1h0M124.9 302.9h0M134.4 312.9h0M128.4 326.8h0M120.5 301.0h0M138.5 318.2h0M127.6 323.1h0M122.1 300.6h0M133.8 311.1h0M137.1 312.5h0M123.5 312.1h0M126.9 303.4h0M124.8 319.3h0M137.6 322.9h0M134.6 323.0h0M133.2 310.2h0M129.1 312.2h0M138.8 308.8h0M142.7 319.2h0M132.0 303.1h0" stroke="#fff" stroke-width="1.20" stroke-linecap="round" fill="none"/>
<path d="M125.0 290.9h0M127.9 270.7h0M128.9 265.4h0M131.9 264.5h0M128.2 270.9h0M128.1 268.3h0M127.0 264.9h0M126.9 264.7h0M122.3 288.2h0M125.2 265.0h0M128.3 265.7h0M121.7 287.4h0M130.1 264.7h0M127.7 265.1h0M132.2 264.4h0M128.5 275.8h0M126.4 269.9h0M129.0 274.0h0M129.7 264.6h0M130.5 285.2h0M125.2 288.8h0M122.4 287.2h0M123.8 281.9h0M128.0 261.9h0M121.1 288.3h0M121.0 289.4h0M124.5 278.9h0M126.0 289.2h0M126.4 260.6h0M123.4 275.1h0M126.9 259.5h0M130.0 259.8h0M127.2 263.0h0M123.0 286.0h0M128.3 266.1h0M126.0 258.0h0M126.0 287.4h0M122.3 285.5h0M125.7 264.0h0M129.1 268.1h0M127.8 265.2h0M126.4 288.5h0M124.3 270.6h0M125.6 281.4h0M129.8 286.8h0M126.4 282.2h0M122.6 274.2h0M130.9 261.0h0M127.1 285.6h0M121.2 286.7h0" stroke="#fff" stroke-width="1.10" stroke-linecap="round" fill="none"/>
<path d="M200.3 297.7h0M223.7 310.7h0M205.0 330.1h0M223.5 317.7h0M203.8 331.9h0M218.7 289.2h0M213.8 304.1h0M215.8 279.2h0M200.9 326.4h0M198.8 298.0h0M222.4 282.6h0M226.4 297.4h0M179.2 315.9h0M193.8 330.0h0M188.8 316.5h0M195.6 294.4h0M228.8 322.8h0M198.2 288.1h0M212.8 283.6h0M197.8 293.4h0M207.8 333.2h0M226.2 301.8h0M189.4 314.5h0M228.4 319.9h0M210.8 319.9h0M226.5 324.7h0M213.0 331.9h0M208.3 333.9h0M206.5 333.9h0M198.0 307.1h0M214.4 309.2h0M233.4 327.5h0M188.9 318.8h0M212.0 300.3h0M215.1 280.5h0M198.3 295.6h0M201.3 300.8h0M192.3 303.0h0M201.1 305.2h0M188.6 321.2h0M239.4 314.0h0M212.8 307.5h0M223.1 298.0h0M231.6 316.9h0M192.2 313.2h0M224.5 329.8h0M210.7 279.1h0M208.9 323.6h0M188.8 306.2h0M197.0 314.4h0M210.4 306.0h0M219.5 319.1h0M222.6 324.6h0M233.3 302.2h0M232.3 291.8h0M230.0 298.8h0M214.5 317.4h0M224.9 288.2h0M221.8 285.6h0M193.1 323.3h0M184.4 311.2h0M210.4 277.4h0M218.3 284.9h0M226.5 315.5h0M196.3 294.7h0M195.3 309.1h0M215.0 283.6h0M187.0 313.9h0M195.5 316.3h0M212.8 276.6h0M200.6 314.2h0M191.4 326.6h0M215.3 287.0h0M185.5 321.8h0M178.6 317.3h0M232.8 314.7h0M232.5 327.5h0M231.4 282.0h0M198.5 288.3h0M190.8 306.1h0M190.8 317.4h0M200.3 331.8h0M214.4 305.9h0M227.8 310.0h0M207.0 286.1h0M230.4 314.1h0M207.9 336.2h0M207.9 321.0h0M219.1 291.3h0M220.1 319.6h0" stroke="#fff" stroke-width="1.00" stroke-linecap="round" fill="none"/>
<path d="M198.3 234.0h0M215.0 222.3h0M206.7 229.6h0M195.8 224.7h0M208.7 237.1h0M198.2 211.4h0M202.5 211.2h0M198.0 223.4h0M195.5 222.7h0M205.4 211.7h0M209.3 226.2h0M208.4 208.4h0M205.4 215.2h0M210.2 229.7h0M198.4 213.7h0M210.4 214.3h0M217.4 232.0h0M205.1 209.3h0M196.6 234.3h0M193.8 212.8h0M200.3 241.3h0M195.3 220.7h0M205.7 206.8h0M206.6 207.7h0M199.7 217.2h0M199.1 217.4h0M199.1 211.2h0M199.6 231.0h0M200.6 213.7h0M199.1 215.2h0M206.2 207.7h0M214.3 222.9h0M196.6 211.8h0M209.5 241.0h0M193.9 230.1h0M201.2 234.7h0M206.0 228.5h0M192.2 228.4h0M212.6 229.4h0M191.8 227.3h0M195.2 218.7h0M200.5 215.2h0M210.4 211.2h0M203.7 223.8h0M199.6 234.4h0M196.8 235.1h0M212.4 228.6h0M197.4 230.0h0M194.5 212.8h0M200.8 231.2h0" stroke="#fff" stroke-width="1.00" stroke-linecap="round" fill="none"/>
<path d="M197.3 236.7h0M199.5 234.3h0M205.8 240.4h0M195.0 231.1h0M207.9 230.0h0M210.8 239.7h0M198.4 237.5h0M207.0 240.7h0M203.9 233.4h0M211.6 232.2h0M212.3 233.3h0M202.1 239.0h0M209.1 231.2h0M207.2 240.9h0M202.0 235.7h0M207.1 237.6h0M201.8 233.6h0M197.5 236.5h0M200.6 238.4h0M210.5 233.3h0M196.0 231.5h0M210.1 229.3h0M203.1 235.6h0M210.8 239.1h0M203.2 234.6h0M197.0 231.9h0M197.7 232.4h0M204.9 232.1h0M199.4 230.3h0M202.8 234.4h0M203.7 234.5h0M208.1 235.8h0M208.0 229.8h0M199.9 232.3h0M203.6 234.0h0M196.2 230.5h0M195.2 229.7h0M206.9 240.6h0M205.9 231.4h0M206.2 234.9h0M199.7 238.6h0M199.3 232.7h0M212.5 234.8h0M208.6 234.9h0M199.3 233.3h0M204.2 232.7h0M204.3 229.3h0M201.7 230.4h0M203.6 235.4h0M211.9 234.3h0M199.9 239.2h0M196.4 233.6h0M208.9 240.1h0M207.9 235.5h0M202.9 238.7h0M203.5 240.4h0M212.5 233.4h0M204.8 234.2h0M202.0 233.4h0M200.3 237.0h0M207.3 236.5h0M204.4 237.1h0M207.9 237.8h0M210.3 231.7h0M206.4 238.8h0M197.9 231.3h0M198.3 235.4h0M211.9 233.2h0M194.9 229.4h0M209.6 239.3h0M200.1 229.2h0M202.0 236.9h0M206.2 240.7h0M207.8 233.3h0M197.6 235.2h0M211.3 235.4h0M204.8 231.6h0M196.9 231.9h0M200.1 234.7h0M212.8 232.3h0" stroke="#fff" stroke-width="1.20" stroke-linecap="round" fill="none"/>
<path d="M201.4 251.3h0M210.2 244.2h0M202.3 246.7h0M199.4 242.2h0M205.4 244.4h0M201.5 252.3h0M204.6 248.9h0M206.7 251.4h0M201.8 242.7h0M200.5 244.2h0M208.7 252.0h0M204.8 248.7h0M207.9 249.2h0M201.1 247.5h0M202.6 249.1h0M206.8 245.2h0M203.5 247.9h0M210.1 241.6h0M209.6 248.8h0M210.0 246.4h0M201.4 250.0h0M202.7 248.2h0M210.8 248.8h0M206.9 248.9h0M203.9 246.7h0M201.2 246.9h0M205.1 244.9h0M205.4 249.2h0M203.4 252.3h0M204.2 253.9h0M208.1 250.7h0M200.6 250.8h0M209.6 250.6h0M206.8 248.5h0M207.7 248.6h0M208.5 243.1h0M204.4 249.8h0M209.9 242.1h0M207.7 251.0h0M206.5 249.3h0M204.5 247.1h0M206.1 245.7h0M208.5 248.6h0M204.0 248.2h0M207.4 252.7h0M208.7 250.9h0M200.1 242.1h0M204.5 251.6h0M204.1 253.2h0M203.1 247.7h0M201.9 242.7h0M205.8 242.6h0M200.4 245.0h0M201.3 244.3h0M210.6 249.1h0M206.8 244.4h0M206.6 244.2h0M204.5 245.2h0M208.2 246.5h0M202.7 243.4h0M207.3 242.7h0M206.1 247.2h0M209.8 250.0h0M208.8 251.8h0M200.7 245.3h0M200.7 252.3h0M210.3 249.0h0M205.1 247.1h0M200.1 243.6h0M209.2 241.3h0M201.1 248.4h0M201.5 246.3h0M199.5 245.0h0M201.3 248.7h0M202.8 253.7h0M201.0 245.1h0M209.4 241.8h0M204.7 247.7h0M202.2 243.3h0M203.3 244.5h0M207.4 246.8h0M206.1 249.2h0M205.6 250.7h0M208.9 248.4h0M204.8 254.3h0M203.8 247.5h0M208.2 247.2h0M203.9 251.3h0M209.7 247.4h0M207.3 248.8h0" stroke="#fff" stroke-width="1.20" stroke-linecap="round" fill="none"/>
<path d="M188.9 254.4h0M202.5 267.5h0M168.7 273.4h0M203.3 259.7h0M170.2 265.8h0M197.6 254.6h0M198.8 265.6h0M190.0 263.4h0M193.9 252.8h0M204.7 260.1h0M177.3 265.3h0M198.3 254.8h0M166.5 266.9h0M190.5 263.5h0M199.4 250.8h0M200.8 256.8h0M193.4 263.8h0M183.5 259.1h0M199.8 266.8h0M186.5 262.5h0M178.0 265.5h0M206.9 258.7h0M186.0 261.2h0M166.3 262.5h0M178.5 263.7h0M181.0 252.6h0M193.3 263.8h0M199.5 259.7h0M188.4 257.5h0M204.4 257.1h0M168.3 261.1h0M170.1 276.8h0M163.0 261.6h0M210.5 258.1h0M197.5 254.2h0M208.7 255.6h0M199.4 255.3h0M185.4 256.4h0M189.8 255.4h0M188.5 255.6h0M201.1 261.1h0M198.2 261.4h0M191.8 255.5h0M201.9 258.8h0M177.0 263.0h0M170.3 263.8h0M188.6 256.3h0M199.7 266.1h0M204.2 265.0h0M178.0 260.9h0M191.9 257.2h0M170.2 264.6h0M207.3 256.1h0M199.5 253.7h0M204.8 260.7h0M184.3 262.5h0M206.6 265.3h0M198.7 254.6h0M171.5 263.0h0M172.5 266.5h0M180.3 261.6h0M209.7 258.6h0M172.4 270.0h0M195.4 264.9h0M187.6 261.5h0M208.5 259.0h0M168.4 273.6h0M183.6 257.9h0M184.8 254.3h0M172.1 260.8h0M197.6 251.1h0M204.1 260.0h0M171.5 270.5h0M208.8 262.4h0M204.9 266.4h0M175.6 261.1h0M188.4 261.7h0M200.7 255.4h0M206.4 255.5h0M178.8 261.7h0M174.4 263.0h0M208.9 254.9h0M185.7 258.3h0M166.7 264.0h0M204.0 259.2h0M173.7 272.1h0M168.7 264.4h0M200.0 262.9h0M175.7 265.4h0M200.4 251.8h0M174.5 267.4h0M188.3 257.5h0M200.4 267.9h0M189.1 253.0h0M195.0 262.7h0M207.3 257.6h0M199.6 260.1h0M185.0 261.7h0M168.3 266.9h0M202.9 260.0h0M203.7 255.3h0M189.0 257.5h0M200.2 253.3h0M195.0 262.7h0M184.9 260.7h0M209.8 256.2h0M194.3 254.1h0M190.6 261.1h0M199.6 252.3h0M187.2 254.1h0" stroke="#fff" stroke-width="1.10" stroke-linecap="round" fill="none"/>
<path d="M217.0 274.4h0M213.3 253.9h0M212.2 272.5h0M210.5 260.5h0M218.0 261.5h0M213.6 254.6h0M218.3 273.8h0M220.9 262.3h0M215.2 259.8h0M209.1 265.6h0M218.9 275.2h0M227.2 262.2h0M223.2 277.6h0M213.3 256.8h0M224.4 260.5h0M220.0 264.6h0M211.7 257.2h0M213.9 261.0h0M214.6 261.8h0M219.2 269.7h0M214.4 273.0h0M216.6 256.0h0M222.7 279.2h0M210.8 274.0h0M224.4 261.8h0" stroke="#fff" stroke-width="1.00" stroke-linecap="round" fill="none"/>
</g></g>
<g filter="url(#rag)">
<g transform="translate(375.2 0) scale(1 1)">
<polygon points="96,251.2 107.3,249 121.9,247.3 127.5,252.4 130.9,260.2 134.2,263.6 129.2,267 129.7,276 125.2,280.4 127.5,283.8 134.2,286.1 132,289.4 126.4,291.7 121.9,292.8 125.2,297.3 133.1,301.8 141,307.4 142.1,313 146,320.9 145.5,324.3 137.6,325.4 132,327.1 125.2,326.5 124.1,318.7 121.9,313 118.5,307.4 117.5,300.5 112.9,307.4 103.9,304 99.4,293.9 93.8,282.7 91,271.5 91.5,260.2" fill="#4052a0" stroke="#4052a0" stroke-width="1.4" stroke-linejoin="round"/>
<polygon points="212,275.4 217.2,277 221.5,281.3 226.5,279 230.7,279.2 233.6,285 232.9,293.8 234.4,305.5 238,312.8 243.9,317.9 240.9,321.5 233.6,327.4 223.4,333.9 213.2,336.9 203,336.1 192.8,329.6 182.5,321.5 176.7,315.7 182.5,308.4 189.8,304 192.8,298.2 197.1,289.4 201.5,282.1 208.8,276.3" fill="#4052a0" stroke="#4052a0" stroke-width="1.4" stroke-linejoin="round"/>
<polygon points="210.3,251.5 216.1,255.8 224.9,257.3 229.3,261.7 228.5,267.5 226.3,271.9 226.5,279 221.5,281.3 217.2,277 212,275.4 208.5,271.5 207,268.5 209,262 212,256" fill="#4052a0" stroke="#4052a0" stroke-width="1.4" stroke-linejoin="round"/>
<polygon points="205.9,205.1 211.7,211.7 214.7,220.4 217.6,227.7 219,231.4 216.8,235 213.9,231.4 211,233.6 210.3,240.9 205,242.5 198.6,240.9 194.2,235 191.3,227.7 190.6,219 192.8,213.1 198.6,208" fill="#4052a0" stroke="#4052a0" stroke-width="1.4" stroke-linejoin="round"/>
<polygon points="198.6,240.9 205,242.5 210.3,240.9 211,248.2 210.3,251.5 206,255 201,254.5 200.1,248.2" fill="#4052a0" stroke="#4052a0" stroke-width="1.4" stroke-linejoin="round"/>
<polygon points="164,260 170,260.8 177,260.5 183,259.5 183.4,256.5 180,254 176.7,252.2 191.3,252.9 200.1,248.2 201,254.5 206,255 210.3,251.5 212,256 209,262 207,268.5 203,269 194.2,266.1 184,263.1 176.7,266.1 173.8,271.9 170.9,277 166.5,276.3 165,270.4 166.5,264.6 160.6,260.2" fill="#4052a0" stroke="#4052a0" stroke-width="1.4" stroke-linejoin="round"/>
<polygon points="159.2,257.3 166.5,254.4 173,253.2 180,254 183.4,256.5 183,259.5 177,260.5 170,260.8 164,260 160.6,260.2" fill="#4052a0" stroke="#4052a0" stroke-width="1.4" stroke-linejoin="round"/>
<path d="M113.1 299.0h0M131.4 304.6h0M132.8 264.3h0M126.9 310.7h0M132.0 261.5h0M121.2 248.5h0M104.5 295.4h0M108.2 291.8h0M134.3 315.8h0M120.6 288.4h0M139.9 325.0h0M125.4 262.9h0M133.9 304.0h0M129.4 259.1h0M102.2 260.9h0M117.3 260.9h0M105.5 259.8h0M102.7 255.4h0M113.7 274.3h0M98.7 261.5h0M113.2 253.0h0M107.3 250.9h0M116.8 258.2h0M128.5 325.0h0M101.7 260.5h0M133.0 308.8h0M114.0 275.4h0M126.9 285.9h0M105.9 281.0h0M93.6 279.3h0M114.6 295.7h0M98.3 269.4h0M108.2 253.2h0M121.1 282.9h0M121.2 273.6h0M100.7 294.0h0M134.7 325.3h0M102.3 291.9h0M115.0 253.5h0M102.5 262.6h0M120.1 267.2h0M109.3 283.2h0M142.0 320.5h0M133.7 304.1h0M120.3 262.3h0M103.9 297.3h0M108.1 256.9h0M141.3 311.6h0M99.4 284.9h0M117.6 290.4h0M102.6 252.2h0M99.7 287.9h0M126.5 300.3h0M106.1 281.7h0M102.4 297.7h0M112.3 284.1h0M111.2 261.4h0M123.4 305.2h0M110.2 257.6h0M124.8 297.0h0M122.0 288.6h0M102.3 273.0h0M111.0 268.5h0M106.1 261.9h0M130.9 321.5h0M127.2 321.2h0M95.5 258.3h0M92.1 261.5h0M143.1 317.5h0M108.8 292.8h0M110.8 280.9h0M125.9 322.4h0M94.6 280.8h0M130.3 310.1h0M125.5 269.7h0M92.5 265.6h0M123.4 295.0h0M126.4 289.7h0M95.1 280.8h0M112.4 263.9h0M106.6 296.9h0M138.2 313.4h0M104.5 301.6h0M134.3 311.6h0M101.5 277.0h0M121.2 306.1h0M116.0 261.7h0M118.2 292.2h0M102.4 266.0h0M101.7 281.8h0M104.6 268.0h0M98.7 251.4h0M127.8 299.5h0M100.1 269.8h0M131.2 313.4h0M127.0 272.7h0M131.7 320.9h0M121.7 296.9h0M117.8 257.2h0M117.8 281.1h0M128.4 286.1h0M104.3 263.2h0M115.5 256.6h0M100.5 275.2h0M96.8 288.2h0M108.4 275.9h0M120.3 269.3h0M126.7 303.9h0M139.1 311.0h0M98.1 281.7h0M126.7 316.8h0M122.4 310.0h0M101.4 294.1h0M110.1 271.0h0M102.8 277.0h0M124.0 249.4h0M100.4 289.2h0M111.0 302.8h0M98.1 252.3h0M101.6 259.2h0M115.5 301.8h0M116.4 287.2h0M104.2 278.3h0M135.3 322.8h0M111.2 283.3h0M97.5 264.6h0M136.9 313.4h0M107.7 275.1h0M114.8 276.3h0M131.9 302.0h0M124.4 320.5h0M123.9 263.8h0M119.0 268.7h0M141.0 311.3h0M126.4 308.8h0M97.0 281.3h0M110.9 275.7h0M113.5 288.4h0M116.1 284.2h0M110.5 285.6h0M100.5 283.9h0M110.3 258.4h0M123.4 282.1h0M97.9 290.0h0M103.4 292.7h0M108.5 304.6h0M138.4 321.2h0M117.4 254.2h0M107.2 268.2h0M134.9 309.9h0M125.7 308.2h0M114.7 298.4h0M112.3 267.6h0M99.7 281.6h0M108.0 256.1h0M103.9 286.9h0M109.3 296.7h0M106.4 296.9h0M103.2 292.6h0M122.6 256.9h0M112.0 256.5h0M127.9 309.6h0M126.0 251.7h0M113.3 248.7h0M128.6 307.4h0M93.7 258.9h0M126.7 321.9h0M114.6 279.4h0M119.6 308.2h0M117.4 266.1h0M105.2 256.8h0M130.6 287.3h0M111.0 275.7h0M103.2 269.5h0M104.7 288.1h0M114.1 284.8h0M124.4 288.1h0M101.6 263.9h0M112.6 265.1h0M143.0 315.9h0M102.7 257.8h0M121.5 253.1h0M108.4 251.7h0M117.9 292.1h0M141.6 316.8h0M115.1 275.0h0M116.0 267.0h0M99.2 255.5h0M125.9 320.1h0M102.3 254.2h0M110.0 276.7h0M113.5 282.7h0M118.6 266.3h0M127.4 314.2h0M97.5 271.2h0M102.7 288.2h0M102.5 278.3h0M113.3 272.6h0M130.0 286.6h0M137.0 313.9h0M122.2 270.9h0M120.1 265.3h0M106.3 258.2h0M121.5 304.7h0M97.2 285.6h0M109.7 275.7h0M95.7 269.1h0M110.9 268.5h0M102.6 269.8h0M118.8 299.1h0M115.8 284.3h0M105.8 286.7h0M113.9 296.1h0M96.6 270.3h0M98.3 287.9h0M108.9 291.1h0M132.3 325.6h0M137.6 309.6h0M124.5 304.1h0M138.9 311.1h0M100.4 265.3h0M107.2 303.8h0M122.4 294.9h0M102.6 257.4h0M116.4 262.6h0M117.5 288.1h0M123.7 275.9h0M137.3 308.2h0M104.3 293.7h0M127.6 267.8h0" stroke="#9ecae1" stroke-width="1.10" stroke-linecap="round" fill="none"/>
<path d="M208.0 279.7h0M221.9 302.0h0M191.4 319.1h0M230.4 288.8h0M230.6 312.7h0M224.6 311.9h0M228.7 283.5h0M189.8 306.3h0M225.5 320.3h0M206.4 317.9h0M232.8 287.9h0M202.6 310.8h0M223.2 310.3h0M200.7 328.7h0M218.1 292.1h0M214.8 293.6h0M241.7 318.1h0M228.3 328.5h0M215.2 315.0h0M212.5 279.2h0M209.9 285.0h0M189.4 324.7h0M218.0 286.4h0M205.2 330.1h0M186.8 320.5h0M198.3 318.9h0M201.2 322.8h0M193.4 320.9h0M212.9 283.1h0M229.3 288.6h0M216.0 314.9h0M203.4 288.3h0M225.8 282.8h0M208.0 321.8h0M201.0 289.3h0M211.1 287.1h0M225.6 325.4h0M216.5 307.6h0M216.2 297.7h0M213.0 313.2h0M211.0 328.0h0M188.8 318.3h0M226.4 300.5h0M231.8 315.1h0M192.4 327.1h0M194.4 327.6h0M232.7 326.5h0M213.5 290.1h0M202.2 334.4h0M188.0 323.3h0M215.4 333.4h0M203.5 319.1h0M234.2 325.8h0M216.8 327.0h0M195.7 329.0h0M211.4 282.3h0M212.8 332.8h0M197.4 315.8h0M231.6 303.4h0M205.7 319.3h0M193.1 326.5h0M227.0 300.2h0M195.9 314.1h0M198.7 326.3h0M234.3 318.0h0M199.2 332.4h0M188.1 324.4h0M218.3 328.1h0M221.5 332.5h0M193.3 329.3h0M228.2 288.3h0M211.1 283.0h0M218.8 284.2h0M199.4 289.2h0M229.4 305.6h0M214.7 278.0h0M201.2 304.1h0M233.2 288.0h0M205.4 291.7h0M196.4 305.9h0M199.5 303.4h0M192.4 304.7h0M228.0 298.3h0M221.9 329.6h0M216.3 280.6h0M222.2 291.1h0M208.0 318.7h0M221.0 331.9h0M227.8 313.1h0M206.9 335.1h0M228.1 294.4h0M230.2 312.3h0M193.9 324.1h0M195.7 308.0h0M235.0 321.2h0M209.3 301.0h0M225.5 329.9h0M218.3 308.3h0M208.2 323.3h0M198.1 315.6h0M233.9 319.2h0M218.3 285.5h0M225.7 312.3h0M225.3 303.6h0M216.5 285.0h0M198.6 300.6h0M206.9 331.5h0M225.0 281.7h0M203.0 325.2h0M225.0 290.8h0M198.8 316.3h0M216.7 298.3h0M199.2 300.5h0M199.6 324.2h0M222.7 327.3h0M205.1 313.6h0M212.5 278.7h0M204.2 296.2h0M217.2 330.3h0M207.7 299.2h0M184.6 316.9h0M196.5 329.0h0M189.3 320.1h0M211.4 314.6h0M200.6 308.3h0M205.3 305.0h0M210.4 279.6h0M219.3 312.3h0M228.2 296.4h0M219.4 296.2h0M188.7 317.3h0M230.3 290.6h0M211.0 313.0h0M227.8 295.9h0M230.9 319.2h0M207.1 328.2h0M235.5 308.1h0M212.2 305.8h0M224.3 307.1h0M214.5 328.0h0M218.1 292.5h0M228.3 314.7h0M200.0 302.7h0M213.8 280.9h0M207.5 333.5h0M194.6 315.1h0M189.2 307.7h0M205.0 327.3h0M191.0 315.4h0M209.7 288.2h0M202.6 291.3h0M227.7 291.2h0M196.5 314.7h0M199.2 316.2h0M231.9 311.7h0M195.9 310.0h0M207.1 333.8h0M239.9 318.2h0M191.0 302.4h0M211.7 288.6h0M218.3 323.9h0M228.1 296.8h0M222.6 305.1h0M217.2 278.9h0M183.7 321.5h0M220.3 332.0h0M205.8 312.1h0M205.5 329.3h0M196.6 305.6h0M229.6 298.3h0M205.9 281.5h0M208.3 285.6h0M204.2 297.0h0M200.5 314.8h0M207.2 320.6h0M195.8 320.7h0M208.8 295.7h0M217.5 304.6h0M232.0 318.4h0M202.0 311.8h0M205.2 321.0h0M186.6 309.3h0M212.4 330.6h0M198.3 299.8h0M223.4 312.6h0M209.9 312.4h0M206.0 308.0h0M225.7 299.8h0M212.1 332.7h0M203.0 318.2h0M192.4 315.9h0M192.0 316.5h0M231.3 310.3h0M212.0 303.7h0M220.0 325.6h0M210.5 285.1h0M184.0 315.0h0M198.0 296.1h0M216.8 280.3h0M185.5 321.4h0M201.4 316.1h0M187.7 317.5h0M211.2 282.2h0M203.1 308.6h0M189.7 308.0h0M210.7 300.7h0M220.5 306.7h0M241.0 320.5h0M217.9 306.4h0M211.9 295.0h0M193.5 314.7h0M224.0 305.3h0M219.1 283.7h0M233.6 303.7h0M225.3 292.0h0M226.2 293.8h0M226.0 309.0h0M228.2 292.8h0M202.1 316.2h0M214.1 301.3h0M216.8 315.8h0M206.5 328.5h0M205.3 303.7h0M193.8 321.2h0M191.5 300.8h0M180.2 318.4h0M190.9 313.9h0M197.4 305.1h0M233.0 301.6h0M206.8 311.1h0M211.1 327.8h0M212.5 318.3h0M211.4 277.0h0M215.3 297.7h0M224.5 313.2h0M209.4 307.1h0M195.2 309.5h0M212.7 329.1h0M221.5 304.1h0M230.5 304.3h0M220.7 286.7h0M199.4 287.6h0M199.9 292.9h0M202.4 317.5h0M228.2 330.7h0M218.0 325.9h0M220.3 280.3h0M221.7 321.1h0M206.9 309.0h0M219.8 317.5h0M205.5 297.7h0M211.7 311.1h0M210.4 322.2h0M225.3 313.7h0M210.4 285.9h0M199.6 294.5h0M208.7 279.9h0M203.8 336.1h0M199.6 293.2h0M209.3 314.0h0" stroke="#9ecae1" stroke-width="1.10" stroke-linecap="round" fill="none"/>
<path d="M215.5 230.9h0M199.3 228.9h0M207.7 238.2h0M209.4 219.4h0M201.1 234.8h0M210.2 217.2h0M205.0 219.8h0M203.1 234.1h0M206.3 230.5h0M209.9 214.2h0M215.8 228.3h0M200.7 209.1h0M198.9 210.2h0M193.5 213.2h0M193.3 216.6h0M207.1 219.1h0M210.0 213.7h0M209.1 215.6h0M202.8 214.6h0M193.5 213.6h0M196.3 219.1h0M200.1 216.6h0M212.7 219.4h0M216.2 231.3h0M200.2 226.8h0M210.0 236.0h0M206.3 209.7h0M194.0 225.1h0M199.0 216.7h0M206.9 229.6h0M209.5 221.9h0M212.4 227.8h0M203.9 210.8h0M199.3 207.8h0M215.3 222.1h0M206.4 236.0h0M204.1 227.0h0M194.5 214.3h0M194.2 233.0h0M206.1 214.4h0M212.1 219.4h0M194.4 223.9h0M205.3 218.3h0M196.7 215.0h0M202.6 232.8h0" stroke="#9ecae1" stroke-width="1.10" stroke-linecap="round" fill="none"/>
<path d="M223.3 275.3h0M224.5 260.7h0M212.5 266.5h0M223.5 259.5h0M212.2 263.0h0M220.4 267.8h0M216.2 267.8h0M226.7 266.4h0M209.4 261.4h0M212.3 253.6h0M217.1 261.5h0M212.0 260.9h0M209.4 266.8h0M218.9 270.0h0M212.7 254.1h0M223.8 262.0h0M214.0 267.7h0M222.0 269.5h0M221.8 277.4h0M221.9 271.1h0M213.0 261.8h0M227.8 260.9h0M221.3 267.0h0M209.9 268.4h0M210.2 269.8h0" stroke="#9ecae1" stroke-width="1.10" stroke-linecap="round" fill="none"/>
<path d="M205.4 256.9h0M200.2 266.7h0M167.1 268.5h0M206.4 265.4h0M179.7 261.9h0M168.9 268.0h0M202.7 261.1h0M205.3 268.5h0M169.7 272.3h0M191.7 254.7h0M192.9 257.0h0M167.3 271.8h0M167.3 276.3h0M211.2 255.2h0M205.8 257.8h0M188.1 261.3h0M200.0 259.1h0M186.8 261.7h0M184.4 253.5h0M191.8 255.8h0M194.4 265.6h0M170.8 268.6h0M170.3 261.2h0M195.3 251.9h0M183.6 260.5h0M174.0 263.8h0M178.0 264.6h0M205.7 265.9h0M203.5 261.6h0M199.0 250.9h0" stroke="#9ecae1" stroke-width="1.10" stroke-linecap="round" fill="none"/>
<path d="M204.9 246.9h0M209.0 246.8h0M205.5 246.4h0M206.0 254.6h0M201.5 249.3h0M203.1 248.6h0M201.7 243.4h0M205.1 252.4h0M210.6 246.7h0M201.6 245.4h0M208.6 242.9h0M209.9 247.9h0" stroke="#9ecae1" stroke-width="1.10" stroke-linecap="round" fill="none"/>
<path d="M123.6 297.7h0M132.2 264.3h0M110.5 291.2h0M125.7 305.0h0M103.4 263.0h0M144.6 323.6h0M139.7 310.8h0M100.5 251.1h0M110.6 275.2h0M107.6 262.2h0M101.7 259.6h0M138.6 320.3h0M91.9 274.3h0M111.6 255.9h0M116.7 255.7h0M144.5 318.9h0M97.4 275.5h0M113.0 295.9h0M108.1 280.6h0M123.9 313.7h0M120.8 254.1h0M94.3 255.8h0M95.5 283.0h0M100.2 260.3h0M110.1 268.0h0M103.3 291.0h0M96.5 277.4h0M110.0 275.6h0M115.0 258.7h0M98.8 263.0h0M113.9 258.9h0M122.1 269.5h0M129.8 289.8h0M122.3 258.5h0M118.4 251.1h0M112.6 287.2h0M139.0 319.9h0M124.2 285.4h0M103.2 262.9h0M135.9 314.5h0M110.6 264.6h0M140.0 310.9h0M103.1 289.4h0M124.4 319.7h0M108.2 290.3h0M131.5 263.3h0M105.6 261.9h0M115.2 266.7h0M102.7 283.5h0M114.2 250.7h0M120.0 294.6h0M100.8 280.1h0M143.5 318.5h0M122.1 306.6h0M107.8 283.8h0M102.6 295.1h0M134.4 303.8h0M107.8 277.9h0M139.5 322.0h0M111.4 276.2h0M114.7 277.0h0M98.5 282.3h0M105.6 252.1h0M94.8 256.4h0M92.0 266.8h0M108.2 291.8h0M112.0 265.4h0M111.7 286.5h0M113.3 269.9h0M144.4 320.8h0M95.9 272.6h0M107.8 266.1h0M112.2 264.2h0M117.3 269.1h0M93.9 255.4h0M99.7 264.3h0M123.8 309.4h0M109.5 260.6h0M119.1 298.8h0M124.4 292.2h0M126.9 286.7h0M112.0 296.9h0M97.0 265.7h0M117.8 249.3h0M126.3 324.1h0M107.3 280.8h0M143.9 319.6h0M93.4 256.6h0M111.8 268.3h0M94.3 258.7h0M104.2 276.5h0M120.5 253.3h0M112.1 294.9h0M122.9 279.9h0M108.9 282.3h0M141.4 310.9h0M117.8 282.3h0M132.3 310.8h0M124.1 251.1h0M115.8 271.9h0M112.6 304.6h0M128.2 308.7h0M126.9 276.4h0M95.8 257.7h0M113.7 295.2h0M115.8 252.2h0M124.7 270.1h0M121.0 274.5h0M117.8 296.1h0M109.9 275.1h0M107.2 250.6h0M116.0 276.7h0M134.2 310.9h0M133.0 310.6h0M121.8 271.3h0M130.1 286.4h0M137.9 313.1h0M101.8 295.5h0M99.3 256.3h0M140.2 320.7h0M98.5 273.5h0M117.2 284.8h0M108.0 252.5h0M92.7 269.8h0M101.9 267.9h0M106.7 288.2h0M129.4 300.5h0M123.4 288.7h0M112.2 260.4h0M100.0 278.4h0M117.2 299.4h0M98.7 264.7h0M111.6 252.9h0M123.1 314.4h0M123.3 312.4h0M100.7 252.0h0M120.6 288.3h0M118.6 248.5h0M97.4 284.9h0M117.1 271.5h0M129.3 314.1h0M103.9 289.1h0M111.4 304.5h0M112.7 260.1h0M111.6 258.8h0M114.0 256.6h0M121.2 248.5h0M123.1 283.2h0M105.4 268.5h0M92.9 273.5h0" stroke="#fff" stroke-width="1.00" stroke-linecap="round" fill="none"/>
<path d="M129.0 323.9h0M127.1 313.3h0M131.3 309.9h0M121.5 300.5h0M127.6 302.6h0M123.9 299.6h0M134.7 305.2h0M127.2 299.5h0M133.6 302.2h0M136.9 306.3h0M134.6 310.8h0M133.3 316.2h0M118.1 303.3h0M137.7 316.6h0M140.0 310.9h0M134.8 323.8h0M129.3 325.3h0M125.8 307.0h0M130.2 317.5h0M128.2 321.1h0M130.0 304.0h0M124.6 318.5h0M125.6 309.3h0M141.2 320.3h0M133.5 302.6h0M129.0 306.1h0M141.5 318.9h0M129.9 318.5h0M123.0 310.5h0M127.3 307.0h0M127.6 323.9h0M120.0 304.5h0M121.6 302.0h0M144.1 323.2h0M127.9 306.3h0M135.2 312.5h0M122.5 307.5h0M132.2 309.4h0M128.2 322.6h0M126.3 301.6h0M126.6 320.1h0M135.1 325.8h0M128.8 322.7h0M122.2 311.5h0M132.2 308.2h0M134.5 325.0h0M125.9 304.5h0M125.8 314.4h0M122.7 310.6h0M124.2 296.8h0M145.2 322.3h0M143.0 324.4h0M143.6 322.9h0M127.6 307.6h0M137.8 306.5h0M119.9 306.7h0M136.8 313.5h0M127.6 319.8h0M119.6 300.7h0M139.4 318.5h0M121.6 304.3h0M129.5 309.6h0M128.6 311.5h0M130.4 303.5h0M118.3 300.1h0M120.4 297.0h0M124.4 306.3h0M131.1 314.0h0M129.8 300.2h0M121.4 298.3h0M128.6 309.4h0M124.1 316.4h0M134.4 307.1h0M133.6 321.4h0M124.3 305.3h0M125.6 320.4h0M139.5 307.0h0M134.8 312.1h0M144.1 322.3h0M120.5 302.2h0M141.0 322.2h0M131.6 315.4h0M123.7 302.8h0M128.9 319.0h0M131.3 310.2h0M124.1 317.2h0M125.0 299.6h0M129.4 307.6h0M127.5 311.8h0M121.0 310.0h0" stroke="#fff" stroke-width="1.20" stroke-linecap="round" fill="none"/>
<path d="M128.1 273.3h0M124.4 269.0h0M125.3 276.5h0M125.6 257.4h0M126.1 285.2h0M124.1 260.1h0M126.0 279.4h0M125.9 278.4h0M128.1 266.7h0M124.5 264.8h0M122.8 289.7h0M127.8 277.8h0M123.9 288.5h0M126.6 289.8h0M128.4 275.2h0M121.3 286.9h0M127.0 274.1h0M128.5 284.5h0M123.8 289.3h0M123.1 282.6h0M128.0 264.4h0M124.3 260.2h0M128.7 275.0h0M122.2 275.1h0M122.6 289.9h0M132.3 263.7h0M122.8 277.9h0M131.0 287.9h0M123.4 271.5h0M126.3 289.6h0M128.8 274.1h0M128.8 275.5h0M122.4 288.1h0M123.9 268.5h0M125.1 270.3h0M123.9 284.6h0M125.6 265.2h0M126.1 266.7h0M125.6 286.7h0M128.4 266.0h0M125.0 270.8h0M128.2 273.3h0M131.1 263.3h0M132.5 287.2h0M124.7 285.2h0M126.4 266.6h0M125.5 287.7h0M122.8 286.7h0M129.4 286.0h0M130.4 265.7h0" stroke="#fff" stroke-width="1.10" stroke-linecap="round" fill="none"/>
<path d="M205.4 285.4h0M220.4 324.5h0M207.4 328.9h0M214.2 320.8h0M197.7 300.5h0M202.8 332.2h0M193.6 321.8h0M223.0 332.9h0M233.8 310.6h0M235.4 316.2h0M217.1 332.7h0M196.1 329.5h0M221.8 311.4h0M214.7 308.0h0M208.5 329.0h0M208.6 323.6h0M221.3 328.4h0M227.4 299.8h0M234.7 314.7h0M230.8 313.4h0M210.3 308.3h0M207.3 307.5h0M214.5 298.2h0M208.8 318.6h0M216.2 317.4h0M218.9 280.6h0M216.8 315.6h0M205.5 321.7h0M186.5 306.3h0M211.2 302.1h0M219.0 298.5h0M216.3 291.2h0M199.5 286.3h0M226.4 331.6h0M226.3 315.3h0M240.5 317.4h0M227.4 282.4h0M207.5 324.1h0M200.3 308.5h0M206.1 333.5h0M235.3 321.3h0M234.7 307.8h0M216.0 298.0h0M219.6 291.3h0M228.6 313.3h0M231.2 301.1h0M219.5 294.2h0M204.0 287.7h0M208.0 302.1h0M207.4 312.6h0M198.3 304.5h0M191.8 322.5h0M222.6 326.6h0M217.2 303.4h0M212.5 287.2h0M213.5 302.9h0M231.9 302.8h0M213.5 318.0h0M231.6 287.0h0M221.7 289.4h0M216.8 303.7h0M217.7 287.7h0M214.7 334.7h0M197.7 293.3h0M219.2 317.7h0M224.3 313.1h0M210.1 327.6h0M219.2 289.9h0M204.1 314.3h0M238.0 314.8h0M213.8 282.3h0M217.6 327.4h0M239.1 317.7h0M240.7 316.2h0M193.4 309.9h0M222.5 308.5h0M203.0 329.3h0M201.3 301.5h0M225.9 291.8h0M227.8 312.8h0M236.1 316.6h0M210.5 277.4h0M201.2 329.4h0M213.1 317.5h0M223.2 281.7h0M223.9 332.5h0M201.8 324.1h0M216.6 286.6h0M232.8 308.3h0M227.9 306.2h0M216.4 278.0h0M203.9 302.7h0M221.6 307.6h0M207.2 335.5h0M212.1 311.4h0M211.5 287.0h0M236.4 315.3h0M218.5 284.3h0M229.3 320.1h0M221.8 289.3h0M221.0 294.0h0M216.4 317.3h0M230.4 311.7h0M204.3 321.9h0M223.0 286.5h0M213.4 315.4h0M185.1 322.3h0M216.1 289.4h0M229.3 298.4h0M224.5 305.1h0M217.4 293.5h0M208.7 289.8h0M226.0 316.6h0M203.8 329.1h0M215.8 278.9h0M209.9 317.1h0M218.3 332.5h0M196.5 331.0h0M213.3 304.5h0M209.4 328.1h0M232.8 285.7h0M203.5 296.9h0M234.7 318.9h0M213.6 296.9h0M228.6 307.4h0M213.0 319.5h0M188.4 319.3h0M196.8 314.4h0M206.4 316.8h0M186.5 323.8h0" stroke="#fff" stroke-width="1.00" stroke-linecap="round" fill="none"/>
<path d="M208.7 226.0h0M199.8 217.1h0M198.2 234.0h0M201.8 209.3h0M202.1 217.1h0M200.9 218.5h0M205.5 206.2h0M199.5 216.7h0M192.7 218.6h0M197.4 222.9h0M195.4 227.1h0M202.5 221.8h0M209.8 234.6h0M217.2 233.4h0M211.4 213.0h0M217.1 227.7h0M207.4 213.3h0M208.9 215.5h0M209.3 232.3h0M216.1 229.6h0M195.5 232.3h0M196.7 236.2h0M204.0 241.0h0M201.4 233.6h0M209.4 215.8h0M212.1 223.6h0M210.2 222.3h0M206.1 207.2h0M200.2 235.8h0M203.1 211.4h0M204.7 209.0h0M193.7 214.8h0M206.8 229.6h0M196.5 230.3h0M202.1 212.4h0M202.2 229.2h0M211.1 215.7h0M190.9 219.5h0M210.4 224.7h0M207.5 210.3h0M208.3 235.4h0M209.0 212.4h0M203.5 240.9h0M201.9 213.9h0M198.9 213.6h0M212.0 227.3h0M205.0 212.9h0M210.5 219.1h0M204.8 215.2h0M196.6 215.3h0" stroke="#fff" stroke-width="1.00" stroke-linecap="round" fill="none"/>
<path d="M199.2 233.8h0M205.6 240.1h0M197.4 233.0h0M201.2 235.4h0M205.9 229.5h0M208.4 230.3h0M201.5 234.0h0M204.2 234.9h0M204.5 232.6h0M204.9 237.9h0M203.6 238.2h0M209.4 233.9h0M205.7 238.2h0M200.8 238.2h0M211.4 234.0h0M207.0 239.6h0M207.4 237.3h0M206.1 233.8h0M209.5 239.0h0M206.2 236.2h0M201.4 237.2h0M207.9 240.7h0M202.3 233.5h0M204.3 235.1h0M202.2 236.6h0M208.8 229.9h0M212.1 232.4h0M207.5 237.9h0M195.4 230.5h0M203.5 236.1h0M212.9 233.1h0M200.5 239.0h0M210.8 230.5h0M202.8 235.7h0M203.4 233.5h0M201.4 230.9h0M210.9 230.3h0M211.0 230.2h0M201.0 238.1h0M207.0 230.7h0M212.0 235.5h0M200.4 232.0h0M207.2 235.7h0M205.8 235.2h0M205.3 237.8h0M200.8 233.7h0M204.7 234.5h0M207.4 233.9h0M204.4 234.9h0M202.0 238.5h0M209.7 229.1h0M204.9 237.4h0M199.2 239.4h0M206.6 236.4h0M208.2 231.7h0M210.9 234.0h0M211.1 237.7h0M202.1 239.4h0M203.4 233.9h0M209.1 229.0h0M201.8 232.4h0M210.3 240.0h0M207.2 230.6h0M194.9 230.5h0M206.4 238.7h0M208.5 231.7h0M202.7 229.5h0M199.1 236.5h0M196.6 230.2h0M200.7 237.6h0M200.4 230.1h0M201.1 234.2h0M208.9 231.7h0M200.3 232.4h0M203.5 230.6h0M208.0 236.5h0M211.8 237.6h0M203.7 229.7h0M200.0 232.0h0M206.8 238.3h0" stroke="#fff" stroke-width="1.20" stroke-linecap="round" fill="none"/>
<path d="M210.1 241.5h0M203.7 249.4h0M208.2 251.4h0M200.9 242.9h0M209.4 246.7h0M209.0 245.8h0M207.3 242.0h0M207.5 245.0h0M201.0 246.4h0M208.5 247.7h0M203.4 253.8h0M209.6 251.6h0M201.5 253.2h0M208.2 241.6h0M203.7 245.8h0M207.7 249.3h0M202.7 246.5h0M203.6 254.5h0M200.3 247.3h0M204.2 253.2h0M206.9 252.1h0M204.1 245.1h0M201.7 254.5h0M201.6 254.5h0M207.4 248.2h0M208.0 249.0h0M205.2 244.8h0M203.5 242.5h0M209.6 243.0h0M204.3 249.9h0M207.9 243.9h0M203.3 247.1h0M208.9 251.9h0M201.8 249.4h0M202.9 242.1h0M206.7 252.1h0M209.5 249.3h0M209.7 241.5h0M205.9 254.4h0M201.1 251.7h0M202.3 251.8h0M203.8 248.2h0M207.3 248.2h0M209.7 247.2h0M200.7 246.4h0M206.4 246.3h0M204.4 243.6h0M202.5 245.0h0M202.4 251.1h0M200.4 245.5h0M202.8 254.5h0M201.2 242.5h0M209.9 251.5h0M204.2 250.6h0M209.4 243.4h0M207.0 250.1h0M201.4 253.4h0M207.9 241.7h0M206.1 243.9h0M200.2 246.1h0M201.4 252.6h0M199.4 243.0h0M203.8 254.2h0M210.4 242.3h0M205.2 251.1h0M205.0 246.5h0M210.3 241.5h0M209.1 247.0h0M202.2 248.0h0M204.9 246.6h0" stroke="#fff" stroke-width="1.20" stroke-linecap="round" fill="none"/>
<path d="M191.7 255.5h0M206.1 255.5h0M176.8 260.8h0M192.0 257.0h0M207.9 254.0h0M193.4 255.4h0M178.0 262.7h0M192.5 258.3h0M190.0 253.1h0M171.9 262.0h0M193.7 262.0h0M196.5 265.0h0M195.6 262.6h0M190.5 264.4h0M172.7 265.5h0M172.1 272.7h0M196.8 252.7h0M192.3 253.4h0M199.1 266.2h0M205.5 264.7h0M171.7 270.0h0M169.0 261.1h0M209.3 258.6h0M167.5 261.4h0M195.1 254.2h0M196.1 258.9h0M189.9 258.3h0M201.1 267.3h0M175.8 262.0h0M194.8 253.3h0M165.5 261.4h0M183.5 258.4h0M187.2 256.8h0M168.8 265.9h0M197.4 255.4h0M202.3 261.2h0M200.7 259.5h0M162.3 260.7h0M197.7 258.1h0M196.2 250.8h0M197.8 266.6h0M169.7 265.8h0M186.5 263.8h0M179.9 264.6h0M167.4 274.0h0M190.3 259.0h0M170.4 265.3h0M178.8 262.9h0M209.2 255.0h0M168.9 267.7h0M168.8 264.9h0M170.7 273.6h0M181.1 254.5h0M189.2 260.9h0M206.6 256.1h0M194.3 253.6h0M195.6 265.1h0M203.1 264.0h0M196.1 255.3h0M200.4 252.2h0M197.9 255.2h0M191.9 254.1h0M174.2 269.9h0M201.8 264.8h0M184.7 259.0h0M193.1 265.1h0M167.5 274.9h0M204.8 266.9h0M181.2 252.5h0M165.2 270.4h0M202.3 257.5h0M203.0 262.1h0M203.1 265.9h0M195.6 263.4h0M167.0 273.1h0M197.8 250.2h0M200.3 260.5h0M187.8 262.6h0M194.3 259.9h0M167.8 269.4h0M185.8 261.5h0M191.8 254.3h0M187.5 258.0h0M168.3 265.8h0M179.5 264.7h0M210.7 258.1h0M171.3 264.4h0M165.9 260.8h0M190.3 255.0h0M164.2 260.9h0M200.2 254.0h0M186.4 256.6h0M193.4 256.1h0M198.8 265.0h0M182.8 252.8h0M173.2 261.5h0M181.4 261.6h0M176.3 264.3h0M198.2 261.5h0M165.9 264.1h0" stroke="#fff" stroke-width="1.10" stroke-linecap="round" fill="none"/>
</g></g>
<rect x="82.8" y="184.5" width="168.5" height="14.3" fill="#e03131" stroke="none" stroke-width="0.6"/>
<text x="167.05" y="195.3" font-size="10.1" fill="#fff" text-anchor="middle" font-weight="bold" font-family="'DejaVu Sans', 'Liberation Sans', sans-serif">Cell Type</text>
<rect x="270.2" y="184.5" width="168.5" height="14.3" fill="#75d04f" stroke="none" stroke-width="0.6"/>
<text x="354.45" y="195.3" font-size="10.1" fill="#fff" text-anchor="middle" font-weight="bold" font-family="'DejaVu Sans', 'Liberation Sans', sans-serif">Dataset</text>
<rect x="458.1" y="184.5" width="168.5" height="14.3" fill="#4b5eae" stroke="none" stroke-width="0.6"/>
<text x="542.35" y="195.3" font-size="10.1" fill="#fff" text-anchor="middle" font-weight="bold" font-family="'DejaVu Sans', 'Liberation Sans', sans-serif">Age</text>
<text x="188.7" y="229.2" font-size="7.6" fill="#222" text-anchor="start" font-weight="normal" font-family="'DejaVu Sans', 'Liberation Sans', sans-serif">AT1</text>
<text x="151.2" y="252.3" font-size="7.6" fill="#222" text-anchor="start" font-weight="normal" font-family="'DejaVu Sans', 'Liberation Sans', sans-serif">Goblet</text>
<text x="185.8" y="266.7" font-size="7.6" fill="#222" text-anchor="start" font-weight="normal" font-family="'DejaVu Sans', 'Liberation Sans', sans-serif">Club</text>
<text x="152.6" y="280.5" font-size="7.6" fill="#222" text-anchor="start" font-weight="normal" font-family="'DejaVu Sans', 'Liberation Sans', sans-serif">Basal</text>
<text x="91.8" y="285.6" font-size="7.6" fill="#222" text-anchor="start" font-weight="normal" font-family="'DejaVu Sans', 'Liberation Sans', sans-serif">Ciliated</text>
<text x="208.2" y="272.2" font-size="7.6" fill="#222" text-anchor="start" font-weight="normal" font-family="'DejaVu Sans', 'Liberation Sans', sans-serif">SPC<tspan font-size="4.6" dy="-2.6">low</tspan><tspan dy="2.6"> AT2</tspan></text>
<text x="184.3" y="322.4" font-size="7.6" fill="#222" text-anchor="start" font-weight="normal" font-family="'DejaVu Sans', 'Liberation Sans', sans-serif">SPC<tspan font-size="4.6" dy="-2.6">high</tspan><tspan dy="2.6"> AT2</tspan></text>
<circle cx="284" cy="215.5" r="2.8" fill="#3a4f4c"/><circle cx="284" cy="225.8" r="2.8" fill="#eec5a0"/>
<text x="294.8" y="218.6" font-size="8.0" fill="#222" text-anchor="start" font-weight="normal" font-family="'DejaVu Sans', 'Liberation Sans', sans-serif">Dataset 1</text>
<text x="294.8" y="228.7" font-size="8.0" fill="#222" text-anchor="start" font-weight="normal" font-family="'DejaVu Sans', 'Liberation Sans', sans-serif">Dataset 2</text>
<circle cx="471.6" cy="222.5" r="2.8" fill="#9ecae1"/><circle cx="471.6" cy="233.2" r="2.8" fill="#4052a0"/>
<text x="482.3" y="225.6" font-size="8.0" fill="#222" text-anchor="start" font-weight="normal" font-family="'DejaVu Sans', 'Liberation Sans', sans-serif">Aged</text>
<text x="482.3" y="235.8" font-size="8.0" fill="#222" text-anchor="start" font-weight="normal" font-family="'DejaVu Sans', 'Liberation Sans', sans-serif">Young</text>
<g filter="url(#rag)">
<g transform="translate(56.59 229.44) scale(0.6089 0.7827)">
<polygon points="96,251.2 107.3,249 121.9,247.3 127.5,252.4 130.9,260.2 134.2,263.6 129.2,267 129.7,276 125.2,280.4 127.5,283.8 134.2,286.1 132,289.4 126.4,291.7 121.9,292.8 125.2,297.3 133.1,301.8 141,307.4 142.1,313 146,320.9 145.5,324.3 137.6,325.4 132,327.1 125.2,326.5 124.1,318.7 121.9,313 118.5,307.4 117.5,300.5 112.9,307.4 103.9,304 99.4,293.9 93.8,282.7 91,271.5 91.5,260.2" fill="#bcaedc" stroke="#bcaedc" stroke-width="1.4" stroke-linejoin="round"/>
<polygon points="212,275.4 217.2,277 221.5,281.3 226.5,279 230.7,279.2 233.6,285 232.9,293.8 234.4,305.5 238,312.8 243.9,317.9 240.9,321.5 233.6,327.4 223.4,333.9 213.2,336.9 203,336.1 192.8,329.6 182.5,321.5 176.7,315.7 182.5,308.4 189.8,304 192.8,298.2 197.1,289.4 201.5,282.1 208.8,276.3" fill="#6654b6" stroke="#6654b6" stroke-width="1.4" stroke-linejoin="round"/>
<polygon points="210.3,251.5 216.1,255.8 224.9,257.3 229.3,261.7 228.5,267.5 226.3,271.9 226.5,279 221.5,281.3 217.2,277 212,275.4 208.5,271.5 207,268.5 209,262 212,256" fill="#7462bc" stroke="#7462bc" stroke-width="1.4" stroke-linejoin="round"/>
<polygon points="205.9,205.1 211.7,211.7 214.7,220.4 217.6,227.7 219,231.4 216.8,235 213.9,231.4 211,233.6 210.3,240.9 205,242.5 198.6,240.9 194.2,235 191.3,227.7 190.6,219 192.8,213.1 198.6,208" fill="#b3a2d6" stroke="#b3a2d6" stroke-width="1.4" stroke-linejoin="round"/>
<polygon points="198.6,240.9 205,242.5 210.3,240.9 211,248.2 210.3,251.5 206,255 201,254.5 200.1,248.2" fill="#a896d2" stroke="#a896d2" stroke-width="1.4" stroke-linejoin="round"/>
<polygon points="164,260 170,260.8 177,260.5 183,259.5 183.4,256.5 180,254 176.7,252.2 191.3,252.9 200.1,248.2 201,254.5 206,255 210.3,251.5 212,256 209,262 207,268.5 203,269 194.2,266.1 184,263.1 176.7,266.1 173.8,271.9 170.9,277 166.5,276.3 165,270.4 166.5,264.6 160.6,260.2" fill="#bcaedc" stroke="#bcaedc" stroke-width="1.4" stroke-linejoin="round"/>
<polygon points="159.2,257.3 166.5,254.4 173,253.2 180,254 183.4,256.5 183,259.5 177,260.5 170,260.8 164,260 160.6,260.2" fill="#bcaedc" stroke="#bcaedc" stroke-width="1.4" stroke-linejoin="round"/>
<path d="M117.0 289.1h0M101.6 255.3h0M143.3 324.1h0M108.8 260.5h0M112.8 265.7h0M116.2 298.8h0M115.2 292.3h0M111.3 303.2h0M113.2 269.5h0M114.4 287.8h0M110.8 291.5h0M133.7 286.5h0M104.2 257.4h0M113.3 266.4h0M141.6 314.2h0M120.6 254.8h0M94.6 256.9h0M114.5 264.0h0M115.2 302.2h0M112.6 274.1h0M107.4 277.1h0M95.7 254.9h0M108.7 274.4h0M105.9 265.0h0M123.6 265.6h0M135.1 316.8h0M105.4 278.4h0M116.3 269.9h0M106.7 287.2h0M97.5 288.5h0M111.6 249.0h0M122.7 297.0h0M102.8 272.6h0M106.3 304.8h0M121.3 281.0h0M135.0 307.4h0M113.2 260.5h0M101.3 277.1h0M109.2 264.4h0M116.0 291.4h0M143.7 322.4h0M112.1 274.9h0M103.5 295.4h0M102.7 288.5h0M94.5 254.7h0M131.2 323.2h0M126.8 252.7h0M108.2 271.8h0M128.9 275.0h0M94.3 276.8h0M97.9 251.2h0M127.7 260.0h0M138.1 311.7h0M136.4 306.6h0M139.6 320.7h0M121.0 276.3h0M101.0 294.5h0M127.3 319.2h0M105.7 260.7h0M130.5 304.6h0" stroke="#fff" stroke-width="1.00" stroke-linecap="round" fill="none"/>
<path d="M111.9 279.3h0M111.5 300.7h0M125.3 325.7h0M104.5 254.9h0M106.4 300.6h0M104.1 292.8h0M103.8 256.2h0M113.1 249.7h0M124.5 311.3h0M110.7 301.1h0M110.5 269.3h0M127.6 316.1h0M123.9 305.7h0M125.2 315.5h0M105.1 302.3h0M138.0 312.4h0M124.7 262.5h0M101.7 283.5h0M110.8 298.2h0M133.7 322.7h0M125.8 304.0h0M96.1 269.9h0M125.7 323.2h0M118.3 278.3h0M134.5 311.5h0M129.0 303.8h0M113.3 291.0h0M113.8 250.4h0M93.7 266.7h0M117.1 276.0h0M127.6 277.0h0M112.4 250.8h0M123.3 305.0h0M99.2 266.5h0M125.0 254.1h0M140.5 314.7h0M103.3 292.3h0M108.7 261.2h0M135.6 323.9h0M106.7 252.0h0M126.8 288.8h0M113.9 249.7h0M96.7 264.2h0M132.3 288.8h0M105.0 289.3h0M111.7 282.6h0M126.5 309.3h0M126.6 311.3h0M112.6 293.6h0M109.8 252.9h0M115.4 288.0h0M105.6 262.7h0M117.7 281.9h0M107.2 252.3h0M105.1 266.6h0M113.5 290.0h0M140.5 312.2h0M124.7 287.1h0M139.9 322.1h0M101.7 266.4h0" stroke="#8f7fc6" stroke-width="1.00" stroke-linecap="round" fill="none"/>
<path d="M236.4 317.5h0M199.7 321.0h0M212.2 330.2h0M210.7 335.5h0M194.6 300.2h0M188.7 322.8h0M187.9 320.7h0M234.9 313.8h0M211.7 308.6h0M232.7 289.5h0M203.1 322.7h0M198.2 328.6h0M228.4 328.5h0M225.9 306.4h0M204.8 303.7h0M205.8 321.0h0M181.2 311.8h0M205.6 304.9h0M207.2 303.3h0M218.7 300.2h0M199.3 304.6h0M199.0 301.1h0M220.0 325.4h0M179.0 314.9h0M194.0 311.1h0" stroke="#fff" stroke-width="1.00" stroke-linecap="round" fill="none"/>
<path d="M230.3 315.1h0M225.4 281.9h0M194.6 295.0h0M214.2 288.1h0M209.2 306.8h0M235.4 325.7h0M188.8 320.9h0M217.0 293.4h0M235.7 321.5h0M182.8 319.1h0M216.7 300.4h0M203.6 297.4h0M231.3 299.6h0M206.1 286.9h0M223.6 330.3h0M221.2 317.7h0M226.1 301.9h0M229.8 315.7h0M191.4 313.4h0M225.2 300.4h0M192.1 328.1h0M223.6 310.4h0M215.2 319.3h0M234.5 324.2h0M199.6 316.4h0M223.4 314.5h0M194.4 303.6h0M204.2 329.3h0M210.6 327.3h0M222.1 308.4h0M233.9 315.7h0M222.0 292.2h0M215.7 291.5h0M226.3 320.1h0M203.8 299.5h0M226.7 300.5h0M200.2 298.5h0M184.3 311.5h0M200.6 287.4h0M211.1 335.5h0M222.9 286.0h0M199.6 291.3h0M212.6 290.9h0M211.3 305.0h0M231.5 328.2h0M212.6 291.8h0M210.3 307.8h0M199.4 321.0h0M221.8 299.5h0M199.3 319.6h0M208.7 311.3h0M209.8 280.6h0M219.7 307.1h0M203.6 287.7h0M218.5 307.5h0M179.7 314.2h0M210.0 283.7h0M219.6 293.7h0M228.2 301.5h0M235.0 313.1h0" stroke="#5a48ae" stroke-width="1.20" stroke-linecap="round" fill="none"/>
<path d="M199.7 238.3h0M204.2 224.0h0M205.7 234.1h0M199.0 214.6h0M197.6 224.2h0M198.4 230.2h0M197.6 209.6h0M197.9 224.7h0M201.7 237.0h0M203.5 239.5h0M210.6 211.9h0M209.9 228.9h0M196.3 212.5h0M213.8 220.1h0M195.6 225.9h0M207.7 211.9h0M193.3 231.3h0M191.8 222.8h0M197.9 228.5h0M194.1 214.2h0M216.9 232.0h0M205.7 231.5h0M196.1 222.2h0M205.3 210.8h0M199.0 228.6h0M211.2 211.9h0M211.2 211.7h0M214.8 226.8h0M208.6 234.8h0M209.8 233.6h0" stroke="#fff" stroke-width="1.00" stroke-linecap="round" fill="none"/>
<path d="M187.5 263.6h0M172.3 265.0h0M201.9 254.7h0M187.6 254.0h0M169.9 276.4h0M204.2 257.2h0M206.9 261.8h0M188.1 254.6h0M203.7 265.4h0M211.3 255.1h0M177.0 265.6h0M191.4 261.7h0M193.5 261.3h0M168.0 264.6h0M209.4 256.2h0M191.8 254.5h0M205.4 265.9h0M186.3 263.3h0M209.6 253.9h0M175.2 262.2h0M166.8 275.5h0M193.1 265.3h0M208.5 254.1h0M197.5 255.1h0M189.0 256.8h0M198.9 262.6h0M170.6 274.2h0M197.5 261.0h0M176.1 265.4h0M198.0 260.0h0" stroke="#fff" stroke-width="1.20" stroke-linecap="round" fill="none"/>
</g></g>
<g filter="url(#rag)">
<g transform="translate(240.27 229.44) scale(0.6706 0.7827)">
<polygon points="96,251.2 107.3,249 121.9,247.3 127.5,252.4 130.9,260.2 134.2,263.6 129.2,267 129.7,276 125.2,280.4 127.5,283.8 134.2,286.1 132,289.4 126.4,291.7 121.9,292.8 125.2,297.3 133.1,301.8 141,307.4 142.1,313 146,320.9 145.5,324.3 137.6,325.4 132,327.1 125.2,326.5 124.1,318.7 121.9,313 118.5,307.4 117.5,300.5 112.9,307.4 103.9,304 99.4,293.9 93.8,282.7 91,271.5 91.5,260.2" fill="#ccc3e5" stroke="#ccc3e5" stroke-width="1.4" stroke-linejoin="round"/>
<polygon points="212,275.4 217.2,277 221.5,281.3 226.5,279 230.7,279.2 233.6,285 232.9,293.8 234.4,305.5 238,312.8 243.9,317.9 240.9,321.5 233.6,327.4 223.4,333.9 213.2,336.9 203,336.1 192.8,329.6 182.5,321.5 176.7,315.7 182.5,308.4 189.8,304 192.8,298.2 197.1,289.4 201.5,282.1 208.8,276.3" fill="#9a8acf" stroke="#9a8acf" stroke-width="1.4" stroke-linejoin="round"/>
<polygon points="210.3,251.5 216.1,255.8 224.9,257.3 229.3,261.7 228.5,267.5 226.3,271.9 226.5,279 221.5,281.3 217.2,277 212,275.4 208.5,271.5 207,268.5 209,262 212,256" fill="#8b78c6" stroke="#8b78c6" stroke-width="1.4" stroke-linejoin="round"/>
<polygon points="205.9,205.1 211.7,211.7 214.7,220.4 217.6,227.7 219,231.4 216.8,235 213.9,231.4 211,233.6 210.3,240.9 205,242.5 198.6,240.9 194.2,235 191.3,227.7 190.6,219 192.8,213.1 198.6,208" fill="#c2b6df" stroke="#c2b6df" stroke-width="1.4" stroke-linejoin="round"/>
<polygon points="198.6,240.9 205,242.5 210.3,240.9 211,248.2 210.3,251.5 206,255 201,254.5 200.1,248.2" fill="#b8aadb" stroke="#b8aadb" stroke-width="1.4" stroke-linejoin="round"/>
<polygon points="164,260 170,260.8 177,260.5 183,259.5 183.4,256.5 180,254 176.7,252.2 191.3,252.9 200.1,248.2 201,254.5 206,255 210.3,251.5 212,256 209,262 207,268.5 203,269 194.2,266.1 184,263.1 176.7,266.1 173.8,271.9 170.9,277 166.5,276.3 165,270.4 166.5,264.6 160.6,260.2" fill="#ccc3e5" stroke="#ccc3e5" stroke-width="1.4" stroke-linejoin="round"/>
<polygon points="159.2,257.3 166.5,254.4 173,253.2 180,254 183.4,256.5 183,259.5 177,260.5 170,260.8 164,260 160.6,260.2" fill="#ccc3e5" stroke="#ccc3e5" stroke-width="1.4" stroke-linejoin="round"/>
<path d="M98.6 272.2h0M96.1 257.6h0M115.6 301.7h0M130.4 302.9h0M112.1 274.9h0M127.0 289.3h0M102.8 298.2h0M140.9 321.3h0M126.1 272.2h0M128.5 261.8h0M113.0 255.7h0M120.6 284.3h0M106.8 250.4h0M125.3 269.0h0M126.4 256.7h0M118.5 301.1h0M129.5 306.0h0M104.8 264.2h0M125.3 324.8h0M105.1 275.3h0M114.8 286.4h0M110.4 291.3h0M121.4 275.6h0M123.1 271.9h0M110.9 252.6h0M112.0 288.7h0M122.3 296.5h0M137.5 321.9h0M116.8 252.0h0M101.6 279.5h0M125.1 277.7h0M114.6 276.6h0M106.5 264.2h0M113.7 296.0h0M113.9 258.9h0M144.4 321.7h0M109.8 267.1h0M113.7 273.6h0M114.7 280.9h0M129.9 325.8h0M99.6 260.0h0M132.2 308.8h0M125.5 290.6h0M112.2 282.8h0M126.4 301.2h0M137.5 315.3h0M118.0 251.3h0M108.3 272.6h0M114.8 257.0h0M101.9 296.3h0M109.2 250.8h0M130.5 306.6h0M119.9 284.4h0M127.0 288.3h0M129.5 310.3h0M94.4 282.1h0M93.9 269.0h0M128.7 301.9h0M142.0 313.5h0M118.5 302.3h0" stroke="#fff" stroke-width="1.10" stroke-linecap="round" fill="none"/>
<path d="M116.7 271.1h0M118.2 280.3h0M96.5 265.6h0M109.2 265.8h0M95.0 283.6h0M111.3 257.2h0M106.6 288.7h0M125.4 282.0h0M135.1 305.9h0M106.3 265.3h0M139.7 320.8h0M122.2 307.2h0M100.0 279.0h0M108.1 295.3h0M112.8 269.6h0M129.3 307.3h0M126.1 263.2h0M125.3 279.3h0M110.8 262.6h0M137.9 324.4h0M127.9 258.6h0M122.3 257.9h0M99.6 288.2h0M100.4 272.0h0M113.4 298.2h0M105.0 275.0h0M128.9 301.0h0M113.7 261.2h0M102.8 251.8h0M98.6 288.3h0M109.7 257.1h0M120.4 252.1h0M114.3 256.4h0M129.3 306.4h0M123.8 283.8h0M124.5 299.1h0M130.0 319.3h0M116.1 297.2h0M114.3 280.6h0M116.0 288.8h0M113.2 260.8h0M117.1 272.2h0M106.0 291.1h0M116.4 290.7h0M135.3 305.4h0M140.8 308.6h0M143.6 317.4h0M102.4 279.3h0M121.8 274.1h0M132.3 322.1h0M93.4 273.7h0M109.3 276.8h0M132.7 321.0h0M105.4 278.2h0M95.1 276.2h0M95.3 282.4h0M95.4 259.5h0M128.3 310.3h0M113.0 270.5h0M94.6 270.6h0" stroke="#b0a2d8" stroke-width="1.00" stroke-linecap="round" fill="none"/>
<path d="M209.2 306.0h0M191.8 305.5h0M222.1 306.2h0M240.2 319.0h0M222.5 281.8h0M193.6 302.0h0M208.6 290.9h0M229.7 304.6h0M217.9 308.4h0M226.5 327.9h0M207.4 331.6h0M205.4 310.5h0M200.6 323.1h0M219.0 282.2h0M193.5 319.8h0M202.0 328.8h0M193.1 303.2h0M221.0 295.4h0M208.0 278.4h0M197.1 317.0h0M220.7 310.5h0M209.4 312.7h0M229.0 303.6h0M211.8 317.2h0M217.0 299.6h0M199.3 329.3h0M217.5 320.7h0M208.6 319.1h0M203.9 307.8h0M206.5 280.7h0M236.6 312.0h0M194.9 324.4h0M190.4 315.3h0M231.5 325.9h0M224.1 311.4h0M196.5 310.4h0M219.9 331.0h0M201.7 329.2h0M219.1 313.2h0M208.7 321.0h0M202.6 289.7h0M210.6 308.1h0M195.9 325.0h0M201.4 317.7h0M200.1 314.1h0M202.7 332.7h0M220.3 287.7h0M191.7 325.6h0M209.9 313.0h0M225.7 284.4h0M214.0 316.8h0M193.6 313.5h0M229.4 321.2h0M232.4 319.1h0M233.0 316.6h0M204.5 328.8h0M220.0 292.2h0M226.6 329.5h0M208.3 328.1h0M201.4 324.9h0" stroke="#fff" stroke-width="1.00" stroke-linecap="round" fill="none"/>
<path d="M231.2 307.5h0M202.1 294.4h0M217.8 332.1h0M225.3 331.5h0M201.2 332.8h0M218.6 314.3h0M186.4 322.4h0M206.2 284.7h0M209.2 282.0h0M189.7 323.2h0M229.7 326.3h0M218.4 313.4h0M188.5 324.0h0M231.4 311.8h0M212.8 279.3h0M194.6 304.0h0M233.8 315.1h0M215.5 291.1h0M185.3 309.8h0M212.0 319.6h0M191.5 303.7h0M188.8 317.1h0M221.0 292.9h0M225.6 302.8h0M232.3 283.2h0M219.3 310.2h0M210.9 287.7h0M213.1 336.1h0M226.2 313.8h0M196.8 312.8h0M233.5 318.6h0M225.3 314.6h0M212.6 287.4h0M214.5 285.9h0M189.0 308.5h0M216.2 290.7h0M188.6 311.9h0M229.7 284.8h0M197.9 328.6h0M233.7 320.2h0M227.4 287.7h0M209.4 334.7h0M193.4 327.9h0M227.8 316.3h0M219.6 324.7h0M211.2 287.8h0M237.1 311.0h0M191.3 323.5h0M219.4 317.4h0M203.1 293.7h0M201.7 316.4h0M218.9 298.2h0M213.7 282.1h0M199.7 300.6h0M212.1 304.9h0M216.6 299.7h0M192.4 329.1h0M236.6 319.2h0M225.3 289.4h0M206.1 306.7h0M196.3 305.0h0M199.7 292.4h0M196.2 304.6h0M190.9 309.1h0M211.3 326.5h0M183.3 311.8h0M194.5 314.5h0M215.6 292.1h0M238.3 320.6h0M193.7 299.4h0M211.0 322.0h0M213.8 333.4h0M212.2 276.0h0M235.3 314.7h0M207.1 304.7h0M233.2 300.5h0M202.6 334.4h0M184.1 316.1h0M220.6 329.4h0M217.7 333.8h0M227.0 297.0h0M229.0 280.6h0M195.2 312.7h0M197.6 308.3h0M182.1 314.4h0M209.2 317.1h0M203.6 280.5h0M200.9 288.9h0M185.3 318.6h0M195.1 323.3h0" stroke="#7d69c0" stroke-width="1.20" stroke-linecap="round" fill="none"/>
<path d="M239.4 317.6h0M218.8 300.4h0M215.5 298.9h0M225.9 284.2h0M181.6 318.3h0M227.0 324.3h0M227.1 290.2h0M228.5 321.2h0M212.4 333.4h0M205.4 293.8h0M223.5 307.6h0M206.0 294.8h0M210.3 285.3h0M205.2 293.9h0M226.2 291.8h0M200.7 293.8h0M205.5 287.3h0M199.3 322.2h0M203.1 326.0h0M190.3 313.4h0M215.6 295.0h0M208.4 320.3h0M196.9 311.8h0M180.3 317.0h0M221.0 327.5h0M229.1 279.4h0M199.8 290.8h0M219.1 289.0h0M218.7 319.9h0M199.6 303.2h0M214.7 309.6h0M222.3 305.3h0M207.2 304.9h0M209.7 279.1h0M226.4 295.0h0M211.4 329.3h0M196.5 291.1h0M189.8 315.8h0M207.7 316.1h0M189.2 304.4h0M189.2 326.8h0M197.0 299.6h0M223.4 319.9h0M214.3 308.2h0M213.9 303.2h0M198.4 316.8h0M191.4 309.5h0M212.5 316.0h0M201.4 300.4h0M206.9 321.1h0M189.7 320.2h0M224.2 303.0h0M193.8 314.4h0M230.2 296.5h0M207.8 327.5h0M209.8 304.9h0M209.0 301.0h0M213.2 283.6h0M224.1 326.7h0M201.1 323.3h0" stroke="#c4b8e0" stroke-width="1.20" stroke-linecap="round" fill="none"/>
<path d="M199.0 221.6h0M207.6 237.0h0M201.2 227.2h0M199.6 209.8h0M205.1 225.0h0M193.9 220.7h0M191.9 221.5h0M201.9 239.3h0M200.6 212.8h0M204.2 229.0h0M198.2 219.9h0M198.2 228.9h0M209.9 214.3h0M193.8 225.9h0M207.8 235.2h0M198.1 217.0h0M198.2 228.2h0M205.8 236.9h0M202.3 219.6h0M201.0 219.5h0M194.6 226.3h0M205.7 230.9h0M201.2 208.0h0M212.6 223.6h0M207.8 233.9h0M200.8 240.1h0M204.0 219.1h0M195.3 235.7h0M215.2 227.3h0M214.2 223.2h0" stroke="#fff" stroke-width="1.00" stroke-linecap="round" fill="none"/>
<path d="M179.0 260.4h0M169.3 262.5h0M196.2 256.2h0M181.8 253.4h0M198.9 252.5h0M165.8 263.2h0M190.4 260.3h0M165.9 268.3h0M195.1 260.4h0M169.0 266.8h0M168.8 265.7h0M203.8 264.5h0M202.8 264.5h0M182.8 253.5h0M177.3 265.4h0M179.1 260.9h0M199.0 252.8h0M194.9 256.7h0M193.1 259.8h0M190.3 260.8h0M185.2 256.0h0M183.7 263.0h0M175.2 268.9h0M194.9 257.1h0M210.5 254.7h0M205.8 265.8h0M198.4 253.4h0M197.7 252.8h0M164.9 261.4h0M208.9 257.1h0" stroke="#fff" stroke-width="1.20" stroke-linecap="round" fill="none"/>
</g></g>
<line x1="105.4" y1="378.2" x2="105.4" y2="501.7" stroke="#222" stroke-width="0.9"/>
<line x1="105.4" y1="501.7" x2="210.3" y2="501.7" stroke="#222" stroke-width="0.9"/>
<line x1="102.9" y1="390.4" x2="105.4" y2="390.4" stroke="#222" stroke-width="0.8"/>
<text x="100.9" y="393.4" font-size="8" fill="#222" text-anchor="end" font-weight="normal" font-family="'DejaVu Sans', 'Liberation Sans', sans-serif">10</text>
<line x1="102.9" y1="421.3" x2="105.4" y2="421.3" stroke="#222" stroke-width="0.8"/>
<text x="100.9" y="424.3" font-size="8" fill="#222" text-anchor="end" font-weight="normal" font-family="'DejaVu Sans', 'Liberation Sans', sans-serif">5</text>
<line x1="102.9" y1="452.2" x2="105.4" y2="452.2" stroke="#222" stroke-width="0.8"/>
<text x="100.9" y="455.2" font-size="8" fill="#222" text-anchor="end" font-weight="normal" font-family="'DejaVu Sans', 'Liberation Sans', sans-serif">0</text>
<line x1="102.9" y1="483.1" x2="105.4" y2="483.1" stroke="#222" stroke-width="0.8"/>
<text x="100.9" y="486.1" font-size="8" fill="#222" text-anchor="end" font-weight="normal" font-family="'DejaVu Sans', 'Liberation Sans', sans-serif">-5</text>
<line x1="118.9" y1="501.7" x2="118.9" y2="504.2" stroke="#222" stroke-width="0.8"/>
<text x="118.9" y="512.3" font-size="8" fill="#222" text-anchor="middle" font-weight="normal" font-family="'DejaVu Sans', 'Liberation Sans', sans-serif">-10</text>
<line x1="141.6" y1="501.7" x2="141.6" y2="504.2" stroke="#222" stroke-width="0.8"/>
<text x="141.6" y="512.3" font-size="8" fill="#222" text-anchor="middle" font-weight="normal" font-family="'DejaVu Sans', 'Liberation Sans', sans-serif">-5</text>
<line x1="164.3" y1="501.7" x2="164.3" y2="504.2" stroke="#222" stroke-width="0.8"/>
<text x="164.3" y="512.3" font-size="8" fill="#222" text-anchor="middle" font-weight="normal" font-family="'DejaVu Sans', 'Liberation Sans', sans-serif">0</text>
<line x1="187" y1="501.7" x2="187" y2="504.2" stroke="#222" stroke-width="0.8"/>
<text x="187" y="512.3" font-size="8" fill="#222" text-anchor="middle" font-weight="normal" font-family="'DejaVu Sans', 'Liberation Sans', sans-serif">5</text>
<line x1="209.9" y1="501.7" x2="209.9" y2="504.2" stroke="#222" stroke-width="0.8"/>
<text x="209.9" y="512.3" font-size="8" fill="#222" text-anchor="middle" font-weight="normal" font-family="'DejaVu Sans', 'Liberation Sans', sans-serif">10</text>
<text x="157.8" y="523.6" font-size="9.5" fill="#222" text-anchor="middle" font-weight="normal" font-family="'DejaVu Sans', 'Liberation Sans', sans-serif">UMAP 1</text>
<text x="87.6" y="438.6" font-size="9.5" fill="#222" text-anchor="middle" font-weight="normal" font-family="'DejaVu Sans', 'Liberation Sans', sans-serif" transform="rotate(-90 87.6 438.6)">UMAP 2</text>
<line x1="293.5" y1="378.2" x2="293.5" y2="501.7" stroke="#222" stroke-width="0.9"/>
<line x1="293.5" y1="501.7" x2="411" y2="501.7" stroke="#222" stroke-width="0.9"/>
<line x1="291" y1="390.4" x2="293.5" y2="390.4" stroke="#222" stroke-width="0.8"/>
<text x="289" y="393.4" font-size="8" fill="#222" text-anchor="end" font-weight="normal" font-family="'DejaVu Sans', 'Liberation Sans', sans-serif">10</text>
<line x1="291" y1="421.3" x2="293.5" y2="421.3" stroke="#222" stroke-width="0.8"/>
<text x="289" y="424.3" font-size="8" fill="#222" text-anchor="end" font-weight="normal" font-family="'DejaVu Sans', 'Liberation Sans', sans-serif">5</text>
<line x1="291" y1="452.2" x2="293.5" y2="452.2" stroke="#222" stroke-width="0.8"/>
<text x="289" y="455.2" font-size="8" fill="#222" text-anchor="end" font-weight="normal" font-family="'DejaVu Sans', 'Liberation Sans', sans-serif">0</text>
<line x1="291" y1="483.1" x2="293.5" y2="483.1" stroke="#222" stroke-width="0.8"/>
<text x="289" y="486.1" font-size="8" fill="#222" text-anchor="end" font-weight="normal" font-family="'DejaVu Sans', 'Liberation Sans', sans-serif">-5</text>
<line x1="308.2" y1="501.7" x2="308.2" y2="504.2" stroke="#222" stroke-width="0.8"/>
<text x="308.2" y="512.3" font-size="8" fill="#222" text-anchor="middle" font-weight="normal" font-family="'DejaVu Sans', 'Liberation Sans', sans-serif">-10</text>
<line x1="333.8" y1="501.7" x2="333.8" y2="504.2" stroke="#222" stroke-width="0.8"/>
<text x="333.8" y="512.3" font-size="8" fill="#222" text-anchor="middle" font-weight="normal" font-family="'DejaVu Sans', 'Liberation Sans', sans-serif">-5</text>
<line x1="358.9" y1="501.7" x2="358.9" y2="504.2" stroke="#222" stroke-width="0.8"/>
<text x="358.9" y="512.3" font-size="8" fill="#222" text-anchor="middle" font-weight="normal" font-family="'DejaVu Sans', 'Liberation Sans', sans-serif">0</text>
<line x1="383.8" y1="501.7" x2="383.8" y2="504.2" stroke="#222" stroke-width="0.8"/>
<text x="383.8" y="512.3" font-size="8" fill="#222" text-anchor="middle" font-weight="normal" font-family="'DejaVu Sans', 'Liberation Sans', sans-serif">5</text>
<line x1="409" y1="501.7" x2="409" y2="504.2" stroke="#222" stroke-width="0.8"/>
<text x="409" y="512.3" font-size="8" fill="#222" text-anchor="middle" font-weight="normal" font-family="'DejaVu Sans', 'Liberation Sans', sans-serif">10</text>
<text x="351.3" y="523.6" font-size="9.5" fill="#222" text-anchor="middle" font-weight="normal" font-family="'DejaVu Sans', 'Liberation Sans', sans-serif">UMAP 1</text>
<text x="276.5" y="440" font-size="9.5" fill="#222" text-anchor="middle" font-weight="normal" font-family="'DejaVu Sans', 'Liberation Sans', sans-serif" transform="rotate(-90 276.5 440)">UMAP 2</text>
<text x="157.7" y="370.8" font-size="10.5" fill="#111" text-anchor="middle" font-weight="bold" font-family="'DejaVu Sans', 'Liberation Sans', sans-serif">SFTPC</text>
<text x="351.5" y="370.8" font-size="10.5" fill="#111" text-anchor="middle" font-weight="bold" font-family="'DejaVu Sans', 'Liberation Sans', sans-serif">HHIP</text>
<text x="551.4" y="370.6" font-size="10.5" fill="#111" text-anchor="middle" font-weight="bold" font-family="'DejaVu Sans', 'Liberation Sans', sans-serif">HHIP</text>
<text x="168.2" y="409" font-size="7.9" fill="#222" text-anchor="start" font-weight="normal" font-family="'DejaVu Sans', 'Liberation Sans', sans-serif">AT1</text>
<text x="143" y="425.1" font-size="7.9" fill="#222" text-anchor="start" font-weight="normal" font-family="'DejaVu Sans', 'Liberation Sans', sans-serif">Goblet</text>
<text x="167.7" y="439.3" font-size="7.9" fill="#222" text-anchor="start" font-weight="normal" font-family="'DejaVu Sans', 'Liberation Sans', sans-serif">Club</text>
<text x="116.9" y="441.5" font-size="7.9" fill="#222" text-anchor="start" font-weight="normal" font-family="'DejaVu Sans', 'Liberation Sans', sans-serif">Ciliated</text>
<text x="142" y="452.7" font-size="7.9" fill="#222" text-anchor="start" font-weight="normal" font-family="'DejaVu Sans', 'Liberation Sans', sans-serif">Basal</text>
<text x="363.1" y="409.3" font-size="7.9" fill="#222" text-anchor="start" font-weight="normal" font-family="'DejaVu Sans', 'Liberation Sans', sans-serif">AT1</text>
<text x="336.1" y="425.8" font-size="7.9" fill="#222" text-anchor="start" font-weight="normal" font-family="'DejaVu Sans', 'Liberation Sans', sans-serif">Goblet</text>
<text x="363.6" y="439.4" font-size="7.9" fill="#222" text-anchor="start" font-weight="normal" font-family="'DejaVu Sans', 'Liberation Sans', sans-serif">Club</text>
<text x="296" y="453.7" font-size="7.9" fill="#222" text-anchor="start" font-weight="normal" font-family="'DejaVu Sans', 'Liberation Sans', sans-serif">Ciliated</text>
<text x="338" y="450.7" font-size="7.9" fill="#222" text-anchor="start" font-weight="normal" font-family="'DejaVu Sans', 'Liberation Sans', sans-serif">Basal</text>
<text x="167.7" y="449.9" font-size="7.9" fill="#222" text-anchor="start" font-weight="normal" font-family="'DejaVu Sans', 'Liberation Sans', sans-serif">SPC<tspan font-size="4.5" dy="-2.6">low</tspan><tspan dy="2.6"> AT2</tspan></text>
<text x="165.9" y="471.6" font-size="7.9" fill="#222" text-anchor="start" font-weight="normal" font-family="'DejaVu Sans', 'Liberation Sans', sans-serif">SPC<tspan font-size="4.5" dy="-2.6">high</tspan><tspan dy="2.6"> AT2</tspan></text>
<text x="366.5" y="450.2" font-size="7.9" fill="#222" text-anchor="start" font-weight="normal" font-family="'DejaVu Sans', 'Liberation Sans', sans-serif">SPC<tspan font-size="4.5" dy="-2.6">low</tspan><tspan dy="2.6"> AT2</tspan></text>
<text x="365" y="471.1" font-size="7.9" fill="#222" text-anchor="start" font-weight="normal" font-family="'DejaVu Sans', 'Liberation Sans', sans-serif">SPC<tspan font-size="4.5" dy="-2.6">high</tspan><tspan dy="2.6"> AT2</tspan></text>
<line x1="191.2" y1="436.1" x2="188.3" y2="442.5" stroke="#222" stroke-width="0.8"/>
<line x1="383.5" y1="436.1" x2="380.6" y2="442.5" stroke="#222" stroke-width="0.8"/>
<defs><linearGradient id="cb1" x1="0" y1="0" x2="0" y2="1"><stop offset="0" stop-color="#4a5cb0"/><stop offset="0.3" stop-color="#6a56b6"/><stop offset="0.55" stop-color="#8a6fc0"/><stop offset="0.8" stop-color="#b5a5d6"/><stop offset="1" stop-color="#d6d3de"/></linearGradient></defs>
<rect x="220.1" y="414.1" width="10.1" height="51.7" fill="url(#cb1)" stroke="none" stroke-width="0.6"/>
<rect x="419" y="414.1" width="10.2" height="51.7" fill="url(#cb1)" stroke="none" stroke-width="0.6"/>
<text x="235.5" y="418" font-size="7.6" fill="#222" text-anchor="start" font-weight="normal" font-family="'DejaVu Sans', 'Liberation Sans', sans-serif">10.0</text>
<line x1="220.1" y1="415" x2="222" y2="415" stroke="#fff" stroke-width="0.6"/>
<line x1="228.2" y1="415" x2="230.2" y2="415" stroke="#fff" stroke-width="0.6"/>
<text x="235.5" y="429.1" font-size="7.6" fill="#222" text-anchor="start" font-weight="normal" font-family="'DejaVu Sans', 'Liberation Sans', sans-serif">7.5</text>
<line x1="220.1" y1="426.1" x2="222" y2="426.1" stroke="#fff" stroke-width="0.6"/>
<line x1="228.2" y1="426.1" x2="230.2" y2="426.1" stroke="#fff" stroke-width="0.6"/>
<text x="235.5" y="440.3" font-size="7.6" fill="#222" text-anchor="start" font-weight="normal" font-family="'DejaVu Sans', 'Liberation Sans', sans-serif">5.0</text>
<line x1="220.1" y1="437.3" x2="222" y2="437.3" stroke="#fff" stroke-width="0.6"/>
<line x1="228.2" y1="437.3" x2="230.2" y2="437.3" stroke="#fff" stroke-width="0.6"/>
<text x="235.5" y="451.8" font-size="7.6" fill="#222" text-anchor="start" font-weight="normal" font-family="'DejaVu Sans', 'Liberation Sans', sans-serif">2.5</text>
<line x1="220.1" y1="448.8" x2="222" y2="448.8" stroke="#fff" stroke-width="0.6"/>
<line x1="228.2" y1="448.8" x2="230.2" y2="448.8" stroke="#fff" stroke-width="0.6"/>
<text x="235.5" y="463" font-size="7.6" fill="#222" text-anchor="start" font-weight="normal" font-family="'DejaVu Sans', 'Liberation Sans', sans-serif">0.0</text>
<line x1="220.1" y1="460" x2="222" y2="460" stroke="#fff" stroke-width="0.6"/>
<line x1="228.2" y1="460" x2="230.2" y2="460" stroke="#fff" stroke-width="0.6"/>
<text x="434.7" y="423.2" font-size="7.6" fill="#222" text-anchor="start" font-weight="normal" font-family="'DejaVu Sans', 'Liberation Sans', sans-serif">4</text>
<text x="434.7" y="434.2" font-size="7.6" fill="#222" text-anchor="start" font-weight="normal" font-family="'DejaVu Sans', 'Liberation Sans', sans-serif">3</text>
<text x="434.7" y="443.8" font-size="7.6" fill="#222" text-anchor="start" font-weight="normal" font-family="'DejaVu Sans', 'Liberation Sans', sans-serif">2</text>
<text x="434.7" y="453.6" font-size="7.6" fill="#222" text-anchor="start" font-weight="normal" font-family="'DejaVu Sans', 'Liberation Sans', sans-serif">1</text>
<text x="434.7" y="463.4" font-size="7.6" fill="#222" text-anchor="start" font-weight="normal" font-family="'DejaVu Sans', 'Liberation Sans', sans-serif">0</text>
<line x1="476" y1="376.8" x2="476" y2="464.3" stroke="#222" stroke-width="0.9"/>
<line x1="476" y1="464.3" x2="626.6" y2="464.3" stroke="#222" stroke-width="0.9"/>
<line x1="473.5" y1="452.2" x2="476" y2="452.2" stroke="#222" stroke-width="0.8"/>
<text x="472" y="455" font-size="8" fill="#222" text-anchor="end" font-weight="normal" font-family="'DejaVu Sans', 'Liberation Sans', sans-serif">0</text>
<line x1="473.5" y1="437.38" x2="476" y2="437.38" stroke="#222" stroke-width="0.8"/>
<text x="472" y="440.18" font-size="8" fill="#222" text-anchor="end" font-weight="normal" font-family="'DejaVu Sans', 'Liberation Sans', sans-serif">1</text>
<line x1="473.5" y1="422.56" x2="476" y2="422.56" stroke="#222" stroke-width="0.8"/>
<text x="472" y="425.36" font-size="8" fill="#222" text-anchor="end" font-weight="normal" font-family="'DejaVu Sans', 'Liberation Sans', sans-serif">2</text>
<line x1="473.5" y1="407.74" x2="476" y2="407.74" stroke="#222" stroke-width="0.8"/>
<text x="472" y="410.54" font-size="8" fill="#222" text-anchor="end" font-weight="normal" font-family="'DejaVu Sans', 'Liberation Sans', sans-serif">3</text>
<line x1="473.5" y1="392.92" x2="476" y2="392.92" stroke="#222" stroke-width="0.8"/>
<text x="472" y="395.72" font-size="8" fill="#222" text-anchor="end" font-weight="normal" font-family="'DejaVu Sans', 'Liberation Sans', sans-serif">4</text>
<line x1="473.5" y1="378.1" x2="476" y2="378.1" stroke="#222" stroke-width="0.8"/>
<text x="472" y="380.9" font-size="8" fill="#222" text-anchor="end" font-weight="normal" font-family="'DejaVu Sans', 'Liberation Sans', sans-serif">5</text>
<text x="463.2" y="421.5" font-size="9" fill="#222" text-anchor="middle" font-weight="normal" font-family="'DejaVu Sans', 'Liberation Sans', sans-serif" transform="rotate(-90 463.2 421.5)">Expression Level</text>
<text x="550.9" y="523.3" font-size="9.6" fill="#222" text-anchor="middle" font-weight="normal" font-family="'DejaVu Sans', 'Liberation Sans', sans-serif">Identity</text>
<line x1="488.6" y1="464.3" x2="488.6" y2="466.8" stroke="#222" stroke-width="0.8"/>
<text x="493.1" y="472.5" font-size="8.3" fill="#222" text-anchor="end" font-weight="normal" font-family="'DejaVu Sans', 'Liberation Sans', sans-serif" transform="rotate(-45 493.1 472.5)">AT1</text>
<line x1="509.7" y1="464.3" x2="509.7" y2="466.8" stroke="#222" stroke-width="0.8"/>
<text x="514.2" y="472.5" font-size="8.3" fill="#222" text-anchor="end" font-weight="normal" font-family="'DejaVu Sans', 'Liberation Sans', sans-serif" transform="rotate(-45 514.2 472.5)">Ciliated</text>
<line x1="530.7" y1="464.3" x2="530.7" y2="466.8" stroke="#222" stroke-width="0.8"/>
<text x="535.2" y="472.5" font-size="8.3" fill="#222" text-anchor="end" font-weight="normal" font-family="'DejaVu Sans', 'Liberation Sans', sans-serif" transform="rotate(-45 535.2 472.5)">Basal</text>
<line x1="551.7" y1="464.3" x2="551.7" y2="466.8" stroke="#222" stroke-width="0.8"/>
<text x="556.2" y="472.5" font-size="8.3" fill="#222" text-anchor="end" font-weight="normal" font-family="'DejaVu Sans', 'Liberation Sans', sans-serif" transform="rotate(-45 556.2 472.5)">SPC<tspan font-size="5" dy="-2.5">high</tspan><tspan dy="2.5"> AT2</tspan></text>
<line x1="572.4" y1="464.3" x2="572.4" y2="466.8" stroke="#222" stroke-width="0.8"/>
<text x="576.9" y="472.5" font-size="8.3" fill="#222" text-anchor="end" font-weight="normal" font-family="'DejaVu Sans', 'Liberation Sans', sans-serif" transform="rotate(-45 576.9 472.5)">Club</text>
<line x1="593.2" y1="464.3" x2="593.2" y2="466.8" stroke="#222" stroke-width="0.8"/>
<text x="597.7" y="472.5" font-size="8.3" fill="#222" text-anchor="end" font-weight="normal" font-family="'DejaVu Sans', 'Liberation Sans', sans-serif" transform="rotate(-45 597.7 472.5)">Goblet</text>
<line x1="614" y1="464.3" x2="614" y2="466.8" stroke="#222" stroke-width="0.8"/>
<text x="618.5" y="472.5" font-size="8.3" fill="#222" text-anchor="end" font-weight="normal" font-family="'DejaVu Sans', 'Liberation Sans', sans-serif" transform="rotate(-45 618.5 472.5)">SPC<tspan font-size="5" dy="-2.5">low</tspan><tspan dy="2.5"> AT2</tspan></text>
<path d="M551.5,394.4 L551.1,400.33 L550.5,404.78 L549.5,407.74 L547.9,411.44 L546.5,415.15 L544.9,418.86 L543.4,422.56 L542.4,426.26 L542,429.97 L543.1,433.68 L544.7,437.38 L544.7,441.08 L543.5,444.79 L543.2,448.5 L545.2,452.2 L547.7,455.16 L549.7,458.13 L551.4,460.35 L552,460.35 L553.7,458.13 L555.7,455.16 L558.2,452.2 L560.2,448.5 L559.9,444.79 L558.7,441.08 L558.7,437.38 L560.3,433.68 L561.4,429.97 L561,426.26 L560,422.56 L558.5,418.86 L556.9,415.15 L555.5,411.44 L553.9,407.74 L552.9,404.78 L552.3,400.33 L551.9,394.4Z" fill="#6cc84b" stroke="#222" stroke-width="0.6" stroke-linejoin="round"/>
<path d="M613.8,381.81 L613.5,388.47 L612.8,392.92 L611.4,396.62 L610.2,400.33 L609,404.03 L608,407.74 L607.6,411.44 L608,415.15 L608.6,418.86 L608.7,422.56 L608.4,426.26 L608,429.97 L607.2,433.68 L606.2,437.38 L605,441.08 L604,444.79 L604.4,447.75 L606.5,450.72 L609.5,453.68 L611.8,456.65 L613.7,459.61 L614.3,459.61 L616.2,456.65 L618.5,453.68 L621.5,450.72 L623.6,447.75 L624,444.79 L623,441.08 L621.8,437.38 L620.8,433.68 L620,429.97 L619.6,426.26 L619.3,422.56 L619.4,418.86 L620,415.15 L620.4,411.44 L620,407.74 L619,404.03 L617.8,400.33 L616.6,396.62 L615.2,392.92 L614.5,388.47 L614.2,381.81Z" fill="#df3434" stroke="#222" stroke-width="0.6" stroke-linejoin="round"/>
<line x1="488.6" y1="421.08" x2="488.6" y2="454.42" stroke="#222" stroke-width="0.6"/>
<path d="M480.1,451.9 L487.1,451.46 L490.1,451.46 L497.1,451.9 L490.1,452.35 L487.1,452.35Z" fill="#444" stroke="#222" stroke-width="0.5" stroke-linejoin="round"/>
<circle cx="488.6" cy="451.76" r="1.0" fill="#e4834a"/>
<line x1="509.7" y1="409.22" x2="509.7" y2="452.94" stroke="#222" stroke-width="0.6"/>
<path d="M501.2,451.9 L508.2,451.46 L511.2,451.46 L518.2,451.9 L511.2,452.35 L508.2,452.35Z" fill="#444" stroke="#222" stroke-width="0.5" stroke-linejoin="round"/>
<line x1="530.7" y1="438.86" x2="530.7" y2="453.98" stroke="#222" stroke-width="0.6"/>
<path d="M522.7,451.9 L529.2,451.46 L532.2,451.46 L538.7,451.9 L532.2,452.35 L529.2,452.35Z" fill="#444" stroke="#222" stroke-width="0.5" stroke-linejoin="round"/>
<circle cx="530.7" cy="451.76" r="1.0" fill="#5ec9b6"/>
<line x1="572.4" y1="427.75" x2="572.4" y2="457.39" stroke="#222" stroke-width="0.6"/>
<path d="M564.4,451.9 L570.9,451.46 L573.9,451.46 L580.4,451.9 L573.9,452.35 L570.9,452.35Z" fill="#444" stroke="#222" stroke-width="0.5" stroke-linejoin="round"/>
<circle cx="572.4" cy="451.76" r="1.0" fill="#5ec9b6"/>
<line x1="593.2" y1="425.52" x2="593.2" y2="452.5" stroke="#222" stroke-width="0.6"/>
<path d="M585.2,451.9 L591.7,451.46 L594.7,451.46 L601.2,451.9 L594.7,452.35 L591.7,452.35Z" fill="#444" stroke="#222" stroke-width="0.5" stroke-linejoin="round"/>
<line x1="142.4" y1="542.3" x2="142.4" y2="669.4" stroke="#333" stroke-width="0.9"/>
<line x1="140.2" y1="548" x2="142.4" y2="548" stroke="#333" stroke-width="0.7"/>
<text x="139.6" y="550.6" font-size="7.0" fill="#4d4d4d" text-anchor="end" font-weight="normal" font-family="'DejaVu Sans', 'Liberation Sans', sans-serif">1.00</text>
<line x1="140.2" y1="577" x2="142.4" y2="577" stroke="#333" stroke-width="0.7"/>
<text x="139.6" y="579.6" font-size="7.0" fill="#4d4d4d" text-anchor="end" font-weight="normal" font-family="'DejaVu Sans', 'Liberation Sans', sans-serif">0.75</text>
<line x1="140.2" y1="605.6" x2="142.4" y2="605.6" stroke="#333" stroke-width="0.7"/>
<text x="139.6" y="608.2" font-size="7.0" fill="#4d4d4d" text-anchor="end" font-weight="normal" font-family="'DejaVu Sans', 'Liberation Sans', sans-serif">0.50</text>
<line x1="140.2" y1="634.6" x2="142.4" y2="634.6" stroke="#333" stroke-width="0.7"/>
<text x="139.6" y="637.2" font-size="7.0" fill="#4d4d4d" text-anchor="end" font-weight="normal" font-family="'DejaVu Sans', 'Liberation Sans', sans-serif">0.25</text>
<line x1="140.2" y1="663.7" x2="142.4" y2="663.7" stroke="#333" stroke-width="0.7"/>
<text x="139.6" y="666.3" font-size="7.0" fill="#4d4d4d" text-anchor="end" font-weight="normal" font-family="'DejaVu Sans', 'Liberation Sans', sans-serif">0.00</text>
<line x1="142.4" y1="669.4" x2="350.2" y2="669.4" stroke="#333" stroke-width="0.9"/>
<line x1="198.8" y1="669.4" x2="198.8" y2="671.6" stroke="#333" stroke-width="0.7"/>
<text x="198.8" y="678.2" font-size="7.2" fill="#4d4d4d" text-anchor="middle" font-weight="normal" font-family="'DejaVu Sans', 'Liberation Sans', sans-serif">Young</text>
<line x1="293.4" y1="669.4" x2="293.4" y2="671.6" stroke="#333" stroke-width="0.7"/>
<text x="293.4" y="678.2" font-size="7.2" fill="#4d4d4d" text-anchor="middle" font-weight="normal" font-family="'DejaVu Sans', 'Liberation Sans', sans-serif">Aged</text>
<text x="245.9" y="687.2" font-size="8.6" fill="#222" text-anchor="middle" font-weight="normal" font-family="'DejaVu Sans', 'Liberation Sans', sans-serif">Age</text>
<text x="122.5" y="605.4" font-size="8.9" fill="#222" text-anchor="middle" font-weight="normal" font-family="'DejaVu Sans', 'Liberation Sans', sans-serif" transform="rotate(-90 122.5 605.4)">% SPC<tspan font-size="5.5" dy="-3">low</tspan><tspan dy="3"> AT2</tspan></text>
<text x="185" y="547.5" font-size="6.4" fill="#222" text-anchor="start" font-weight="normal" font-family="'DejaVu Sans', 'Liberation Sans', sans-serif">Wilcoxon, p = 0.0062</text>
<line x1="198.8" y1="632" x2="198.8" y2="646.5" stroke="#444" stroke-width="0.6"/>
<line x1="198.8" y1="657.7" x2="198.8" y2="662" stroke="#444" stroke-width="0.6"/>
<rect x="163.6" y="646.5" width="71.1" height="11.2" fill="#fff" stroke="#444" stroke-width="0.6"/>
<line x1="163.6" y1="653.3" x2="234.7" y2="653.3" stroke="#333" stroke-width="1.1"/>
<line x1="293.4" y1="550.1" x2="293.4" y2="576.4" stroke="#444" stroke-width="0.6"/>
<line x1="293.4" y1="648.5" x2="293.4" y2="657.7" stroke="#444" stroke-width="0.6"/>
<rect x="258.2" y="576.4" width="71.2" height="72.1" fill="#fff" stroke="#444" stroke-width="0.6"/>
<line x1="258.2" y1="608.4" x2="329.4" y2="608.4" stroke="#333" stroke-width="1.1"/>
<circle cx="198.8" cy="605.8" r="2.0" fill="#000"/>
<circle cx="198.8" cy="615" r="2.0" fill="#000"/>
<circle cx="196.6" cy="632.3" r="2.0" fill="#000"/>
<circle cx="201" cy="632.3" r="2.0" fill="#000"/>
<circle cx="198.8" cy="639.5" r="2.0" fill="#000"/>
<circle cx="195.3" cy="650" r="2.0" fill="#000"/>
<circle cx="198.8" cy="650" r="2.0" fill="#000"/>
<circle cx="202.5" cy="650" r="2.0" fill="#000"/>
<circle cx="195.3" cy="653.3" r="2.0" fill="#000"/>
<circle cx="198.8" cy="653.3" r="2.0" fill="#000"/>
<circle cx="202.5" cy="653.3" r="2.0" fill="#000"/>
<circle cx="189.4" cy="656.6" r="2.0" fill="#000"/>
<circle cx="192.7" cy="656.6" r="2.0" fill="#000"/>
<circle cx="196" cy="656.6" r="2.0" fill="#000"/>
<circle cx="199.3" cy="656.6" r="2.0" fill="#000"/>
<circle cx="202.5" cy="656.6" r="2.0" fill="#000"/>
<circle cx="205.8" cy="656.6" r="2.0" fill="#000"/>
<circle cx="208.7" cy="656.6" r="2.0" fill="#000"/>
<circle cx="195.3" cy="661.6" r="2.0" fill="#000"/>
<circle cx="198.8" cy="661.6" r="2.0" fill="#000"/>
<circle cx="202.5" cy="661.6" r="2.0" fill="#000"/>
<circle cx="293.4" cy="550.1" r="2.0" fill="#000"/>
<circle cx="293.4" cy="571" r="2.0" fill="#000"/>
<circle cx="293.4" cy="576.6" r="2.0" fill="#000"/>
<circle cx="293.4" cy="606" r="2.0" fill="#000"/>
<circle cx="291.3" cy="610" r="2.0" fill="#000"/>
<circle cx="295.5" cy="610" r="2.0" fill="#000"/>
<circle cx="293.4" cy="648.2" r="2.0" fill="#000"/>
<circle cx="293.4" cy="653.3" r="2.0" fill="#000"/>
<circle cx="293.4" cy="657.7" r="2.0" fill="#000"/>
<line x1="379.4" y1="542.7" x2="379.4" y2="669.4" stroke="#333" stroke-width="0.9"/>
<line x1="377.2" y1="568.8" x2="379.4" y2="568.8" stroke="#333" stroke-width="0.7"/>
<text x="376.9" y="571.4" font-size="7.0" fill="#4d4d4d" text-anchor="end" font-weight="normal" font-family="'DejaVu Sans', 'Liberation Sans', sans-serif">0.9</text>
<line x1="377.2" y1="600.5" x2="379.4" y2="600.5" stroke="#333" stroke-width="0.7"/>
<text x="376.9" y="603.1" font-size="7.0" fill="#4d4d4d" text-anchor="end" font-weight="normal" font-family="'DejaVu Sans', 'Liberation Sans', sans-serif">0.6</text>
<line x1="377.2" y1="632.2" x2="379.4" y2="632.2" stroke="#333" stroke-width="0.7"/>
<text x="376.9" y="634.8" font-size="7.0" fill="#4d4d4d" text-anchor="end" font-weight="normal" font-family="'DejaVu Sans', 'Liberation Sans', sans-serif">0.3</text>
<line x1="377.2" y1="663.9" x2="379.4" y2="663.9" stroke="#333" stroke-width="0.7"/>
<text x="376.9" y="666.5" font-size="7.0" fill="#4d4d4d" text-anchor="end" font-weight="normal" font-family="'DejaVu Sans', 'Liberation Sans', sans-serif">0.0</text>
<line x1="379.4" y1="669.4" x2="592" y2="669.4" stroke="#333" stroke-width="0.9"/>
<line x1="437.5" y1="669.4" x2="437.5" y2="671.6" stroke="#333" stroke-width="0.7"/>
<text x="437.5" y="678" font-size="7.2" fill="#4d4d4d" text-anchor="middle" font-weight="normal" font-family="'DejaVu Sans', 'Liberation Sans', sans-serif">SPC<tspan font-size="4.4" dy="-2.2">high</tspan><tspan dy="2.2"> AT2</tspan></text>
<line x1="533.8" y1="669.4" x2="533.8" y2="671.6" stroke="#333" stroke-width="0.7"/>
<text x="533.8" y="678" font-size="7.2" fill="#4d4d4d" text-anchor="middle" font-weight="normal" font-family="'DejaVu Sans', 'Liberation Sans', sans-serif">SPC<tspan font-size="4.4" dy="-2.2">low</tspan><tspan dy="2.2"> AT2</tspan></text>
<text x="485.2" y="687" font-size="8.8" fill="#222" text-anchor="middle" font-weight="normal" font-family="'DejaVu Sans', 'Liberation Sans', sans-serif">Cell Type</text>
<text x="362" y="605.8" font-size="8.8" fill="#222" text-anchor="middle" font-weight="normal" font-family="'DejaVu Sans', 'Liberation Sans', sans-serif" transform="rotate(-90 362 605.8)">% Expressing HHIP</text>
<text x="424.4" y="547.4" font-size="6.4" fill="#222" text-anchor="start" font-weight="normal" font-family="'DejaVu Sans', 'Liberation Sans', sans-serif">Wilcoxon, p = 0.029</text>
<line x1="437.5" y1="558.2" x2="437.5" y2="585.2" stroke="#444" stroke-width="0.6"/>
<line x1="437.5" y1="610.3" x2="437.5" y2="630.8" stroke="#444" stroke-width="0.6"/>
<rect x="401.3" y="585.2" width="72.6" height="25.1" fill="#fff" stroke="#444" stroke-width="0.6"/>
<line x1="401.3" y1="597" x2="473.9" y2="597" stroke="#333" stroke-width="1.1"/>
<line x1="533.8" y1="558" x2="533.8" y2="595.4" stroke="#444" stroke-width="0.6"/>
<line x1="533.8" y1="637.5" x2="533.8" y2="663.8" stroke="#444" stroke-width="0.6"/>
<rect x="497.4" y="595.4" width="73.1" height="42.1" fill="#fff" stroke="#444" stroke-width="0.6"/>
<line x1="497.4" y1="615.5" x2="570.5" y2="615.5" stroke="#333" stroke-width="1.1"/>
<circle cx="437.5" cy="558.2" r="2.0" fill="#000"/>
<circle cx="437.5" cy="567" r="2.0" fill="#000"/>
<circle cx="434.2" cy="577.6" r="2.0" fill="#000"/>
<circle cx="437.5" cy="577.6" r="2.0" fill="#000"/>
<circle cx="440.8" cy="577.6" r="2.0" fill="#000"/>
<circle cx="434.2" cy="582.1" r="2.0" fill="#000"/>
<circle cx="437.5" cy="582.1" r="2.0" fill="#000"/>
<circle cx="440.8" cy="582.1" r="2.0" fill="#000"/>
<circle cx="434.2" cy="586.2" r="2.0" fill="#000"/>
<circle cx="437.5" cy="586.2" r="2.0" fill="#000"/>
<circle cx="440.8" cy="586.2" r="2.0" fill="#000"/>
<circle cx="432.55" cy="590.9" r="2.0" fill="#000"/>
<circle cx="435.85" cy="590.9" r="2.0" fill="#000"/>
<circle cx="439.15" cy="590.9" r="2.0" fill="#000"/>
<circle cx="442.45" cy="590.9" r="2.0" fill="#000"/>
<circle cx="432.55" cy="594" r="2.0" fill="#000"/>
<circle cx="435.85" cy="594" r="2.0" fill="#000"/>
<circle cx="439.15" cy="594" r="2.0" fill="#000"/>
<circle cx="442.45" cy="594" r="2.0" fill="#000"/>
<circle cx="432.55" cy="600.5" r="2.0" fill="#000"/>
<circle cx="435.85" cy="600.5" r="2.0" fill="#000"/>
<circle cx="439.15" cy="600.5" r="2.0" fill="#000"/>
<circle cx="442.45" cy="600.5" r="2.0" fill="#000"/>
<circle cx="430.9" cy="606.6" r="2.0" fill="#000"/>
<circle cx="434.2" cy="606.6" r="2.0" fill="#000"/>
<circle cx="437.5" cy="606.6" r="2.0" fill="#000"/>
<circle cx="440.8" cy="606.6" r="2.0" fill="#000"/>
<circle cx="444.1" cy="606.6" r="2.0" fill="#000"/>
<circle cx="434.2" cy="611.7" r="2.0" fill="#000"/>
<circle cx="437.5" cy="611.7" r="2.0" fill="#000"/>
<circle cx="440.8" cy="611.7" r="2.0" fill="#000"/>
<circle cx="434.2" cy="616.9" r="2.0" fill="#000"/>
<circle cx="437.5" cy="616.9" r="2.0" fill="#000"/>
<circle cx="440.8" cy="616.9" r="2.0" fill="#000"/>
<circle cx="437.5" cy="630.8" r="2.0" fill="#000"/>
<circle cx="437.5" cy="654" r="2.0" fill="#000"/>
<circle cx="435.85" cy="663.9" r="2.0" fill="#000"/>
<circle cx="439.15" cy="663.9" r="2.0" fill="#000"/>
<circle cx="533.8" cy="558" r="2.0" fill="#000"/>
<circle cx="533.8" cy="563.9" r="2.0" fill="#000"/>
<circle cx="533.8" cy="576.7" r="2.0" fill="#000"/>
<circle cx="530.5" cy="583.3" r="2.0" fill="#000"/>
<circle cx="533.8" cy="583.3" r="2.0" fill="#000"/>
<circle cx="537.1" cy="583.3" r="2.0" fill="#000"/>
<circle cx="530.5" cy="587.9" r="2.0" fill="#000"/>
<circle cx="533.8" cy="587.9" r="2.0" fill="#000"/>
<circle cx="537.1" cy="587.9" r="2.0" fill="#000"/>
<circle cx="533.8" cy="594.9" r="2.0" fill="#000"/>
<circle cx="528.85" cy="605.9" r="2.0" fill="#000"/>
<circle cx="532.15" cy="605.9" r="2.0" fill="#000"/>
<circle cx="535.45" cy="605.9" r="2.0" fill="#000"/>
<circle cx="538.75" cy="605.9" r="2.0" fill="#000"/>
<circle cx="530.5" cy="610.6" r="2.0" fill="#000"/>
<circle cx="533.8" cy="610.6" r="2.0" fill="#000"/>
<circle cx="537.1" cy="610.6" r="2.0" fill="#000"/>
<circle cx="527.2" cy="616" r="2.0" fill="#000"/>
<circle cx="530.5" cy="616" r="2.0" fill="#000"/>
<circle cx="533.8" cy="616" r="2.0" fill="#000"/>
<circle cx="537.1" cy="616" r="2.0" fill="#000"/>
<circle cx="540.4" cy="616" r="2.0" fill="#000"/>
<circle cx="528.85" cy="631.6" r="2.0" fill="#000"/>
<circle cx="532.15" cy="631.6" r="2.0" fill="#000"/>
<circle cx="535.45" cy="631.6" r="2.0" fill="#000"/>
<circle cx="538.75" cy="631.6" r="2.0" fill="#000"/>
<circle cx="528.85" cy="635.6" r="2.0" fill="#000"/>
<circle cx="532.15" cy="635.6" r="2.0" fill="#000"/>
<circle cx="535.45" cy="635.6" r="2.0" fill="#000"/>
<circle cx="538.75" cy="635.6" r="2.0" fill="#000"/>
<circle cx="533.8" cy="642.8" r="2.0" fill="#000"/>
<circle cx="533.8" cy="651.9" r="2.0" fill="#000"/>
<circle cx="527.2" cy="663.8" r="2.0" fill="#000"/>
<circle cx="530.5" cy="663.8" r="2.0" fill="#000"/>
<circle cx="533.8" cy="663.8" r="2.0" fill="#000"/>
<circle cx="537.1" cy="663.8" r="2.0" fill="#000"/>
<circle cx="540.4" cy="663.8" r="2.0" fill="#000"/>
<line x1="476.9" y1="697.4" x2="476.9" y2="825.1" stroke="#333" stroke-width="0.9"/>
<line x1="474.7" y1="703.3" x2="476.9" y2="703.3" stroke="#333" stroke-width="0.7"/>
<text x="473.2" y="705.9" font-size="7.0" fill="#4d4d4d" text-anchor="end" font-weight="normal" font-family="'DejaVu Sans', 'Liberation Sans', sans-serif">1.00</text>
<line x1="474.7" y1="731.5" x2="476.9" y2="731.5" stroke="#333" stroke-width="0.7"/>
<text x="473.2" y="734.1" font-size="7.0" fill="#4d4d4d" text-anchor="end" font-weight="normal" font-family="'DejaVu Sans', 'Liberation Sans', sans-serif">0.75</text>
<line x1="474.7" y1="760.5" x2="476.9" y2="760.5" stroke="#333" stroke-width="0.7"/>
<text x="473.2" y="763.1" font-size="7.0" fill="#4d4d4d" text-anchor="end" font-weight="normal" font-family="'DejaVu Sans', 'Liberation Sans', sans-serif">0.50</text>
<line x1="474.7" y1="790.3" x2="476.9" y2="790.3" stroke="#333" stroke-width="0.7"/>
<text x="473.2" y="792.9" font-size="7.0" fill="#4d4d4d" text-anchor="end" font-weight="normal" font-family="'DejaVu Sans', 'Liberation Sans', sans-serif">0.25</text>
<line x1="474.7" y1="819.4" x2="476.9" y2="819.4" stroke="#333" stroke-width="0.7"/>
<text x="473.2" y="822" font-size="7.0" fill="#4d4d4d" text-anchor="end" font-weight="normal" font-family="'DejaVu Sans', 'Liberation Sans', sans-serif">0.00</text>
<line x1="476.9" y1="825.1" x2="683" y2="825.1" stroke="#333" stroke-width="0.9"/>
<line x1="532.6" y1="825.1" x2="532.6" y2="827.3" stroke="#333" stroke-width="0.7"/>
<text x="532.6" y="833.2" font-size="7.2" fill="#4d4d4d" text-anchor="middle" font-weight="normal" font-family="'DejaVu Sans', 'Liberation Sans', sans-serif">Young</text>
<line x1="627" y1="825.1" x2="627" y2="827.3" stroke="#333" stroke-width="0.7"/>
<text x="627" y="833.2" font-size="7.2" fill="#4d4d4d" text-anchor="middle" font-weight="normal" font-family="'DejaVu Sans', 'Liberation Sans', sans-serif">Aged</text>
<text x="579.8" y="841.7" font-size="8.6" fill="#222" text-anchor="middle" font-weight="normal" font-family="'DejaVu Sans', 'Liberation Sans', sans-serif">Age</text>
<text x="455.5" y="761.2" font-size="8.8" fill="#222" text-anchor="middle" font-weight="normal" font-family="'DejaVu Sans', 'Liberation Sans', sans-serif" transform="rotate(-90 455.5 761.2)">% Dual Positive Cells</text>
<text x="519.8" y="702.4" font-size="6.4" fill="#222" text-anchor="start" font-weight="normal" font-family="'DejaVu Sans', 'Liberation Sans', sans-serif">Wilcoxon, p = 0.032</text>
<line x1="532.6" y1="749.2" x2="532.6" y2="751.6" stroke="#444" stroke-width="0.6"/>
<line x1="532.6" y1="767.4" x2="532.6" y2="768.2" stroke="#444" stroke-width="0.6"/>
<rect x="497.4" y="751.6" width="70.8" height="15.8" fill="#fff" stroke="#444" stroke-width="0.6"/>
<line x1="497.4" y1="762" x2="568.2" y2="762" stroke="#333" stroke-width="1.1"/>
<line x1="627" y1="759.3" x2="627" y2="763.2" stroke="#444" stroke-width="0.6"/>
<line x1="627" y1="780.6" x2="627" y2="791.4" stroke="#444" stroke-width="0.6"/>
<rect x="591.4" y="763.2" width="71.2" height="17.4" fill="#fff" stroke="#444" stroke-width="0.6"/>
<line x1="591.4" y1="775.9" x2="662.6" y2="775.9" stroke="#333" stroke-width="1.1"/>
<circle cx="532.6" cy="720.6" r="2.0" fill="#000"/>
<circle cx="532.6" cy="749.2" r="2.0" fill="#000"/>
<circle cx="532.6" cy="756.6" r="2.0" fill="#000"/>
<circle cx="529.2" cy="768.2" r="2.0" fill="#000"/>
<circle cx="532.6" cy="768.2" r="2.0" fill="#000"/>
<circle cx="536" cy="768.2" r="2.0" fill="#000"/>
<circle cx="623.6" cy="759.3" r="2.0" fill="#000"/>
<circle cx="627.4" cy="759.3" r="2.0" fill="#000"/>
<circle cx="623.6" cy="775.5" r="2.0" fill="#000"/>
<circle cx="627.4" cy="775.5" r="2.0" fill="#000"/>
<circle cx="625.5" cy="782.1" r="2.0" fill="#000"/>
<circle cx="625.5" cy="791.4" r="2.0" fill="#000"/>
<defs><filter id="ragG" x="0" y="0" width="100%" height="100%"><feTurbulence type="fractalNoise" baseFrequency="0.18" numOctaves="2" seed="9" result="t"/><feDisplacementMap in="SourceGraphic" in2="t" scale="5" xChannelSelector="R" yChannelSelector="G"/></filter><clipPath id="clIL"><rect x="23.4" y="763.1" width="64.1" height="63.9"/></clipPath><clipPath id="clIR"><rect x="219.4" y="763.1" width="64.4" height="63.9"/></clipPath><clipPath id="clL"><rect x="22.9" y="699" width="191.3" height="127.6"/></clipPath><clipPath id="clR"><rect x="219.6" y="699" width="192" height="127.6"/></clipPath></defs>
<g clip-path="url(#clL)">
<rect x="22.9" y="699" width="191.29999999999998" height="127.60000000000002" fill="#d5dbd9"/>
<g filter="url(#ragG)">
<polygon points="80,698 128,698 128.5,710 115,714 104,717 100,725 101,738 88,740 82,732 86,722 80,712" fill="#d3c5c0" opacity="0.7" stroke="#a98d88" stroke-width="0.8" stroke-linejoin="round"/>
<polygon points="154.2,712.2 161.9,710 171.8,711.1 179.4,709 188.2,710 192.6,716.6 190.4,723.2 184.9,727.6 183.8,722.1 181.6,719.9 175,719.9 169.6,726.5 167.4,733 164.1,734.1 160.8,730.8 158.6,739.6 157.5,744 155.3,741.8 156.4,730.8 154.2,723.2 153.1,716.6" fill="#d3c5c0" opacity="0.7" stroke="#a98d88" stroke-width="0.8" stroke-linejoin="round"/>
<polygon points="139.44,740 137.57,746.66 130.98,750.72 123.82,749.41 116,746.14 113.56,740 117.38,734.57 123.24,730.28 130.17,731.3 136.07,733.39" fill="#d3c5c0" opacity="0.7" stroke="#a98d88" stroke-width="0.8" stroke-linejoin="round"/>
<polygon points="139.64,779 138.05,787.39 133.56,792.51 128.9,795.91 125.09,787.6 121.84,779 124.94,768.29 128.5,762.97 133.25,761.77 137.84,768.28" fill="#d3c5c0" opacity="0.7" stroke="#a98d88" stroke-width="0.8" stroke-linejoin="round"/>
<polygon points="106.94,786 104.2,793.4 100.21,797.58 95.68,799.73 92.49,794.67 90.39,786 90.91,777.82 95.66,772.76 100.62,774.45 105.39,778.95" fill="#d3c5c0" opacity="0.7" stroke="#a98d88" stroke-width="0.8" stroke-linejoin="round"/>
<polygon points="164.67,790 161.23,797.02 157.67,800.71 152.63,799.04 148.42,797.35 146.82,790 146.78,782.68 152.35,779.99 157.8,778.67 161.43,783.05" fill="#d3c5c0" opacity="0.7" stroke="#a98d88" stroke-width="0.8" stroke-linejoin="round"/>
<polygon points="214.98,782 210.66,795.99 205.98,801.02 199.49,804.48 194.53,795.91 191.85,782 194.59,770.85 200.03,764.13 206.59,759.05 211,771.33" fill="#d3c5c0" opacity="0.7" stroke="#a98d88" stroke-width="0.8" stroke-linejoin="round"/>
<polygon points="184.73,782 182.44,795.68 179,805.06 175.51,796.5 174.67,782 175.96,767.18 179,763.33 182.78,765.15" fill="#d3c5c0" opacity="0.7" stroke="#a98d88" stroke-width="0.8" stroke-linejoin="round"/>
<polygon points="179.27,817 176.99,822.19 173.94,826.44 169.97,825.44 165.49,822.85 164,817 166.36,811.35 169.85,808.98 174.1,809.35 177.45,810.93" fill="#d3c5c0" opacity="0.7" stroke="#a98d88" stroke-width="0.8" stroke-linejoin="round"/>
<polygon points="216.35,816 210.75,821.59 201.61,824.86 191.3,826.56 183.82,822.38 178.6,816 182.57,809.66 191.96,805.91 201.91,806.53 211.87,809.79" fill="#d3c5c0" opacity="0.7" stroke="#a98d88" stroke-width="0.8" stroke-linejoin="round"/>
<polygon points="132.44,818 131.61,823.42 126.37,826.68 121.43,827 116.8,823.79 114.6,818 117.05,812.48 121.02,808.6 126.66,808.56 132.09,812.41" fill="#d3c5c0" opacity="0.7" stroke="#a98d88" stroke-width="0.8" stroke-linejoin="round"/>
<polygon points="120.71,814 119.07,819.93 116.39,824.47 113.25,823.45 110.72,820.27 109.65,814 110.61,807.98 113.38,804.72 116.6,803.71 119.21,807.73" fill="#d3c5c0" opacity="0.7" stroke="#a98d88" stroke-width="0.8" stroke-linejoin="round"/>
<polygon points="66.29,706 65.97,710.3 63.41,713.03 60.39,711.74 57.99,709.78 57.67,706 58.18,702.28 60.6,700.27 63.53,699.58 66.18,701.77" fill="#d3c5c0" opacity="0.7" stroke="#a98d88" stroke-width="0.8" stroke-linejoin="round"/>
<polygon points="80.37,712 78.5,715.43 75.31,717.55 70.81,718.27 66.77,715.04 64.73,712 66.44,708.64 70.47,705.51 75.71,706.43 80.08,708.32" fill="#d3c5c0" opacity="0.7" stroke="#a98d88" stroke-width="0.8" stroke-linejoin="round"/>
<polygon points="33.76,737 32.99,740.59 30.11,743.51 26.09,742.45 22.57,740 22.71,737 22.98,733.85 26.07,730.62 29.79,731.41 32.46,733.69" fill="#d3c5c0" opacity="0.7" stroke="#a98d88" stroke-width="0.8" stroke-linejoin="round"/>
<polygon points="113.13,742 111.37,744.64 106.54,745.53 101.17,745.8 97.69,744.22 94.84,742 97.94,739.67 101.81,738.06 106.43,738.43 111.02,739.42" fill="#d3c5c0" opacity="0.7" stroke="#a98d88" stroke-width="0.8" stroke-linejoin="round"/>
<polygon points="209.69,709 208.79,714.32 205.02,716.03 199.41,715.82 193.65,713.41 192.71,709 194.4,704.15 199.02,702.26 205,701.85 209.35,704.53" fill="#d3c5c0" opacity="0.7" stroke="#a98d88" stroke-width="0.8" stroke-linejoin="round"/>
<polygon points="210.63,738 209.8,741.38 206.99,743.86 203.4,743.28 200.21,741.97 198.3,738 200.85,734.18 203.19,732.16 206.97,732.07 209.83,734.04" fill="#d3c5c0" opacity="0.7" stroke="#a98d88" stroke-width="0.8" stroke-linejoin="round"/>
<polygon points="140,786 147,783 150,790 148,808 155,813 158,800 154,785 163,780 168,788 166,800 170,813 165,822 150,824 140,818 139,800" fill="#d3c5c0" opacity="0.7" stroke="#a98d88" stroke-width="0.8" stroke-linejoin="round"/>
<polyline points="33.4,699.8 36,709.4" fill="none" stroke="#b8a09c" stroke-width="4.6" stroke-linecap="round" stroke-linejoin="round" opacity="0.75"/>
<polyline points="33.4,699.8 36,709.4" fill="none" stroke="#d3c5c0" stroke-width="2.8" stroke-linecap="round" stroke-linejoin="round" opacity="0.9"/>
<polyline points="42.1,705.9 45.6,709.4 48.3,713.8" fill="none" stroke="#b8a09c" stroke-width="4.6" stroke-linecap="round" stroke-linejoin="round" opacity="0.75"/>
<polyline points="42.1,705.9 45.6,709.4 48.3,713.8" fill="none" stroke="#d3c5c0" stroke-width="2.8" stroke-linecap="round" stroke-linejoin="round" opacity="0.9"/>
<polyline points="51.8,700.6 55.3,708.5 58.8,718.1 59.7,724.3 57,733 58.8,739.2 57,750 57.8,762" fill="none" stroke="#b8a09c" stroke-width="4.6" stroke-linecap="round" stroke-linejoin="round" opacity="0.75"/>
<polyline points="51.8,700.6 55.3,708.5 58.8,718.1 59.7,724.3 57,733 58.8,739.2 57,750 57.8,762" fill="none" stroke="#d3c5c0" stroke-width="2.8" stroke-linecap="round" stroke-linejoin="round" opacity="0.9"/>
<polyline points="57,700.6 60.5,715.5" fill="none" stroke="#b8a09c" stroke-width="4.6" stroke-linecap="round" stroke-linejoin="round" opacity="0.75"/>
<polyline points="57,700.6 60.5,715.5" fill="none" stroke="#d3c5c0" stroke-width="2.8" stroke-linecap="round" stroke-linejoin="round" opacity="0.9"/>
<polyline points="40.4,718.1 43.9,728.6 50,731.3 55.3,728.6" fill="none" stroke="#b8a09c" stroke-width="4.6" stroke-linecap="round" stroke-linejoin="round" opacity="0.75"/>
<polyline points="40.4,718.1 43.9,728.6 50,731.3 55.3,728.6" fill="none" stroke="#d3c5c0" stroke-width="2.8" stroke-linecap="round" stroke-linejoin="round" opacity="0.9"/>
<polyline points="40.4,718.1 46,715 52,713" fill="none" stroke="#b8a09c" stroke-width="4.6" stroke-linecap="round" stroke-linejoin="round" opacity="0.75"/>
<polyline points="40.4,718.1 46,715 52,713" fill="none" stroke="#d3c5c0" stroke-width="2.8" stroke-linecap="round" stroke-linejoin="round" opacity="0.9"/>
<polyline points="61.4,718.1 71,715.5 78,711.1" fill="none" stroke="#b8a09c" stroke-width="4.6" stroke-linecap="round" stroke-linejoin="round" opacity="0.75"/>
<polyline points="61.4,718.1 71,715.5 78,711.1" fill="none" stroke="#d3c5c0" stroke-width="2.8" stroke-linecap="round" stroke-linejoin="round" opacity="0.9"/>
<polyline points="71,705 78,703.3 82,708" fill="none" stroke="#b8a09c" stroke-width="4.6" stroke-linecap="round" stroke-linejoin="round" opacity="0.75"/>
<polyline points="71,705 78,703.3 82,708" fill="none" stroke="#d3c5c0" stroke-width="2.8" stroke-linecap="round" stroke-linejoin="round" opacity="0.9"/>
<polyline points="64,722.5 67.5,730.4 74.5,727.8" fill="none" stroke="#b8a09c" stroke-width="4.6" stroke-linecap="round" stroke-linejoin="round" opacity="0.75"/>
<polyline points="64,722.5 67.5,730.4 74.5,727.8" fill="none" stroke="#d3c5c0" stroke-width="2.8" stroke-linecap="round" stroke-linejoin="round" opacity="0.9"/>
<polyline points="23.8,731.3 28.1,736.5" fill="none" stroke="#b8a09c" stroke-width="4.6" stroke-linecap="round" stroke-linejoin="round" opacity="0.75"/>
<polyline points="23.8,731.3 28.1,736.5" fill="none" stroke="#d3c5c0" stroke-width="2.8" stroke-linecap="round" stroke-linejoin="round" opacity="0.9"/>
<polyline points="36.9,733 38,745" fill="none" stroke="#b8a09c" stroke-width="4.6" stroke-linecap="round" stroke-linejoin="round" opacity="0.75"/>
<polyline points="36.9,733 38,745" fill="none" stroke="#d3c5c0" stroke-width="2.8" stroke-linecap="round" stroke-linejoin="round" opacity="0.9"/>
<polyline points="145,727 148,745 150,760" fill="none" stroke="#b8a09c" stroke-width="4.6" stroke-linecap="round" stroke-linejoin="round" opacity="0.75"/>
<polyline points="145,727 148,745 150,760" fill="none" stroke="#d3c5c0" stroke-width="2.8" stroke-linecap="round" stroke-linejoin="round" opacity="0.9"/>
<polyline points="113,728 125,727 140,730" fill="none" stroke="#b8a09c" stroke-width="4.6" stroke-linecap="round" stroke-linejoin="round" opacity="0.75"/>
<polyline points="113,728 125,727 140,730" fill="none" stroke="#d3c5c0" stroke-width="2.8" stroke-linecap="round" stroke-linejoin="round" opacity="0.9"/>
<polyline points="175,748 180,764" fill="none" stroke="#b8a09c" stroke-width="4.6" stroke-linecap="round" stroke-linejoin="round" opacity="0.75"/>
<polyline points="175,748 180,764" fill="none" stroke="#d3c5c0" stroke-width="2.8" stroke-linecap="round" stroke-linejoin="round" opacity="0.9"/>
<polyline points="190,760 212,758" fill="none" stroke="#b8a09c" stroke-width="4.6" stroke-linecap="round" stroke-linejoin="round" opacity="0.75"/>
<polyline points="190,760 212,758" fill="none" stroke="#d3c5c0" stroke-width="2.8" stroke-linecap="round" stroke-linejoin="round" opacity="0.9"/>
<polyline points="30,700 33,712" fill="none" stroke="#b8a09c" stroke-width="4.6" stroke-linecap="round" stroke-linejoin="round" opacity="0.75"/>
<polyline points="30,700 33,712" fill="none" stroke="#d3c5c0" stroke-width="2.8" stroke-linecap="round" stroke-linejoin="round" opacity="0.9"/>
</g>
<path d="M132.5 778.5l1.1 0.9M205.5 823.7l0.5 2.1M166.8 824.2l2.0 1.0M118.8 747.7l0.6 0.7M196.4 758.9l0.8 0.3M83.2 733.4l-1.0 0.1M199.3 735.3l-2.0 1.2M94.4 739.5l-0.3 0.5M206.5 814.1l0.1 0.6M38.2 742.5l0.7 0.7M84.9 725.5l1.5 0.8M127.5 705.5l-0.1 0.8M111.4 809.7l0.4 0.4M126.2 727.2l1.1 0.4M183.7 771.3l1.3 0.3M206.3 758.3l1.3 1.4M65.1 710.3l1.4 1.5M89.8 782.3l-2.2 0.4M104.3 740.8l1.7 1.5M58.9 718.7l0.2 2.1M37.3 737.5l0.2 1.4M98.8 744.2l1.3 1.4M61.6 712.4l0.9 2.0M103.1 698.1l-0.7 0.9M23.5 734.7l0.8 0.1M164.4 815.7l0.3 1.0M31.0 742.0l-0.1 0.2M155.8 738.6l0.2 2.2M210.7 739.7l-1.7 0.3M154.2 714.4l-0.8 1.3M50.8 713.5l-1.9 0.0M127.6 749.9l0.2 1.3M155.2 728.2l-1.4 0.3M34.1 704.2l-0.3 0.8M58.7 708.6l-0.6 1.1M209.4 764.1l-2.4 0.4M33.9 738.3l-2.3 0.0M140.1 806.2l0.4 0.0M179.2 758.6l1.0 1.8M71.7 715.1l-0.1 0.8M139.5 803.9l0.7 0.2M157.4 740.4l0.5 0.2M189.5 807.3l-0.4 0.4M63.6 724.0l1.4 0.8M97.7 697.9l1.9 0.8M151.0 786.9l-1.0 1.9M94.4 732.9l-1.2 1.4M44.2 715.6l0.8 0.8M59.2 725.1l0.4 1.0M147.6 738.5l-1.1 0.3M128.9 762.9l-1.3 0.9M122.9 749.7l0.6 0.2M212.9 779.4l-0.5 1.9M159.2 729.5l0.6 0.5M199.3 795.2l0.5 1.1M81.8 731.3l0.6 2.2M146.8 736.7l-0.3 0.8M200.6 758.2l0.6 1.2M149.5 824.4l0.9 0.5M62.3 699.4l1.6 0.3M146.7 734.7l-2.0 0.9M149.3 752.6l-0.3 1.0M189.9 713.7l-0.3 1.4M164.6 710.4l1.2 0.7M124.0 697.2l0.0 0.6M57.9 701.9l0.4 2.0M52.8 703.2l-0.4 0.8M184.5 783.3l1.2 1.1M52.4 701.3l-0.1 0.8M168.1 804.3l0.1 1.1M182.0 795.6l-0.8 2.0M139.3 816.3l0.5 1.3M58.4 715.3l-0.3 1.6M68.0 716.6l0.5 0.5M189.1 714.0l-0.5 0.1M57.7 737.5l-0.4 0.7M115.6 821.9l0.0 1.2M163.5 781.2l0.4 0.4M193.5 792.6l-0.3 0.0M199.1 805.7l1.6 0.8M124.1 772.6l0.2 0.6M55.7 708.9l-1.8 1.5M164.6 789.9l1.4 1.1M207.0 731.7l0.8 2.3M194.0 789.1l-0.6 2.1M58.2 709.5l-0.2 0.4M84.9 721.8l0.3 1.7M113.9 739.8l0.3 0.2M116.8 811.8l-2.2 0.1M56.8 753.7l-0.2 0.3M124.7 809.3l-1.4 1.9M147.7 743.4l-1.4 1.1M44.8 729.6l0.3 1.6M130.4 732.0l-1.3 0.3M60.3 722.7l0.5 0.1M98.7 714.5l-1.7 0.3M194.1 706.3l-0.5 0.1M210.0 707.0l1.6 0.6M146.1 732.0l0.3 1.2M94.3 797.0l1.4 1.3M71.0 717.9l-1.4 1.1M65.1 710.9l0.3 1.2M139.1 795.2l0.4 1.2M108.9 739.3l0.6 1.1M205.6 769.9l-1.9 0.2M117.7 804.5l1.5 0.7M142.1 784.7l-0.8 0.5M24.4 733.7l-2.1 0.8M32.7 706.9l1.5 0.3M50.2 730.7l0.4 1.1M36.0 706.1l-0.3 2.1M77.3 707.8l-0.9 2.0M117.4 698.4l1.4 1.4M138.5 774.5l0.2 0.6M64.3 725.1l-1.2 0.9M180.8 777.9l1.6 1.4M27.0 730.5l0.0 1.7M212.1 780.9l-0.9 0.0M23.5 741.3l-0.2 1.4M44.7 708.5l0.9 1.1M126.3 731.1l-1.7 0.2M113.7 823.2l1.1 1.3M153.7 721.9l-0.4 0.9M205.4 743.1l-0.5 0.9M212.6 793.4l-0.8 0.7M160.4 735.9l-0.7 0.4M206.3 775.1l0.8 0.5M102.1 738.5l2.0 0.8M123.3 827.1l-1.1 0.0M165.8 811.5l1.6 1.5M198.7 804.1l-0.7 0.3M200.6 824.5l0.7 1.1M123.4 712.1l0.6 0.3M194.4 706.6l0.1 0.4M135.2 729.1l1.4 0.7M186.4 716.7l1.3 1.8M42.8 726.1l-1.7 0.2M181.0 720.0l1.2 1.4M178.5 769.0l1.0 1.8M209.0 743.1l0.4 1.7M175.8 766.3l-1.2 1.2M133.3 728.4l-0.7 0.7M166.5 800.5l0.9 0.5M129.1 824.3l-0.3 0.0M140.1 780.1l0.6 0.7M159.5 793.1l0.4 2.1M58.0 752.1l0.4 0.2M94.7 787.6l0.9 0.1M57.1 731.0l-0.8 0.9M206.7 759.9l-0.6 1.2M151.7 810.1l0.5 1.0M193.2 775.4l2.3 0.3M167.7 818.2l-0.3 0.3M30.1 742.7l1.5 1.1M73.1 706.7l-0.0 1.8M192.2 787.0l-0.4 0.4M154.0 788.1l-0.5 0.3M189.2 759.2l1.7 0.8M47.0 711.5l-0.7 0.5M186.4 823.1l0.6 1.7M66.2 728.9l0.7 0.9M208.9 734.6l-0.5 0.0M180.8 710.7l-2.1 0.4M58.6 705.1l-0.7 0.0M144.9 728.5l0.9 0.7M195.8 709.1l1.9 1.1M37.9 739.7l-0.5 2.0M84.5 698.1l0.0 1.3M113.2 742.3l-0.5 0.1M163.7 787.4l1.6 1.4M213.7 813.8l-0.5 1.8M129.5 728.6l-1.9 0.0M198.5 738.4l-0.6 1.7M192.3 720.2l-0.1 0.7M111.0 808.3l1.2 1.9M78.9 714.0l-0.0 0.3M150.4 758.8l-1.0 2.2M196.3 824.3l-0.5 1.2M157.9 800.4l0.2 1.6M59.5 710.2l-0.5 1.2M132.7 792.9l-2.1 0.6M98.6 739.2l-1.4 1.1M114.0 741.7l-0.4 0.5M124.9 768.1l0.0 0.8M126.1 709.6l1.8 1.4M104.5 738.5l1.5 1.3M208.3 713.7l-0.9 0.5M176.9 756.3l0.6 0.0M41.1 718.1l-0.8 1.6M159.0 730.4l0.7 1.4M118.5 809.0l1.4 0.8M170.0 727.1l-1.5 1.2M63.9 700.6l-0.3 1.4M181.2 713.7l0.8 0.0M127.6 809.6l0.1 0.3M30.1 731.6l2.2 0.5M180.8 802.0l-0.8 1.2" stroke="#7d64ae" stroke-width="2.28" stroke-linecap="round" fill="none" opacity="0.8"/>
<path d="M64.0 701.8l-1.0 1.5M112.3 739.9l-0.4 0.9M116.4 738.0l0.7 1.9M156.2 736.0l-0.5 0.1M183.4 766.7l-1.2 0.7M195.7 769.5l0.7 1.3M100.7 726.8l1.0 1.2M71.3 728.0l-0.2 1.3M92.7 697.6l1.8 0.3M40.3 719.6l-1.6 0.2M119.0 825.4l0.9 1.2M106.7 786.3l1.1 0.4M80.0 705.6l0.5 0.9M139.1 784.9l0.2 0.3M130.3 811.4l0.1 0.6M169.4 812.8l0.7 0.4M147.8 793.2l0.2 0.1M131.6 819.3l-0.3 0.0M121.3 815.7l-0.9 0.3M79.4 711.5l0.9 0.4M56.5 755.8l-0.0 0.3M169.3 808.9l-0.0 0.2M58.0 738.6l0.9 1.2M169.0 709.9l-0.5 0.2M156.9 795.5l0.6 1.9M139.5 775.7l0.2 0.3M47.9 729.8l1.3 1.3M125.0 785.4l0.7 1.3M178.7 761.1l-1.3 0.3M99.4 798.3l0.9 0.6M64.1 717.1l0.6 0.9M164.4 793.8l-0.7 1.9M105.9 778.7l-0.6 0.9M42.6 723.2l-0.9 0.6M121.4 778.6l1.2 0.8M203.8 802.3l0.4 0.4M124.5 783.3l0.4 1.0M66.5 714.6l0.9 0.1M72.0 709.1l-1.1 0.1M199.0 766.8l0.4 1.0M202.3 743.4l-0.7 0.9M215.6 783.5l0.4 1.2M102.4 718.8l0.9 1.1M34.5 700.3l0.4 1.5M164.0 822.8l0.6 1.2M124.6 727.7l0.9 0.6M57.7 759.2l0.0 0.2M110.8 811.9l1.0 0.4M176.1 752.5l-1.3 1.1M102.2 721.3l-1.5 0.8M112.3 813.7l-0.6 0.1M94.6 793.0l0.4 0.2M91.1 778.4l-0.4 0.3M75.0 704.2l0.2 0.4M140.4 789.9l-0.6 0.2M110.1 744.9l1.0 0.9M82.1 714.7l-0.2 0.2M210.9 735.9l-0.3 1.1M177.1 798.0l-0.2 1.1M58.5 705.8l-1.4 1.0M95.6 741.9l-0.7 0.3M148.3 805.2l1.1 0.1M182.8 788.7l1.4 0.1M56.8 712.4l0.1 1.6M196.7 800.7l-1.3 0.8M80.4 703.1l-0.5 0.7M108.8 698.5l-0.9 1.0M97.1 774.1l1.4 1.1M25.0 731.6l0.1 1.2M100.6 775.3l1.4 1.0M130.8 792.9l0.1 1.6M118.4 822.4l-1.0 0.5M118.3 728.3l-0.3 1.0M212.1 789.7l1.2 1.1M146.4 782.8l-0.3 0.1M149.2 797.4l1.1 0.1M137.4 747.4l1.0 0.3M131.3 813.3l0.3 0.6M177.0 818.0l-1.0 0.8M188.3 725.5l-0.5 0.1M99.1 738.3l0.5 1.2M146.6 790.3l-0.7 0.6M155.6 810.5l0.8 0.5M134.6 763.2l-0.4 1.9M176.1 810.4l-0.8 1.6M176.3 816.5l-0.9 0.5M137.7 737.8l-0.0 1.7M56.4 734.2l-0.6 0.7M76.2 714.7l1.3 0.9M59.2 712.4l0.4 0.5M148.4 782.7l1.0 1.0M88.6 698.4l-0.9 1.7M184.4 780.7l-0.3 1.0M199.5 709.4l-0.4 0.2M79.9 710.2l-0.6 1.9M202.4 807.5l0.2 0.4M203.0 731.5l0.2 0.1M178.4 816.7l-0.6 0.7M79.2 705.4l-1.5 0.9M127.6 698.9l0.8 0.1M175.4 779.7l0.5 0.5M111.7 823.3l0.7 0.1M177.0 777.2l0.5 0.9M165.3 785.0l-0.2 2.0M180.1 708.3l0.4 0.1M164.2 790.0l-0.7 0.2M90.4 740.4l-0.1 0.8M203.1 758.0l-1.8 0.6M33.0 735.1l-0.1 0.4M119.7 815.1l0.6 1.4M175.6 790.4l-0.1 0.7M52.2 729.3l0.1 0.3M160.0 782.6l0.5 1.6M111.9 698.6l0.4 1.0M148.1 808.9l1.3 0.8M148.3 793.4l0.2 0.9M46.8 714.6l-0.6 0.5M156.3 806.4l1.3 0.3M98.9 776.4l-0.2 0.2M175.5 770.7l0.9 1.6M138.8 810.8l-0.0 0.9M117.5 734.3l0.7 0.3M57.7 702.0l-0.5 1.8M30.6 744.0l-1.0 1.7M210.1 711.3l0.1 0.3M122.9 810.4l0.4 0.8M157.5 744.5l0.3 0.1M176.7 820.3l-1.8 0.5M170.4 725.4l0.3 0.1M182.6 809.5l-0.5 0.0M193.8 806.5l0.4 0.5M155.7 711.6l0.2 0.2M88.1 739.9l0.2 1.6M162.9 732.6l1.1 0.2M207.9 808.7l1.5 0.7M121.8 780.1l-1.7 0.5M174.3 709.9l-0.0 0.5M69.8 718.4l-0.2 0.3M92.9 793.8l-0.6 0.5M209.0 822.4l-0.7 0.2M156.8 798.0l-0.8 0.8M172.8 720.6l0.8 0.8M183.0 790.9l0.1 0.5M211.2 773.6l-0.2 1.2M203.0 715.5l-0.5 0.7M29.8 736.2l-0.2 0.5M124.3 733.6l-0.0 0.6M124.7 736.7l-0.4 0.3M143.8 820.6l0.2 0.3M161.5 820.2l0.7 1.0M100.6 735.3l0.3 0.3M158.3 778.6l-0.7 0.3M67.3 730.8l0.7 0.6M194.3 760.6l-1.4 0.8M193.0 825.5l-1.1 0.4M26.2 734.3l0.6 1.0M37.3 733.8l1.4 0.3M158.0 801.8l-1.6 0.9M109.6 716.1l-1.2 0.7M110.3 817.8l-0.6 0.4M191.8 778.3l-0.1 0.5M193.0 710.9l-1.1 0.2M115.5 816.3l1.7 1.1M198.8 740.2l-0.2 0.5M184.4 709.6l-1.2 0.6M21.9 738.6l-0.7 1.7M60.2 708.7l0.4 0.6M70.4 709.5l-0.1 0.6M176.3 795.3l-0.6 0.9M184.8 726.7l0.3 0.3M173.1 819.0l1.1 0.6M58.4 707.7l-1.6 0.4M174.3 748.3l-1.1 0.6M33.3 709.2l-0.7 0.5M117.3 817.7l0.8 1.7M189.8 826.0l0.9 1.0M55.4 706.3l-0.1 0.3M126.6 790.1l-0.3 1.6M183.4 822.2l-0.9 0.3M165.8 822.6l-0.3 0.1M83.2 733.1l-1.4 0.4M116.7 823.7l-0.8 0.6M175.6 785.3l-0.5 1.7M180.8 764.0l0.4 0.3M202.0 814.8l-1.3 1.3M139.2 742.0l0.9 0.8M137.2 787.1l-0.0 0.8M113.2 728.2l-0.6 0.3M65.9 701.6l-0.7 0.6M154.7 778.6l1.8 0.9M148.5 799.8l0.3 0.2M199.6 702.1l0.8 0.1M138.3 798.1l0.5 0.0M209.7 739.1l-0.7 0.1M216.4 816.0l-0.4 0.5M74.7 718.5l0.2 0.0M129.2 796.1l1.8 0.7" stroke="#6b569f" stroke-width="2.16" stroke-linecap="round" fill="none" opacity="0.7"/>
<path d="M72.6 704.3l0.1 0.7M24.8 732.0l1.4 0.2M142.6 793.7l0.3 0.5M160.4 797.1l0.3 1.6M166.2 734.0l0.6 1.1M27.2 731.2l1.1 0.7M199.3 715.5l2.0 0.3M99.5 741.2l-1.3 0.3M68.7 706.3l0.1 1.0M204.3 738.8l-0.9 0.9M210.4 759.0l-0.7 0.8M78.0 704.1l0.5 1.5M78.0 716.1l0.7 0.5M148.7 749.9l0.4 0.4M120.7 698.6l-0.7 0.3M63.4 718.1l-0.2 0.2M179.8 815.0l-1.1 0.3M56.7 747.6l-0.3 0.3M178.8 804.5l-0.6 1.7M57.4 744.4l0.2 0.3M128.4 745.4l0.6 1.6M209.6 768.7l-0.2 0.2M114.4 805.2l1.0 1.7M117.1 712.9l0.2 0.3M174.4 826.4l-1.7 0.7M139.2 770.6l0.3 1.5M209.9 796.2l-1.3 1.3M148.9 800.0l1.4 0.9M141.7 814.0l-1.7 0.4M138.1 729.0l-0.1 1.0M158.2 823.2l-2.1 0.1M119.5 727.2l-1.0 0.7M165.7 797.1l-1.8 0.6M207.4 703.7l-0.0 0.5M177.8 811.8l-0.2 0.4M149.8 754.5l0.7 1.1M119.1 813.7l-0.0 1.5M175.7 823.2l-1.7 1.1M101.1 730.1l1.2 1.7M79.6 697.5l0.5 0.7M183.5 774.7l-1.5 1.5M174.2 721.1l-0.0 1.8M185.2 711.4l-0.7 0.4M150.3 791.6l-0.7 1.9M194.5 709.5l0.4 0.0M98.1 743.5l-1.2 0.5M153.0 823.4l0.4 1.7M212.2 815.8l0.1 0.5M160.7 732.1l0.8 1.5M169.1 811.1l-0.5 1.1M182.7 720.7l2.2 0.1M59.7 726.5l0.7 0.2M61.7 712.3l-1.6 1.2M159.2 781.3l-0.5 0.8M155.2 783.7l-1.1 1.1M99.6 789.5l-0.4 1.7M66.1 708.0l-0.2 1.2M150.7 798.2l1.2 1.3M75.8 712.3l0.4 0.1M103.5 745.2l-0.1 0.3M194.8 703.8l-0.5 0.2M31.0 703.5l0.1 0.7M201.5 732.8l0.1 1.4M111.3 741.9l1.0 0.7M58.3 709.7l-0.5 0.0M167.1 788.8l0.5 0.4M113.3 714.1l0.2 0.1M103.2 795.0l-2.1 0.3M175.2 776.1l1.8 0.2M31.1 699.6l-0.1 0.6M148.1 747.3l-0.4 0.2M199.7 764.1l-0.6 1.4M121.3 706.3l-0.4 0.5M91.3 789.7l1.3 0.6" stroke="#8c523a" stroke-width="2.64" stroke-linecap="round" fill="none" opacity="0.75"/>
</g>
<g clip-path="url(#clIL)">
<rect x="23.4" y="763.1" width="64.1" height="63.89999999999998" fill="#d5dbd9"/>
<g filter="url(#ragG)">
<polygon points="30,775 42,771 55,772 65,779 70,790 71,802 66,806 58,803 50,800 42,798 36,792 31,785" fill="#c4aca6" opacity="0.9" stroke-linejoin="round"/>
<polygon points="31.69,784 31.34,791.07 28.65,799.23 25.5,797.61 23.16,793.17 22.42,784 22.95,775.91 25.42,771.87 28.74,770.55 30.91,775.16" fill="#c4aca6" opacity="0.9" stroke-linejoin="round"/>
<polygon points="86.38,793 86,811.35 82.5,817.13 79.04,815.61 77.87,793 79.34,771.01 82.5,761.42 85.64,773.15" fill="#c4aca6" opacity="0.9" stroke-linejoin="round"/>
<polygon points="68.37,823 64.43,826.61 54.28,828.15 38.33,828.36 28.06,826.42 20.92,823 23.71,819 37.07,817.71 54.3,816.96 68.86,819.85" fill="#c4aca6" opacity="0.9" stroke-linejoin="round"/>
<polygon points="65.89,767 61.81,770.31 51.62,772.05 39.08,772.32 24.68,770.35 24.05,767 24.62,764.41 39.07,762.01 52.79,762.91 64.6,763.92" fill="#c4aca6" opacity="0.9" stroke-linejoin="round"/>
<polygon points="68.96,812 68.05,816.7 65.41,820.52 62.34,818.85 59.81,816.84 58.34,812 59.48,807.93 62.49,805.18 65.66,805.34 68.44,807.13" fill="#c4aca6" opacity="0.9" stroke-linejoin="round"/>
<polygon points="84.26,766 83.39,768.51 79.93,769.86 76.14,769.27 73.59,768.48 72.15,766 72.64,763.73 76.02,761.85 80.04,762.5 83.01,763.67" fill="#c4aca6" opacity="0.9" stroke-linejoin="round"/>
</g>
<ellipse cx="60.0" cy="795.0" rx="8.0" ry="8.0" fill="#8f6250" opacity="0.45"/>
<ellipse cx="27.0" cy="781.0" rx="3.5" ry="5.0" fill="#8c523a" opacity="0.55"/>
<ellipse cx="81.5" cy="794.0" rx="3.5" ry="4.5" fill="#8c523a" opacity="0.65"/>
<ellipse cx="63.0" cy="786.0" rx="3.0" ry="3.0" fill="#8c523a" opacity="0.5"/>
<path d="M33.0 763.3l-0.5 1.1M28.2 779.3l-0.0 1.6M65.5 809.2l-0.7 1.2M79.7 814.9l3.8 2.2M28.2 779.1l0.8 0.1M23.2 777.9l0.9 1.3M64.0 807.4l-0.4 2.2M67.7 821.8l3.3 1.7M37.9 771.6l-0.6 0.8M30.6 819.9l0.6 0.3M60.7 764.1l-0.1 2.9M67.5 813.1l-0.8 0.9M33.9 765.5l-3.6 1.6M56.3 827.0l0.1 0.7M50.5 823.1l2.8 1.7M45.7 792.2l2.8 0.6M40.5 769.3l-0.2 0.2M45.4 770.6l1.1 0.5M40.9 783.0l0.7 3.7M62.3 815.0l-1.5 1.1M73.6 766.9l2.5 0.1M80.0 814.0l1.2 0.8M64.7 812.0l-1.4 0.3M26.7 819.3l1.0 2.9M44.4 766.9l-0.4 0.1M81.2 765.2l-0.8 2.9M65.5 786.5l0.6 0.2M80.3 767.0l0.8 1.4M27.9 790.5l-2.5 3.5M66.3 813.9l-1.0 1.7M56.2 792.1l-4.1 0.0M49.0 821.1l0.4 2.1" stroke="#7d64ae" stroke-width="4.18" stroke-linecap="round" fill="none" opacity="0.8"/>
<path d="M27.1 773.4l-0.0 0.6M76.6 767.2l-1.2 2.4M28.2 785.9l0.2 2.3M39.9 763.9l-2.3 0.7M73.8 763.4l-1.9 2.8M36.8 823.9l-1.2 1.4M34.2 826.5l-3.5 0.5M76.4 762.8l3.6 0.9M82.7 786.2l2.9 1.7M79.4 765.7l-1.3 2.7M77.2 764.9l0.6 1.1M29.7 793.3l0.5 0.3M55.1 767.9l0.7 0.3M25.2 785.3l-1.8 1.1M62.2 798.4l-3.3 1.6M73.8 768.2l0.2 0.8M69.3 802.0l-0.6 0.2M37.8 779.6l-0.1 3.2M36.4 818.5l1.1 0.4M39.0 769.9l-0.2 0.5M35.0 775.2l-2.6 1.2M54.1 774.0l-0.5 2.9M22.6 821.9l2.9 1.4M30.0 775.5l-0.2 1.5M29.9 787.2l-1.5 1.0M67.7 816.5l2.6 0.4M40.7 773.7l2.2 0.3M84.5 809.5l1.3 1.0M25.9 787.0l0.7 2.6M84.3 768.1l-0.6 1.3M80.9 803.6l2.2 1.9M81.5 789.9l2.2 0.5" stroke="#6b569f" stroke-width="3.9600000000000004" stroke-linecap="round" fill="none" opacity="0.7"/>
<path d="M80.4 799.3l-1.7 1.9M64.6 807.8l0.5 0.0M65.2 820.2l-1.4 2.8M78.5 765.6l-1.6 3.6M67.8 811.3l-1.1 1.5M32.4 818.2l-1.1 0.1M83.4 793.7l1.6 0.6M76.1 767.0l2.3 0.2M65.3 819.5l-0.1 0.9M79.4 811.0l-0.7 1.8M49.2 768.9l-1.9 2.6M82.4 800.4l-2.2 1.6M48.1 789.8l2.2 0.7" stroke="#8c523a" stroke-width="4.840000000000001" stroke-linecap="round" fill="none" opacity="0.75"/>
</g>
<rect x="23.4" y="763.1" width="64.1" height="63.89999999999998" fill="none" stroke="#111" stroke-width="1.4"/>
<polygon points="53.8,770.7 60.6,768.6 60.9,777.5" fill="#e8302e"/>
<polygon points="28.9,788.6 26.3,797.9 31.7,797.9" fill="#4a6ed0"/>
<polygon points="78.5,776 83.8,776 81.1,784.3" fill="#4a6ed0"/>
<polygon points="70.6,800.1 77.1,806.1 72.1,809.4" fill="#4a6ed0"/>
<polygon points="62.5,807.2 59.9,816.5 64.9,816.5" fill="#4a6ed0"/>
<rect x="113.2" y="725.5" width="39.2" height="37.8" fill="none" stroke="#111" stroke-width="1.2"/>
<line x1="23.4" y1="763.1" x2="113.2" y2="725.5" stroke="#111" stroke-width="1.2"/>
<line x1="87.5" y1="827" x2="152.4" y2="763.3" stroke="#111" stroke-width="1.2"/>
<g clip-path="url(#clR)">
<rect x="219.6" y="699" width="192.00000000000003" height="127.60000000000002" fill="#d4c2c6"/>
<g filter="url(#ragG)">
<polygon points="300,699 411.6,699 411.6,753 404.5,752 395.8,751 385,748 375,742 368,735 362.2,728.7 350.5,722.8 336,714 314,712.6 305,706" fill="#d5dbd9" opacity="1" stroke-linejoin="round"/>
<polygon points="231.39,729.78 229.16,732.42 226.77,734.35 224.09,734.61 222.32,732.58 221.76,729.63 222.04,726.38 223.69,723.33 226.21,721.02 229.17,720.66 231.29,722.76 232.26,726.02" fill="#d5dbd9" opacity="1" stroke-linejoin="round"/>
<polygon points="247.13,743.81 245.51,746.78 242.63,749.84 237.5,752.22 232.29,754.75 227.58,755.31 226.4,753.48 226.27,751.27 230.18,748.26 234.13,744.99 239.46,743.63 243.71,743.22" fill="#d5dbd9" opacity="1" stroke-linejoin="round"/>
<polygon points="264.26,713.49 263.81,716.17 262.3,718.02 260.65,717.82 259.26,717.03 258.66,714.91 258.4,712.45 259.31,710 260.71,708.1 262.27,708.65 263.73,708.99 264.83,710.76" fill="#d5dbd9" opacity="1" stroke-linejoin="round"/>
<polygon points="231.32,703 231.35,704.55 228.91,705.52 226,705.72 223.14,705.47 220.23,704.67 220.41,703 220.84,701.51 222.74,700.17 226,700.28 228.66,700.7 231.32,701.46" fill="#d5dbd9" opacity="1" stroke-linejoin="round"/>
<polygon points="246.12,730 245.08,731.33 244.16,732.81 242,733.19 239.95,732.66 238.75,731.41 237.59,730 238.77,728.6 239.76,727.09 242,726.96 244.2,727.15 245.5,728.48" fill="#d5dbd9" opacity="1" stroke-linejoin="round"/>
<polygon points="343.64,742.49 344.14,745.84 340.38,749.13 335.96,751.39 330.75,753.33 326.04,752.47 325.44,749.11 324.05,746.16 327.12,742.63 332.09,740.75 336.73,739.83 340.36,740.83" fill="#d5dbd9" opacity="1" stroke-linejoin="round"/>
<polygon points="296.99,784 295.17,788.05 293.74,792.42 290.5,793.64 287.15,792.7 285.79,788.08 284.05,784 285.82,779.95 287.78,776.93 290.5,774.25 293.24,776.88 295.99,779.24" fill="#d5dbd9" opacity="1" stroke-linejoin="round"/>
<polygon points="333.18,790.92 331.41,796.14 327.54,801.05 321.7,805.94 314,807.76 306.75,808.17 303.78,804.63 304.71,799.84 309.34,795.23 314.3,790.07 322.11,787.97 327.21,789.67" fill="#d5dbd9" opacity="1" stroke-linejoin="round"/>
<polygon points="369.34,766.78 368.55,770.59 366.71,774.1 362.7,776.04 358.56,776.51 354.42,775.91 351.61,773.24 351.55,769.35 353.67,765.49 357.87,762.77 362.78,762.34 366.26,764.4" fill="#d5dbd9" opacity="1" stroke-linejoin="round"/>
<polygon points="381.8,787.78 383.46,792.59 380.72,797.92 377.11,802.09 372.45,806.8 367.33,805.33 361.99,804.4 359.98,799.58 362.58,793.93 366.18,789.06 371.63,787.18 376.55,786.9" fill="#d5dbd9" opacity="1" stroke-linejoin="round"/>
<polygon points="392.61,766.31 391.35,769.14 387.88,771.28 383.8,772.56 379.69,772.53 375.3,772.06 374.62,769.48 375.76,767.01 377.41,764.25 382.17,763.3 386.39,763.35 390.36,764.12" fill="#d5dbd9" opacity="1" stroke-linejoin="round"/>
<polygon points="408.1,762.69 408.22,765.86 405.41,769.14 401.07,771.69 396.24,772.22 391.89,771.78 388.57,769.79 390.47,766.13 392.65,762.89 396.97,760.41 401.89,759.49 405.84,760.44" fill="#d5dbd9" opacity="1" stroke-linejoin="round"/>
<polygon points="410.15,794.21 410.28,799.23 405.75,802.24 401.54,804.75 396.02,805.53 393.18,801.22 389.7,797.82 390.99,793.17 393.71,789.18 398.35,786.65 403.36,787.96 406.94,790.68" fill="#d5dbd9" opacity="1" stroke-linejoin="round"/>
<polygon points="345.2,814 344.8,816.79 341.97,818.28 339,819.52 335.99,818.34 333.58,816.61 332.77,814 333.47,811.34 335.89,809.51 339,808.78 342.15,809.45 343.89,811.65" fill="#d5dbd9" opacity="1" stroke-linejoin="round"/>
<polygon points="310.55,786 309.33,787.54 307,788.6 304,789.09 301.11,788.5 299.13,787.41 297.4,786 299.16,784.6 301.1,783.49 304,782.93 307,783.4 308.69,784.65" fill="#d5dbd9" opacity="1" stroke-linejoin="round"/>
<polygon points="272.44,743.38 272.78,744.67 270.82,746.08 268.85,747.34 266.54,747.62 264.73,747.39 262.76,746.91 263.57,745.3 264.93,743.83 267.23,742.89 269.48,742.35 271.66,742.33" fill="#d5dbd9" opacity="1" stroke-linejoin="round"/>
<polygon points="289.15,731.49 289.07,732.99 287.56,734.32 285.86,735.36 283.94,735.54 281.95,735.55 281.57,734.25 281.49,733.01 282.57,731.75 284.1,730.52 286.24,730.04 287.79,730.67" fill="#d5dbd9" opacity="1" stroke-linejoin="round"/>
<polygon points="255.32,720.08 255.85,721.05 254.35,722.45 253.06,723.84 251.17,724.39 249.26,724.85 248.74,723.88 248.19,722.94 249.18,721.46 251.04,720.35 252.8,719.68 254.58,719.32" fill="#d5dbd9" opacity="1" stroke-linejoin="round"/>
<polygon points="303.89,757.75 304.46,758.9 303.1,760.6 301.3,762.25 299.02,762.83 296.73,763.39 295.91,762.36 295.55,761.1 296.58,759.34 298.85,758.01 301.04,757.01 303.29,756.59" fill="#d5dbd9" opacity="1" stroke-linejoin="round"/>
<polygon points="281.79,758.23 281.9,759.39 280.26,760.64 278.82,761.76 276.96,762.33 275.03,762.59 274.38,761.69 274.58,760.53 275.66,759.33 277.17,758.21 279.04,757.68 280.4,757.9" fill="#d5dbd9" opacity="1" stroke-linejoin="round"/>
<polygon points="334.06,724.28 333.94,725.53 332.25,726.49 330.38,727.14 328.21,727.43 326.43,726.87 325.63,725.77 326.18,724.49 327.87,723.59 329.63,722.91 331.58,722.86 333.45,723.19" fill="#d5dbd9" opacity="1" stroke-linejoin="round"/>
<polygon points="233.21,812 232.8,814.15 231.38,815.18 230,815.74 228.32,815.87 227.5,813.92 226.93,812 227.45,810.03 228.42,808.36 230,808.48 231.61,808.28 232.85,809.8" fill="#d5dbd9" opacity="1" stroke-linejoin="round"/>
<polygon points="414.19,812 413.34,814.41 412.09,816.53 410,816.65 407.87,816.61 406.29,814.68 405.91,812 406.33,809.35 407.91,807.47 410,806.68 412.19,807.25 413.68,809.34" fill="#d5dbd9" opacity="1" stroke-linejoin="round"/>
<polygon points="356.13,798.5 356.5,801.72 355.29,803.78 353.9,805.23 351.89,806.12 349.99,803.61 347.91,801.49 347.49,798.28 348.66,796.16 349.76,793.84 352.11,794.14 354.08,796.27" fill="#d5dbd9" opacity="1" stroke-linejoin="round"/>
<polygon points="355.97,705 353.46,708.01 342.52,709.5 327.48,710.42 315.33,707.88 314.68,705 317.75,701.91 329.04,700.54 340.97,700.78 351.79,702.02" fill="#d4c2c6" opacity="0.6" stroke-linejoin="round"/>
<polygon points="412.52,712 411.42,719.05 408.11,722.85 404.24,722.25 400.72,719.25 399.19,712 400.76,705.66 403.91,702.05 407.68,698.91 410.23,703.98" fill="#d4c2c6" opacity="0.6" stroke-linejoin="round"/>
</g>
<path d="M307.8 825.7l0.9 1.7M342.8 759.5l-0.3 0.7M310.6 813.7l-1.9 1.2M304.8 730.2l0.5 0.4M256.2 736.1l-0.8 2.0M227.3 805.8l1.1 0.7M316.5 717.2l0.2 1.2M292.6 776.3l-0.2 0.9M393.8 753.2l-1.2 1.8M379.9 751.1l-1.0 1.5M221.1 789.1l0.1 0.6M302.0 737.5l0.4 1.6M305.0 746.1l-0.3 0.7M295.0 704.2l-1.4 0.3M284.3 711.8l0.8 1.0M256.7 730.7l0.3 2.0M409.4 817.2l2.2 0.5M362.3 728.9l0.3 0.6M367.2 775.3l-2.0 0.7M286.2 817.1l-0.5 1.5M257.2 784.1l0.1 1.2M304.4 708.0l-0.9 0.4M311.5 816.7l0.2 0.5M248.5 826.3l0.6 0.9M226.2 825.2l0.7 0.8M341.6 750.1l-1.3 1.3M220.3 823.2l0.4 1.1M257.3 753.7l0.4 0.6M269.3 756.7l-0.7 1.2M280.1 785.8l-0.1 0.3M229.1 788.3l0.7 0.8M255.1 769.3l-1.2 1.0M263.9 763.6l0.9 1.8M274.8 784.4l-1.8 0.7M379.2 784.9l-0.8 2.1M317.8 752.2l-1.2 1.4M405.0 807.0l0.3 2.0M222.7 722.9l-1.5 0.4M289.2 800.4l-0.3 0.0M233.9 774.0l-1.2 0.2M223.7 706.4l0.5 1.5M252.3 729.9l0.6 0.1M266.6 700.6l1.5 1.0M324.5 724.5l-0.0 0.5M395.4 813.0l-1.6 0.2M284.2 750.1l-0.1 0.2M241.1 796.5l-1.2 1.8M308.2 783.6l-0.7 1.1M379.1 776.5l1.3 1.6M270.9 795.5l-0.1 0.9M349.2 818.7l-1.8 1.0M240.2 734.7l0.4 0.9M261.7 777.9l-0.7 1.9M220.4 824.5l-0.3 1.9M282.3 782.1l-0.1 0.3M282.5 768.4l0.8 0.8M322.5 705.6l-0.0 1.2M313.8 728.0l0.1 0.9M300.5 764.8l-1.8 0.4M251.7 783.4l0.2 0.5M226.0 819.7l0.2 1.0M305.8 735.9l-0.3 0.1M324.6 822.8l0.8 0.4M250.3 752.7l2.0 0.8M310.6 825.1l-0.6 1.8M236.0 701.2l0.7 0.2M248.8 787.3l0.8 1.4M401.6 704.8l-0.8 1.1M257.2 701.2l-0.8 0.2M336.6 774.9l1.7 0.3M242.3 708.0l-1.3 0.5M399.8 823.6l1.2 0.4M386.1 817.8l0.2 0.1M401.7 809.7l-0.9 0.7M323.2 766.3l-1.0 0.0M297.2 712.2l0.0 0.6M267.4 815.2l0.7 1.2M262.4 765.7l0.9 0.2M376.6 773.3l0.8 0.8M317.2 729.8l1.3 1.0M387.8 793.4l1.0 0.2M237.6 766.4l1.0 1.0M395.5 823.4l0.2 0.7M365.4 825.4l0.5 0.9M347.9 797.0l-0.5 0.4M273.9 757.7l-0.1 0.4M221.0 769.6l0.1 0.3M301.5 778.7l-2.3 0.1M256.6 720.4l0.5 1.5M290.3 744.0l0.2 0.6M332.5 722.9l-0.8 0.9M273.0 810.5l-0.7 1.4M253.7 803.0l-1.5 0.3M312.1 809.9l0.1 1.1M366.1 780.3l-0.1 1.3M240.9 699.2l-0.4 0.7M261.9 745.0l1.5 1.0M341.6 789.7l1.1 1.3M229.1 738.4l2.0 0.3M280.6 751.0l0.7 0.1M266.5 701.5l0.7 0.3M293.4 722.8l-1.6 0.7M228.3 776.2l-0.4 0.6M246.2 773.7l0.2 0.0M351.5 776.8l-0.2 1.9M270.7 709.2l0.5 0.1M297.6 705.2l0.2 0.2M340.5 721.4l-0.7 1.7M263.5 743.9l-0.5 0.2M363.3 756.6l-1.9 0.2M297.5 773.4l1.7 1.2M250.8 713.9l-2.1 0.1M266.6 763.5l0.3 1.8M357.6 740.3l-1.8 0.6M264.4 782.8l0.1 1.6M366.3 760.5l0.6 1.9M268.5 757.9l0.6 0.6M316.8 720.3l0.4 1.3M319.0 705.3l1.4 1.7M405.3 773.6l-1.9 0.8M278.4 788.5l0.8 0.8M358.3 735.1l0.6 0.6M299.5 779.7l-0.1 0.4M243.8 788.7l0.0 1.0M302.5 730.8l-0.7 0.5M343.4 780.7l1.6 1.0M281.4 819.1l1.0 0.8M316.8 813.7l-1.3 0.4M341.7 718.4l1.4 1.8M406.3 776.9l-0.0 0.2M260.7 721.0l-0.4 0.5M239.9 702.6l-1.1 0.5M246.4 749.1l1.4 1.6M257.3 806.2l-0.4 0.0M374.5 775.8l-0.4 0.3M336.0 800.8l1.7 1.1M396.2 779.6l0.4 1.8M263.0 792.7l-0.5 0.5M255.2 746.6l0.3 0.4M310.9 820.8l-1.1 1.0M340.6 791.5l1.1 0.3M379.1 746.3l-0.4 0.6M328.0 758.3l-1.3 0.1M384.4 775.8l-1.1 0.9M377.4 779.1l-0.7 1.9M330.0 789.4l-0.5 0.2M330.6 790.1l0.1 1.1M238.6 809.9l-2.0 0.2M291.2 752.2l-0.6 1.8M295.8 813.5l-1.3 1.2M345.5 737.5l0.6 1.3M253.0 803.9l1.2 0.4M284.1 705.0l0.3 0.0M346.8 733.6l-0.2 1.0M296.6 766.4l0.2 0.8M283.2 788.1l-1.2 1.6M231.4 783.9l1.9 0.3M258.9 743.8l1.0 0.0M373.9 759.3l0.3 1.6M240.5 783.6l1.3 1.3M234.3 730.4l1.1 0.0M250.5 825.8l1.3 0.6M299.2 724.4l-0.5 0.3M284.6 740.5l1.3 0.5M299.7 818.1l-1.3 1.1M318.2 779.0l0.1 0.8M347.5 815.7l-0.8 0.6M262.1 719.6l0.8 1.5M289.2 825.4l-0.1 1.9M271.5 715.5l0.2 0.3M305.2 749.2l1.0 0.8M397.9 775.9l-0.9 1.7M332.8 770.8l1.7 1.5M268.2 760.2l0.1 1.0M323.1 764.8l-2.1 0.1M295.2 733.6l0.2 0.1M227.4 763.9l-0.9 1.1M312.1 753.5l-1.2 0.0M228.3 741.3l0.0 1.0M298.5 755.2l0.1 0.2M390.1 811.1l-0.7 1.3M344.9 744.5l0.4 0.3M244.6 796.9l0.3 0.4M222.8 709.0l-1.3 1.3M379.3 773.6l0.7 2.0M282.1 739.3l1.9 0.5M317.0 816.1l1.2 0.5M270.4 754.0l-0.9 0.9M316.6 754.4l0.8 1.4M410.9 764.5l-0.6 0.9M320.6 717.6l-0.5 2.1M279.8 797.2l1.0 0.1M225.3 823.4l0.0 0.9M252.7 800.5l-1.6 0.1M277.3 819.3l1.1 1.6M315.6 752.3l0.6 0.3M223.8 806.1l-1.3 0.7M260.1 799.5l-1.0 1.0M243.0 714.0l-1.6 0.6M368.2 814.6l0.2 1.0M268.2 811.0l-1.0 1.3M274.4 748.7l0.5 0.7M236.6 742.0l-0.8 0.9M406.0 779.6l0.0 0.4M295.5 793.4l-0.4 0.5M248.7 707.9l1.4 0.3M303.2 813.6l-0.0 0.8M402.4 786.9l2.2 0.6M359.6 743.4l-0.8 0.9M244.1 721.9l0.7 1.6M260.1 703.2l-0.6 1.2M317.4 775.6l-0.2 0.1M403.9 786.9l-0.1 0.5M254.4 802.0l-0.9 1.6M322.0 758.8l-1.4 1.4M309.3 712.7l-0.6 1.6M299.7 782.0l-1.1 0.2M228.3 715.0l-1.5 1.7M411.0 825.6l0.2 0.2M323.8 767.0l0.6 1.2M264.7 763.1l-0.3 0.3M295.6 813.5l0.7 0.4M270.5 810.9l0.1 1.0M310.8 715.4l0.7 1.2M253.5 809.9l0.1 0.3M263.7 824.7l0.5 0.8M262.8 815.7l0.0 0.7M354.5 743.0l1.1 1.6M275.5 743.5l0.2 0.3M338.4 739.3l-0.8 2.0M386.4 756.5l-1.2 0.6M253.4 794.0l0.4 2.2M291.0 769.0l-1.3 1.7M238.3 779.9l-0.1 1.2M304.0 744.2l-0.3 1.5M277.7 788.6l0.5 0.8M348.0 744.2l-0.5 0.2M349.9 778.2l-0.9 0.1M243.0 738.0l-0.6 1.4M298.1 783.2l-0.1 0.6M284.6 702.3l0.3 0.7M356.6 820.8l-0.3 1.7M370.3 810.4l-0.2 0.5M325.2 807.8l0.2 1.1M329.5 782.1l2.0 0.3M304.9 816.8l-1.1 0.8M401.7 773.1l2.1 0.2M406.5 804.1l0.5 0.4M409.0 802.0l0.0 0.7M246.3 784.0l-1.9 0.3M252.6 700.2l0.4 0.4M406.7 782.9l-1.0 0.1M339.1 738.4l1.7 0.2M247.7 764.4l1.5 1.6M320.9 811.4l-0.8 1.4M236.0 811.3l-0.2 1.8M224.0 785.4l0.5 0.2M342.2 822.6l1.2 0.6M400.5 809.3l-0.1 0.6M393.4 787.1l0.2 0.2M371.2 816.6l1.2 1.9M246.3 800.4l-0.2 0.3M313.4 763.8l1.9 1.0M222.9 777.7l1.2 1.5M250.2 804.4l-2.0 0.4M389.4 761.5l0.1 0.3M279.6 786.3l0.0 0.7M262.8 749.9l-0.2 1.2M282.5 771.2l-0.4 1.4M267.7 739.7l0.4 0.1M312.3 768.2l0.5 0.2M221.0 754.3l1.5 0.1M261.3 800.1l-0.5 1.2M256.3 699.8l0.3 0.5M395.3 774.1l-0.6 2.1M291.5 713.5l0.2 0.3M384.3 824.0l0.3 0.4M342.4 782.7l0.2 0.1M350.5 777.6l1.8 0.7M304.1 754.8l-1.2 1.6M261.3 808.0l-0.8 1.8M273.6 805.8l0.3 0.9M267.5 748.9l-0.7 0.9M354.2 817.2l1.4 1.8M229.2 779.7l-0.1 0.3M260.8 756.2l-1.6 0.3M376.8 761.7l-0.5 1.4M404.5 774.8l-1.4 0.1M403.8 774.7l0.1 0.2M229.7 777.7l-0.5 1.1M396.0 814.5l1.0 1.5M236.2 781.4l0.4 0.5M293.5 727.1l-1.5 1.0M234.0 775.2l0.5 0.1M317.4 759.5l1.8 1.2M264.7 747.5l-0.3 1.2M304.3 752.0l-0.6 1.1M259.6 769.1l-1.7 0.6M411.6 786.5l-0.5 0.4M277.4 819.3l0.9 0.2M262.1 777.5l-0.5 1.3M287.5 720.2l-0.4 0.2M338.3 774.7l-0.7 0.4M243.0 757.3l0.1 2.3M325.2 762.6l-0.3 0.2M257.5 719.9l-1.5 0.4M394.3 754.0l-1.4 0.2M361.2 791.1l0.1 0.3M327.0 807.5l0.8 1.6M348.5 769.9l-1.8 0.2M259.2 706.3l-0.5 0.2M352.6 740.4l-0.4 1.5M375.3 748.5l0.7 1.3M335.7 728.6l0.8 0.2M248.8 799.6l0.1 0.3M239.4 782.0l0.1 1.8M266.8 773.4l0.9 1.0M279.4 825.4l0.7 0.1M310.5 757.4l-1.5 1.4M262.4 708.3l-1.2 0.3M385.0 773.1l-0.6 2.0M231.7 794.2l1.3 1.8M250.9 713.3l-0.3 0.6M284.6 758.1l0.2 0.7M269.6 748.9l0.5 0.0M334.1 823.1l-0.8 0.7M377.9 823.3l1.8 0.6M249.1 826.2l1.7 0.2M231.7 705.4l0.4 0.1M256.8 793.7l1.0 0.8M357.4 750.6l-0.1 0.5M223.7 817.5l-0.7 1.6M355.1 728.3l0.3 0.8M274.4 738.6l1.5 0.7M337.7 790.2l-0.9 1.2M240.2 786.9l-0.7 1.9M299.2 808.2l-0.5 1.5M274.5 819.4l-0.2 1.1M293.1 816.3l-1.2 0.2M287.6 706.1l0.3 0.2M267.3 785.3l1.7 1.5M389.6 813.1l-1.0 0.4M314.4 729.8l0.0 0.4M335.2 794.4l-1.6 0.8M296.8 704.5l-1.6 1.5M254.7 789.6l0.4 0.5M327.8 807.6l0.3 0.2M270.4 779.8l-0.2 0.2M244.5 791.5l1.5 1.0M222.8 795.7l-0.4 0.2" stroke="#7d64ae" stroke-width="2.1849999999999996" stroke-linecap="round" fill="none" opacity="0.8"/>
<path d="M303.2 739.1l1.3 0.5M255.3 734.0l-0.0 1.2M337.5 760.9l0.3 0.4M392.4 801.8l0.8 1.0M336.2 775.1l-0.9 0.7M369.6 812.2l1.3 0.0M289.7 795.8l-1.2 0.4M227.7 805.4l0.3 0.3M256.4 820.9l0.2 0.2M379.7 782.2l0.3 0.2M242.6 800.8l-0.6 0.9M220.5 751.3l0.7 0.2M375.4 807.5l-0.6 1.5M400.5 753.4l-0.2 1.0M367.2 755.3l-0.2 0.1M228.2 763.1l-1.1 1.0M411.2 788.1l0.8 0.0M327.4 785.0l0.3 0.6M398.7 820.5l1.1 1.1M277.4 789.6l0.5 1.0M311.6 717.7l1.0 0.5M257.7 718.4l1.5 0.6M237.3 723.4l-0.1 1.8M240.0 765.1l-1.1 0.1M391.8 786.0l-1.1 1.0M307.4 743.9l0.8 0.6M324.1 781.8l0.3 0.1M354.6 726.6l1.0 1.0M298.1 815.8l-0.5 0.1M345.9 778.1l-0.4 0.1M235.4 782.3l-0.8 1.2M239.9 705.6l-0.5 0.7M345.5 726.7l-1.2 1.0M356.3 780.6l-0.0 1.4M252.3 771.8l-0.3 1.0M336.2 798.1l0.6 1.4M267.2 778.6l-0.5 0.6M325.2 825.2l0.7 1.2M288.2 745.8l-0.6 0.9M331.2 763.8l0.1 0.4M371.2 816.0l1.5 0.6M331.3 739.1l1.0 0.6M282.3 787.9l0.6 0.4M356.4 753.2l-0.4 1.4M252.5 715.5l-0.2 0.5M229.3 767.7l1.7 0.3M241.6 737.2l-0.5 0.4M261.8 762.6l0.6 0.8M277.6 776.9l-1.6 0.9M322.3 702.2l-1.6 0.4M267.0 702.8l-1.1 0.3M259.9 724.7l0.5 0.5M317.1 753.6l1.0 0.2M276.0 823.2l0.1 1.0M227.1 771.1l-0.9 0.9M300.1 817.3l1.6 0.3M335.1 780.0l-1.1 0.1M273.9 769.5l0.0 1.1M350.6 793.5l-0.2 0.1M310.8 736.4l-1.3 0.9M223.6 706.7l-1.1 1.0M336.8 793.4l0.1 0.2M238.1 824.4l1.8 0.3M385.9 757.7l-1.7 0.2M351.6 739.7l-0.0 0.3M383.7 800.7l-0.8 0.3M307.0 808.6l-1.0 1.4M329.2 764.9l-0.2 0.4M262.6 724.8l-1.0 0.6M390.8 816.0l1.3 0.8M314.5 759.7l-0.4 0.3M344.1 805.9l-0.4 0.2M370.7 761.5l-1.8 0.1M367.2 782.4l-1.4 0.1M244.4 723.3l-1.6 0.8M286.8 812.9l0.2 1.5M289.8 803.0l-0.9 0.4M283.2 716.9l-0.1 1.9M273.4 730.3l-0.1 0.4M350.6 790.7l-1.1 0.3M297.6 720.8l0.9 1.4M359.2 787.7l1.7 0.2M309.5 780.5l1.8 0.2M228.8 794.1l-0.2 1.2M271.9 777.3l0.1 1.6M300.1 800.2l-1.3 0.0M273.0 775.8l-1.3 0.8M294.1 817.9l0.6 1.6M334.1 794.7l-0.6 0.4M363.5 745.5l-0.9 1.1M408.0 803.5l0.5 0.6M369.0 744.8l-0.9 0.7M292.0 725.5l1.2 0.4M345.1 762.2l-0.6 0.2M261.2 809.4l-0.5 1.4M319.6 731.4l0.0 0.3M351.7 744.9l0.8 1.3M222.9 773.1l-0.6 0.5M223.2 748.7l1.9 0.1M296.0 713.6l0.3 0.3M410.9 825.7l-0.6 1.7M275.4 813.3l1.4 0.1M348.3 729.3l0.8 0.9M340.6 788.1l-0.5 1.7M270.4 740.0l0.0 1.8M395.3 775.9l-1.1 0.5M351.1 776.3l0.8 0.0M327.7 732.7l1.7 0.1M402.9 703.6l-0.3 1.1M333.6 809.9l1.3 1.1M300.0 718.9l-1.5 0.6M243.3 766.4l-0.6 1.0M274.2 772.8l0.3 0.1M260.0 733.7l0.5 0.8M299.6 809.1l0.1 0.9M332.1 721.1l-0.2 0.3M265.1 768.6l-1.2 1.0M345.6 752.5l0.3 0.9M322.3 778.2l1.7 0.2M278.5 811.4l1.2 0.5M265.8 816.3l1.9 0.1M312.1 773.8l1.5 0.9M278.5 820.1l1.2 0.3M323.0 740.4l0.2 0.1M253.1 768.8l0.1 0.3M305.9 810.4l-0.5 0.0M245.4 756.9l0.5 0.5M267.9 821.7l-0.7 0.1M227.5 709.3l0.1 0.5M250.7 701.0l0.2 0.1M248.1 735.8l-0.4 0.7M372.8 769.2l0.3 0.3M370.8 750.6l0.3 0.2M274.7 776.7l-0.2 0.9M296.6 787.0l-0.0 0.8M333.0 708.6l-0.5 0.2M351.6 806.9l0.8 1.5M224.4 804.1l-0.4 0.2M329.8 755.0l-0.4 0.5M287.7 748.7l1.2 0.6M333.1 816.2l0.3 0.1M301.3 703.2l-1.2 1.0M359.1 806.7l-1.4 0.5M297.0 806.7l0.3 0.3M244.7 738.5l-0.3 0.2M299.4 804.7l0.8 1.7M356.3 737.0l0.2 0.1M222.1 779.5l-0.9 0.5M313.5 810.9l0.9 0.7M304.3 752.2l0.2 0.0M224.6 718.8l0.7 1.0M244.7 749.6l-0.6 0.2M312.4 775.1l0.7 0.1M249.2 701.6l-1.5 0.7M285.5 818.0l0.1 0.2M330.2 774.7l-0.3 0.1M299.9 725.1l-1.1 0.7M314.8 733.4l0.3 0.2M341.6 821.2l1.1 0.8M385.3 814.8l0.7 0.7M277.2 806.7l0.9 0.8M262.8 817.6l0.0 1.1M291.0 768.4l-1.1 0.8M267.4 724.8l1.6 0.7M284.4 771.3l1.4 0.5M317.6 762.3l1.1 0.1M346.0 764.7l-1.0 0.1M237.5 720.9l0.2 1.0M267.2 764.5l0.8 1.3M323.5 786.8l-0.9 1.5M245.3 804.7l1.0 0.8M340.1 720.1l0.6 0.5M357.4 798.4l-0.1 0.5M274.2 801.8l0.4 1.0M230.1 783.3l1.0 1.3M267.1 774.9l0.9 1.2M285.0 795.9l0.1 1.3M389.7 813.2l0.3 0.6M349.2 814.2l1.6 0.4M260.4 805.8l-0.9 0.3M326.8 777.5l0.8 0.4M294.6 807.8l0.4 0.8M276.2 710.0l-0.1 0.8M345.9 704.2l-0.1 0.4M298.2 704.0l1.1 1.2M364.0 734.8l1.3 0.4M225.9 792.6l-0.6 0.6M301.2 746.6l-0.1 1.2M307.2 762.1l0.2 1.1M354.5 822.8l0.3 0.4M278.4 709.5l-0.4 0.2M291.2 823.3l0.1 0.4M315.7 774.2l1.6 0.9M410.8 719.2l-0.2 0.5M361.4 788.3l0.3 0.7M326.5 761.7l0.1 0.3M244.2 724.3l-0.4 0.7M304.9 740.4l0.8 1.5M342.3 753.3l0.9 0.6M385.0 750.7l0.2 0.0M403.9 786.0l0.8 0.1M385.9 802.4l-0.5 1.1M260.9 784.1l0.1 0.2M331.5 780.1l-0.0 1.1M341.9 723.5l-1.9 0.2M245.9 787.0l0.7 1.1M232.5 825.3l-0.5 1.6M344.9 764.4l-1.4 0.1M304.7 768.1l0.2 0.2M362.8 819.8l-0.0 0.5M258.8 806.2l-0.7 1.5M285.0 773.9l0.2 0.3M246.7 737.0l-0.9 0.2M411.6 780.4l-0.5 0.2M272.7 713.6l-0.4 0.1M348.2 826.5l0.9 0.2M320.8 781.0l-0.3 1.4M249.5 818.4l-0.3 1.4M362.5 782.4l1.9 0.1M309.4 759.2l0.4 1.8M317.1 758.0l0.6 0.5M333.7 824.1l-0.6 1.1M262.4 788.4l0.5 1.5M277.0 710.2l-0.3 0.2M288.9 700.3l1.6 1.2M233.6 762.4l1.1 0.9M293.6 715.4l1.2 0.3M361.1 792.1l-0.2 0.7M384.9 799.1l0.3 0.1M349.2 806.5l1.2 1.1M262.8 775.1l0.3 0.2M230.2 745.0l1.1 1.4M408.0 791.8l-0.1 0.3M277.6 756.2l-0.0 0.5M368.1 764.2l0.2 1.5M312.5 713.8l-1.2 0.0M358.5 786.3l-0.2 0.4M364.9 748.9l0.3 0.2M308.1 741.3l0.5 0.4M358.3 742.3l-0.3 0.4M390.1 774.2l-0.2 1.2M256.3 761.6l0.5 1.0M370.4 758.8l1.2 1.4M248.1 746.6l-0.4 0.2M234.2 775.6l-0.9 0.6M397.4 787.0l0.5 0.3M370.7 741.1l-0.2 1.3M228.1 763.9l-0.6 1.0M361.9 729.5l0.6 0.6M387.5 792.8l1.4 0.7M288.6 747.2l0.4 0.2M285.2 719.0l0.3 0.8M377.3 760.0l-0.1 1.2M270.2 701.9l0.5 1.3M239.9 733.6l0.5 0.2M249.3 710.7l-1.6 0.8M271.8 714.5l-0.4 0.8M310.7 793.2l0.0 0.2M383.5 814.2l-0.6 0.6M306.2 819.1l-1.2 1.5M240.6 780.4l-0.5 0.1M261.1 809.8l0.0 1.9M376.2 813.1l0.4 0.1M407.7 722.4l-0.9 1.5M307.5 768.4l-0.5 0.4M409.6 756.6l-0.8 0.7M244.9 779.2l-0.4 0.0M362.5 824.8l-1.2 0.7M398.5 776.7l0.9 1.7M332.6 805.7l-0.4 1.8M269.6 712.1l0.7 1.0M231.0 793.7l-0.4 0.1M278.4 739.2l1.9 0.0M224.9 756.3l-0.0 0.5M285.5 743.0l1.2 1.3M251.2 746.8l-1.7 0.2M286.3 768.0l0.2 0.6M346.9 740.0l-0.1 0.5M233.0 767.3l0.9 1.2M268.3 782.2l0.8 0.6M359.8 784.1l0.5 0.9M377.3 773.8l-0.1 0.5M292.5 732.2l0.8 1.0M305.3 735.9l-0.7 0.5M241.9 822.7l1.2 0.3M336.8 780.9l-1.4 0.1M377.3 772.9l0.3 0.7M350.7 762.5l-1.1 0.5M238.5 739.5l0.6 0.0M250.0 736.3l-0.1 1.7M303.7 782.5l-0.5 0.7M323.5 782.9l0.9 1.0M323.3 764.1l-1.2 0.7M292.0 750.9l0.3 0.6M261.8 812.4l0.8 0.6M298.5 739.2l-1.5 0.6M315.6 813.0l-0.5 0.5M311.2 760.0l0.0 0.7M386.9 788.6l0.4 0.1M268.6 825.1l-0.1 0.4M312.5 741.7l-0.0 0.9M231.2 780.3l0.6 0.0M285.4 793.7l-0.2 0.1M225.0 779.8l0.9 0.9M320.6 763.8l-1.7 0.1M227.0 785.7l1.6 0.2M346.0 728.1l0.1 1.5M267.9 782.9l0.7 1.5M392.6 784.5l-0.2 0.4M328.8 788.2l-0.1 0.2M232.1 734.4l0.8 0.7M286.4 741.9l-0.0 1.8M339.0 728.9l-0.5 0.4M340.7 778.1l-0.7 0.1M253.0 745.0l0.8 1.0M342.4 729.0l-1.4 0.4M302.0 720.5l0.0 0.3M399.0 773.3l-1.2 0.1M375.7 775.7l-0.4 0.5M247.6 805.4l-0.5 0.6M390.1 778.4l1.6 0.8M383.2 795.4l0.1 1.1M232.6 721.2l0.2 0.0M367.8 783.4l0.5 0.8M313.9 769.7l0.3 1.1M227.0 740.6l-0.0 1.3M224.3 767.6l-1.6 0.4M317.2 760.4l0.7 1.4M289.9 752.6l0.1 0.6M284.3 824.8l0.6 0.3M306.9 736.8l-0.4 0.1M234.6 723.1l0.7 1.6M372.7 771.1l-0.3 0.6M335.7 803.6l-0.1 0.7M337.3 792.3l0.7 0.4M232.6 732.3l-1.5 0.3M229.4 792.5l0.4 0.5M272.5 771.0l-0.5 0.9M235.5 713.2l-0.7 0.0M324.3 731.3l-0.9 1.5M227.4 758.4l0.4 0.2M312.2 726.0l0.0 0.9M278.8 801.4l-0.1 0.4M276.6 785.2l-0.5 0.3M409.0 759.5l-0.2 0.6M278.9 706.2l0.8 0.1M337.8 821.9l-0.2 0.3M232.3 718.1l0.0 1.8M304.1 761.1l0.8 0.8M301.3 817.8l0.1 0.6M344.7 732.7l0.9 0.6" stroke="#6b569f" stroke-width="2.07" stroke-linecap="round" fill="none" opacity="0.7"/>
<path d="M314.8 781.7l0.1 0.7M347.5 771.8l0.3 0.6M263.8 699.4l0.7 0.4M251.4 785.4l0.0 0.9M343.9 782.8l0.8 1.9M279.1 742.7l-1.7 0.8M408.5 759.3l-0.7 1.7M337.9 760.1l-0.3 0.7M297.2 798.4l-0.2 0.1M224.0 786.1l1.2 0.3M323.2 810.2l-0.3 0.3M336.0 738.9l-1.6 1.0M270.5 704.6l1.1 0.5M267.7 768.5l1.6 1.2M387.9 802.1l0.5 1.6M373.7 755.7l0.6 0.2M260.7 732.0l1.2 1.6M260.1 786.6l0.5 0.2M270.3 726.4l0.4 1.0M277.0 819.7l0.2 0.2M266.1 804.5l-0.0 0.3M270.6 702.7l0.0 2.0M363.7 817.0l0.1 1.5M330.0 822.1l0.1 0.7M395.7 777.9l0.8 1.0M273.4 807.6l-0.6 0.0M364.0 825.5l-0.3 1.5M369.7 808.9l-1.3 1.3M349.2 793.5l-0.7 0.8M364.0 780.8l-0.5 0.8M296.0 720.2l0.3 0.6M250.4 755.0l-1.3 0.1M352.9 779.9l-0.2 0.4M222.2 711.7l-0.2 0.7M220.9 754.2l0.6 0.2M345.6 725.9l0.6 0.8M304.6 726.3l0.7 0.1M300.6 791.5l-0.4 1.2M295.1 757.1l0.3 0.5M350.9 754.5l0.5 0.1M286.7 702.2l-1.0 0.4M292.3 699.5l-0.4 0.1M385.0 777.3l-0.4 2.0M310.4 774.8l0.1 0.3M389.8 803.7l-0.6 1.2M320.8 822.2l-0.1 0.2M223.7 783.8l0.2 0.1M331.0 719.3l0.9 0.9M274.1 774.1l-0.8 0.5M226.6 792.4l1.0 1.2M380.4 809.6l0.1 2.0M269.6 797.2l-0.1 0.6M332.4 798.2l-0.8 1.0M336.9 721.0l0.4 0.7M359.3 797.5l-1.2 0.3M323.9 776.9l-0.4 0.4M349.7 753.6l1.3 0.0M254.7 802.7l-0.5 1.2M395.4 785.2l0.2 0.0M398.9 806.1l0.7 0.5M286.5 745.3l2.0 0.4M327.4 777.3l0.4 1.8M329.2 767.4l-0.5 0.4M389.4 812.7l1.0 0.7M228.7 766.8l0.1 2.0M389.8 761.7l0.2 1.4M363.4 818.8l-0.4 0.6M283.6 805.2l1.8 0.3M229.9 712.9l0.1 0.2M349.3 759.1l-0.9 0.2M242.1 798.9l-0.7 1.4M335.2 771.9l-1.0 0.0M252.0 741.5l0.4 1.6M404.5 718.7l-0.3 0.3M333.0 716.5l1.2 1.1M247.5 742.4l-0.1 0.3M305.4 789.4l1.9 0.5" stroke="#8c523a" stroke-width="2.53" stroke-linecap="round" fill="none" opacity="0.75"/>
</g>
<g clip-path="url(#clIR)">
<rect x="219.4" y="763.1" width="64.4" height="63.89999999999998" fill="#d4c2c6"/>
<polygon points="240,776 255,773 270,772 281,778 281,800 270,805 255,806 242,803 238,790" fill="#d5dbd9" opacity="1" stroke-linejoin="round"/>
<polygon points="224.93,800 224.59,803.22 223.01,805.4 221.06,805.36 219.42,803.19 219.1,800 219.28,796.72 221,793.65 222.92,795.08 224.38,796.53" fill="#d5dbd9" opacity="1" stroke-linejoin="round"/>
<path d="M226.4 774.8l0.6 0.1M268.7 809.0l-0.2 0.8M242.6 809.3l0.5 3.6M242.7 815.2l0.8 0.9M248.4 810.0l-2.9 3.2M242.1 819.4l3.3 1.9M232.5 778.6l1.9 0.6M233.6 820.3l-0.1 0.2M229.9 781.4l-1.1 1.9M274.4 772.9l1.2 3.6M238.8 809.3l-1.4 2.2M274.6 820.0l0.3 0.5M231.0 799.1l-4.0 1.0M228.8 818.1l-3.3 0.8M250.4 808.0l-1.0 4.3M276.8 803.4l1.3 0.6M281.5 825.0l-1.0 2.9M227.9 810.5l2.5 2.0M254.3 765.8l0.1 2.4" stroke="#7d64ae" stroke-width="4.369999999999999" stroke-linecap="round" fill="none" opacity="0.8"/>
<path d="M272.3 823.1l-3.3 0.0M256.8 807.4l1.6 0.1M264.1 822.8l-0.0 1.0M262.5 770.8l-0.8 2.3M229.6 796.2l-3.5 1.5M274.8 811.2l0.4 1.7M222.6 769.6l-2.4 1.3M225.1 770.4l-0.9 0.9M247.8 766.4l-3.7 1.1M232.9 822.2l0.1 0.7M243.3 809.0l2.8 0.8M221.9 826.5l-0.1 0.2M233.2 793.8l3.2 0.9M278.0 823.9l1.8 0.5M236.5 798.3l1.0 0.3M241.1 823.0l0.7 0.8M233.1 820.0l0.3 0.9M264.4 808.7l2.0 0.6M246.0 810.6l1.0 0.1M221.1 819.2l-0.8 1.3" stroke="#6b569f" stroke-width="4.14" stroke-linecap="round" fill="none" opacity="0.7"/>
<path d="M233.3 802.4l-0.5 0.7M237.8 787.5l0.8 3.8M221.6 765.0l-3.9 0.6M278.3 801.6l-0.2 1.1M225.7 800.4l-1.6 0.0M256.5 807.9l-2.4 2.5M245.1 819.9l-0.4 1.1M235.2 771.0l1.3 1.1M221.1 770.4l1.1 2.8" stroke="#8c523a" stroke-width="5.06" stroke-linecap="round" fill="none" opacity="0.75"/>
<ellipse cx="253.0" cy="801.0" rx="5.0" ry="5.0" fill="#98603f" opacity="0.7"/>
<ellipse cx="268.0" cy="815.0" rx="6.0" ry="5.0" fill="#98603f" opacity="0.7"/>
<ellipse cx="233.0" cy="774.0" rx="4.0" ry="5.0" fill="#98603f" opacity="0.7"/>
<ellipse cx="276.0" cy="788.0" rx="5.0" ry="3.0" fill="#98603f" opacity="0.7"/>
</g>
<rect x="219.4" y="763.1" width="64.4" height="63.89999999999998" fill="none" stroke="#111" stroke-width="1.4"/>
<polygon points="230.9,774.3 233,765.7 237.3,769.3" fill="#e8302e"/>
<polygon points="252.3,772.9 258.8,766.4 261.6,772.2" fill="#e8302e"/>
<polygon points="280.2,781.5 273.8,775.7 274.5,784.3" fill="#e8302e"/>
<polygon points="230.9,785.8 221.6,787.2 224.4,792.6" fill="#e8302e"/>
<polygon points="244.5,807.9 235.2,810.8 238.7,815.1" fill="#e8302e"/>
<polygon points="262.3,818 253,820.8 256.6,825.1" fill="#e8302e"/>
<rect x="310.5" y="733.2" width="38.2" height="38.2" fill="none" stroke="#111" stroke-width="1.2"/>
<line x1="219.4" y1="763.1" x2="310.5" y2="733.2" stroke="#111" stroke-width="1.2"/>
<line x1="283.8" y1="827" x2="348.7" y2="771.4" stroke="#111" stroke-width="1.2"/>
</svg></body></html>
